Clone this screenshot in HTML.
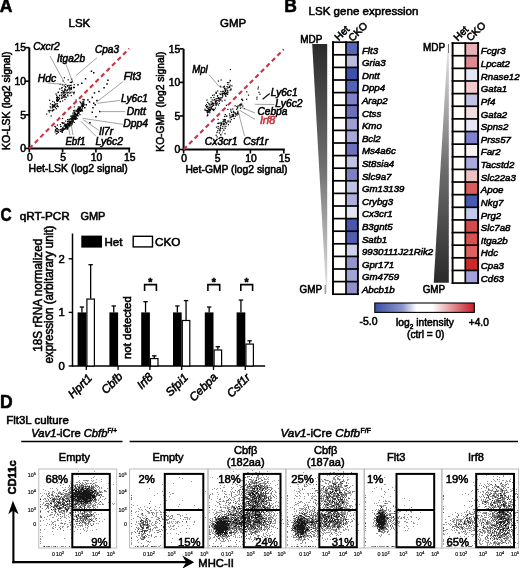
<!DOCTYPE html>
<html><head><meta charset="utf-8"><style>
html,body{margin:0;padding:0;background:#fff;}
svg{display:block;will-change:transform;filter:blur(0.3px);font-family:"Liberation Sans", sans-serif;}
text{stroke:#000;stroke-width:0.55px;}
.tk text{stroke-width:0.2px;}
</style></head><body>
<svg width="520" height="568" viewBox="0 0 520 568">
<defs><filter id="fb" x="-5%" y="-5%" width="110%" height="110%"><feGaussianBlur stdDeviation="0.35"/></filter></defs>
<rect width="520" height="568" fill="#fff"/>
<text x="-0.20" y="12.40" font-size="17.5" font-weight="bold">A</text>
<text x="284.30" y="12.40" font-size="17.5" font-weight="bold">B</text>
<text transform="translate(0.6,220.8) scale(0.88,1)" font-size="17.5" font-weight="bold">C</text>
<text x="0.00" y="407.80" font-size="17.5" font-weight="bold">D</text>
<g fill="#000">
<rect x="56.2" y="99.5" width="1.2" height="1.2"/>
<rect x="69.8" y="84.9" width="1.2" height="1.2"/>
<rect x="49.9" y="103.2" width="1.2" height="1.2"/>
<rect x="51.5" y="110.2" width="1.2" height="1.2"/>
<rect x="64.9" y="94.0" width="1.2" height="1.2"/>
<rect x="55.6" y="103.3" width="1.2" height="1.2"/>
<rect x="52.7" y="105.2" width="1.2" height="1.2"/>
<rect x="66.8" y="85.1" width="1.2" height="1.2"/>
<rect x="68.6" y="85.6" width="1.2" height="1.2"/>
<rect x="54.8" y="106.9" width="1.2" height="1.2"/>
<rect x="68.3" y="84.8" width="1.2" height="1.2"/>
<rect x="56.9" y="100.0" width="1.2" height="1.2"/>
<rect x="57.5" y="106.0" width="1.2" height="1.2"/>
<rect x="61.6" y="87.0" width="1.2" height="1.2"/>
<rect x="59.6" y="101.1" width="1.2" height="1.2"/>
<rect x="57.5" y="99.2" width="1.2" height="1.2"/>
<rect x="63.4" y="92.0" width="1.2" height="1.2"/>
<rect x="56.7" y="99.6" width="1.2" height="1.2"/>
<rect x="68.7" y="92.5" width="1.2" height="1.2"/>
<rect x="67.6" y="79.2" width="1.2" height="1.2"/>
<rect x="63.6" y="94.6" width="1.2" height="1.2"/>
<rect x="69.7" y="81.8" width="1.2" height="1.2"/>
<rect x="64.3" y="98.9" width="1.2" height="1.2"/>
<rect x="49.2" y="109.8" width="1.2" height="1.2"/>
<rect x="70.8" y="81.9" width="1.2" height="1.2"/>
<rect x="62.7" y="90.8" width="1.2" height="1.2"/>
<rect x="51.7" y="104.0" width="1.2" height="1.2"/>
<rect x="56.8" y="103.2" width="1.2" height="1.2"/>
<rect x="56.9" y="97.6" width="1.2" height="1.2"/>
<rect x="62.4" y="92.2" width="1.2" height="1.2"/>
<rect x="55.4" y="93.3" width="1.2" height="1.2"/>
<rect x="69.2" y="90.3" width="1.2" height="1.2"/>
<rect x="60.8" y="92.1" width="1.2" height="1.2"/>
<rect x="59.1" y="94.7" width="1.2" height="1.2"/>
<rect x="73.6" y="84.1" width="1.2" height="1.2"/>
<rect x="61.4" y="89.8" width="1.2" height="1.2"/>
<rect x="56.2" y="100.0" width="1.2" height="1.2"/>
<rect x="67.0" y="94.5" width="1.2" height="1.2"/>
<rect x="62.0" y="100.4" width="1.2" height="1.2"/>
<rect x="71.5" y="81.1" width="1.2" height="1.2"/>
<rect x="64.8" y="86.0" width="1.2" height="1.2"/>
<rect x="71.1" y="78.6" width="1.2" height="1.2"/>
<rect x="56.6" y="96.2" width="1.2" height="1.2"/>
<rect x="63.0" y="95.2" width="1.2" height="1.2"/>
<rect x="73.1" y="92.1" width="1.2" height="1.2"/>
<rect x="57.0" y="97.1" width="1.2" height="1.2"/>
<rect x="57.6" y="91.9" width="1.2" height="1.2"/>
<rect x="67.2" y="88.9" width="1.2" height="1.2"/>
<rect x="66.2" y="90.4" width="1.2" height="1.2"/>
<rect x="64.6" y="92.2" width="1.2" height="1.2"/>
<rect x="70.6" y="84.7" width="1.2" height="1.2"/>
<rect x="59.1" y="88.3" width="1.2" height="1.2"/>
<rect x="53.0" y="109.3" width="1.2" height="1.2"/>
<rect x="56.6" y="97.6" width="1.2" height="1.2"/>
<rect x="60.9" y="95.1" width="1.2" height="1.2"/>
<rect x="64.2" y="90.2" width="1.2" height="1.2"/>
<rect x="73.0" y="87.1" width="1.2" height="1.2"/>
<rect x="50.2" y="107.3" width="1.2" height="1.2"/>
<rect x="61.0" y="87.5" width="1.2" height="1.2"/>
<rect x="47.8" y="110.2" width="1.2" height="1.2"/>
<rect x="71.4" y="91.5" width="1.2" height="1.2"/>
<rect x="63.8" y="95.3" width="1.2" height="1.2"/>
<rect x="63.2" y="96.8" width="1.2" height="1.2"/>
<rect x="73.8" y="86.9" width="1.2" height="1.2"/>
<rect x="71.0" y="87.1" width="1.2" height="1.2"/>
<rect x="54.2" y="104.8" width="1.2" height="1.2"/>
<rect x="70.4" y="88.7" width="1.2" height="1.2"/>
<rect x="51.9" y="110.2" width="1.2" height="1.2"/>
<rect x="61.8" y="84.2" width="1.2" height="1.2"/>
<rect x="65.2" y="86.9" width="1.2" height="1.2"/>
<rect x="64.0" y="88.5" width="1.2" height="1.2"/>
<rect x="56.0" y="96.9" width="1.2" height="1.2"/>
<rect x="73.7" y="91.5" width="1.2" height="1.2"/>
<rect x="52.0" y="107.3" width="1.2" height="1.2"/>
<rect x="61.3" y="97.3" width="1.2" height="1.2"/>
<rect x="63.6" y="85.3" width="1.2" height="1.2"/>
<rect x="57.7" y="100.1" width="1.2" height="1.2"/>
<rect x="56.6" y="105.6" width="1.2" height="1.2"/>
<rect x="53.2" y="109.2" width="1.2" height="1.2"/>
<rect x="59.5" y="83.7" width="1.2" height="1.2"/>
<rect x="63.3" y="93.1" width="1.2" height="1.2"/>
<rect x="58.3" y="96.9" width="1.2" height="1.2"/>
<rect x="49.4" y="110.0" width="1.2" height="1.2"/>
<rect x="56.4" y="98.8" width="1.2" height="1.2"/>
<rect x="49.0" y="99.7" width="1.2" height="1.2"/>
<rect x="64.5" y="96.7" width="1.2" height="1.2"/>
<rect x="64.5" y="88.8" width="1.2" height="1.2"/>
<rect x="62.6" y="91.5" width="1.2" height="1.2"/>
<rect x="63.6" y="94.7" width="1.2" height="1.2"/>
<rect x="56.6" y="100.9" width="1.2" height="1.2"/>
<rect x="54.9" y="103.4" width="1.2" height="1.2"/>
<rect x="48.8" y="111.4" width="1.2" height="1.2"/>
<rect x="66.8" y="85.6" width="1.2" height="1.2"/>
<rect x="62.8" y="95.0" width="1.2" height="1.2"/>
<rect x="70.6" y="88.6" width="1.2" height="1.2"/>
<rect x="62.5" y="80.4" width="1.2" height="1.2"/>
<rect x="66.5" y="92.3" width="1.2" height="1.2"/>
<rect x="67.6" y="91.8" width="1.2" height="1.2"/>
<rect x="70.7" y="95.0" width="1.2" height="1.2"/>
<rect x="71.8" y="80.6" width="1.2" height="1.2"/>
<rect x="68.5" y="87.2" width="1.2" height="1.2"/>
<rect x="59.0" y="97.9" width="1.2" height="1.2"/>
<rect x="57.3" y="97.1" width="1.2" height="1.2"/>
<rect x="49.6" y="106.2" width="1.2" height="1.2"/>
<rect x="66.5" y="92.4" width="1.2" height="1.2"/>
<rect x="61.8" y="96.5" width="1.2" height="1.2"/>
<rect x="52.6" y="104.6" width="1.2" height="1.2"/>
<rect x="55.7" y="108.1" width="1.2" height="1.2"/>
<rect x="64.5" y="95.6" width="1.2" height="1.2"/>
<rect x="51.9" y="109.6" width="1.2" height="1.2"/>
<rect x="51.7" y="106.1" width="1.2" height="1.2"/>
<rect x="52.2" y="106.2" width="1.2" height="1.2"/>
<rect x="53.6" y="105.3" width="1.2" height="1.2"/>
<rect x="52.3" y="104.6" width="1.2" height="1.2"/>
<rect x="46.1" y="113.5" width="1.2" height="1.2"/>
<rect x="70.6" y="86.8" width="1.2" height="1.2"/>
<rect x="70.0" y="92.3" width="1.2" height="1.2"/>
<rect x="63.8" y="77.2" width="1.2" height="1.2"/>
<rect x="73.3" y="93.1" width="1.2" height="1.2"/>
<rect x="58.9" y="95.2" width="1.2" height="1.2"/>
<rect x="52.1" y="100.9" width="1.2" height="1.2"/>
<rect x="66.6" y="89.7" width="1.2" height="1.2"/>
<rect x="65.6" y="96.6" width="1.2" height="1.2"/>
<rect x="53.9" y="106.1" width="1.2" height="1.2"/>
<rect x="59.8" y="100.8" width="1.2" height="1.2"/>
<rect x="65.1" y="89.5" width="1.2" height="1.2"/>
<rect x="54.1" y="105.6" width="1.2" height="1.2"/>
<rect x="52.3" y="105.9" width="1.2" height="1.2"/>
<rect x="57.7" y="99.6" width="1.2" height="1.2"/>
<rect x="50.6" y="115.3" width="1.2" height="1.2"/>
<rect x="63.9" y="90.3" width="1.2" height="1.2"/>
<rect x="56.0" y="94.6" width="1.2" height="1.2"/>
<rect x="67.4" y="95.3" width="1.2" height="1.2"/>
<rect x="52.9" y="106.0" width="1.2" height="1.2"/>
<rect x="70.8" y="88.3" width="1.2" height="1.2"/>
<rect x="54.1" y="103.7" width="1.2" height="1.2"/>
<rect x="56.3" y="105.5" width="1.2" height="1.2"/>
<rect x="53.8" y="101.7" width="1.2" height="1.2"/>
<rect x="73.1" y="86.7" width="1.2" height="1.2"/>
<rect x="68.6" y="88.4" width="1.2" height="1.2"/>
<rect x="57.7" y="91.6" width="1.2" height="1.2"/>
<rect x="63.7" y="91.7" width="1.2" height="1.2"/>
<rect x="68.5" y="87.0" width="1.2" height="1.2"/>
<rect x="69.6" y="87.8" width="1.2" height="1.2"/>
<rect x="65.1" y="83.8" width="1.2" height="1.2"/>
<rect x="68.5" y="88.4" width="1.2" height="1.2"/>
<rect x="58.3" y="98.8" width="1.2" height="1.2"/>
<rect x="57.0" y="105.3" width="1.2" height="1.2"/>
<rect x="61.4" y="93.6" width="1.2" height="1.2"/>
<rect x="61.1" y="97.9" width="1.2" height="1.2"/>
<rect x="69.5" y="124.2" width="1.2" height="1.2"/>
<rect x="78.7" y="108.6" width="1.2" height="1.2"/>
<rect x="72.2" y="120.9" width="1.2" height="1.2"/>
<rect x="56.8" y="128.0" width="1.2" height="1.2"/>
<rect x="62.3" y="127.3" width="1.2" height="1.2"/>
<rect x="81.8" y="110.2" width="1.2" height="1.2"/>
<rect x="75.4" y="117.0" width="1.2" height="1.2"/>
<rect x="68.8" y="124.0" width="1.2" height="1.2"/>
<rect x="59.8" y="124.0" width="1.2" height="1.2"/>
<rect x="73.2" y="114.6" width="1.2" height="1.2"/>
<rect x="67.2" y="121.1" width="1.2" height="1.2"/>
<rect x="64.9" y="124.4" width="1.2" height="1.2"/>
<rect x="67.9" y="124.5" width="1.2" height="1.2"/>
<rect x="65.1" y="120.5" width="1.2" height="1.2"/>
<rect x="57.5" y="131.6" width="1.2" height="1.2"/>
<rect x="80.1" y="110.6" width="1.2" height="1.2"/>
<rect x="67.7" y="123.2" width="1.2" height="1.2"/>
<rect x="72.7" y="116.8" width="1.2" height="1.2"/>
<rect x="60.1" y="126.0" width="1.2" height="1.2"/>
<rect x="73.4" y="116.5" width="1.2" height="1.2"/>
<rect x="60.1" y="129.1" width="1.2" height="1.2"/>
<rect x="76.8" y="113.0" width="1.2" height="1.2"/>
<rect x="73.8" y="112.1" width="1.2" height="1.2"/>
<rect x="66.5" y="126.0" width="1.2" height="1.2"/>
<rect x="71.4" y="119.8" width="1.2" height="1.2"/>
<rect x="67.9" y="123.9" width="1.2" height="1.2"/>
<rect x="74.2" y="115.2" width="1.2" height="1.2"/>
<rect x="70.6" y="124.7" width="1.2" height="1.2"/>
<rect x="78.8" y="108.5" width="1.2" height="1.2"/>
<rect x="67.0" y="127.4" width="1.2" height="1.2"/>
<rect x="80.2" y="107.4" width="1.2" height="1.2"/>
<rect x="64.3" y="128.0" width="1.2" height="1.2"/>
<rect x="60.6" y="128.7" width="1.2" height="1.2"/>
<rect x="66.9" y="122.8" width="1.2" height="1.2"/>
<rect x="65.4" y="127.3" width="1.2" height="1.2"/>
<rect x="64.6" y="125.1" width="1.2" height="1.2"/>
<rect x="72.8" y="120.3" width="1.2" height="1.2"/>
<rect x="73.5" y="116.0" width="1.2" height="1.2"/>
<rect x="68.9" y="121.0" width="1.2" height="1.2"/>
<rect x="77.5" y="115.4" width="1.2" height="1.2"/>
<rect x="70.5" y="118.5" width="1.2" height="1.2"/>
<rect x="66.3" y="124.0" width="1.2" height="1.2"/>
<rect x="82.4" y="102.6" width="1.2" height="1.2"/>
<rect x="80.9" y="109.7" width="1.2" height="1.2"/>
<rect x="69.3" y="120.4" width="1.2" height="1.2"/>
<rect x="72.2" y="119.2" width="1.2" height="1.2"/>
<rect x="68.6" y="122.6" width="1.2" height="1.2"/>
<rect x="68.7" y="121.6" width="1.2" height="1.2"/>
<rect x="83.6" y="103.6" width="1.2" height="1.2"/>
<rect x="80.6" y="105.7" width="1.2" height="1.2"/>
<rect x="55.7" y="133.3" width="1.2" height="1.2"/>
<rect x="82.4" y="98.8" width="1.2" height="1.2"/>
<rect x="71.2" y="124.2" width="1.2" height="1.2"/>
<rect x="68.6" y="124.0" width="1.2" height="1.2"/>
<rect x="71.0" y="122.7" width="1.2" height="1.2"/>
<rect x="65.4" y="126.3" width="1.2" height="1.2"/>
<rect x="73.7" y="111.5" width="1.2" height="1.2"/>
<rect x="65.3" y="124.9" width="1.2" height="1.2"/>
<rect x="68.4" y="122.5" width="1.2" height="1.2"/>
<rect x="80.1" y="110.4" width="1.2" height="1.2"/>
<rect x="73.0" y="116.1" width="1.2" height="1.2"/>
<rect x="68.0" y="126.5" width="1.2" height="1.2"/>
<rect x="82.4" y="100.9" width="1.2" height="1.2"/>
<rect x="73.7" y="117.2" width="1.2" height="1.2"/>
<rect x="74.7" y="117.7" width="1.2" height="1.2"/>
<rect x="83.4" y="104.5" width="1.2" height="1.2"/>
<rect x="82.8" y="102.8" width="1.2" height="1.2"/>
<rect x="57.5" y="129.0" width="1.2" height="1.2"/>
<rect x="82.5" y="104.4" width="1.2" height="1.2"/>
<rect x="58.4" y="129.3" width="1.2" height="1.2"/>
<rect x="66.1" y="126.7" width="1.2" height="1.2"/>
<rect x="69.5" y="124.0" width="1.2" height="1.2"/>
<rect x="56.8" y="124.5" width="1.2" height="1.2"/>
<rect x="80.1" y="102.0" width="1.2" height="1.2"/>
<rect x="66.3" y="125.8" width="1.2" height="1.2"/>
<rect x="64.2" y="124.3" width="1.2" height="1.2"/>
<rect x="55.1" y="129.5" width="1.2" height="1.2"/>
<rect x="82.6" y="102.3" width="1.2" height="1.2"/>
<rect x="62.3" y="129.7" width="1.2" height="1.2"/>
<rect x="76.5" y="110.7" width="1.2" height="1.2"/>
<rect x="73.1" y="118.4" width="1.2" height="1.2"/>
<rect x="73.4" y="116.1" width="1.2" height="1.2"/>
<rect x="59.8" y="130.8" width="1.2" height="1.2"/>
<rect x="76.4" y="113.7" width="1.2" height="1.2"/>
<rect x="81.3" y="105.1" width="1.2" height="1.2"/>
<rect x="61.5" y="122.0" width="1.2" height="1.2"/>
<rect x="62.9" y="128.3" width="1.2" height="1.2"/>
<rect x="79.7" y="110.6" width="1.2" height="1.2"/>
<rect x="73.6" y="121.8" width="1.2" height="1.2"/>
<rect x="67.9" y="126.1" width="1.2" height="1.2"/>
<rect x="67.4" y="125.9" width="1.2" height="1.2"/>
<rect x="82.0" y="105.8" width="1.2" height="1.2"/>
<rect x="63.4" y="125.5" width="1.2" height="1.2"/>
<rect x="67.0" y="127.8" width="1.2" height="1.2"/>
<rect x="74.9" y="114.0" width="1.2" height="1.2"/>
<rect x="74.1" y="116.7" width="1.2" height="1.2"/>
<rect x="68.1" y="120.7" width="1.2" height="1.2"/>
<rect x="70.4" y="118.5" width="1.2" height="1.2"/>
<rect x="79.4" y="107.0" width="1.2" height="1.2"/>
<rect x="82.6" y="104.9" width="1.2" height="1.2"/>
<rect x="81.6" y="103.9" width="1.2" height="1.2"/>
<rect x="57.8" y="131.7" width="1.2" height="1.2"/>
<rect x="77.7" y="111.4" width="1.2" height="1.2"/>
<rect x="81.9" y="107.2" width="1.2" height="1.2"/>
<rect x="77.8" y="106.3" width="1.2" height="1.2"/>
<rect x="75.6" y="115.0" width="1.2" height="1.2"/>
<rect x="55.0" y="126.5" width="1.2" height="1.2"/>
<rect x="63.9" y="124.5" width="1.2" height="1.2"/>
<rect x="70.5" y="120.6" width="1.2" height="1.2"/>
<rect x="74.1" y="117.8" width="1.2" height="1.2"/>
<rect x="55.8" y="127.9" width="1.2" height="1.2"/>
<rect x="62.2" y="129.8" width="1.2" height="1.2"/>
<rect x="67.1" y="121.1" width="1.2" height="1.2"/>
<rect x="65.4" y="123.4" width="1.2" height="1.2"/>
<rect x="75.6" y="117.2" width="1.2" height="1.2"/>
<rect x="73.2" y="116.0" width="1.2" height="1.2"/>
<rect x="73.2" y="110.1" width="1.2" height="1.2"/>
<rect x="73.6" y="113.6" width="1.2" height="1.2"/>
<rect x="69.4" y="125.4" width="1.2" height="1.2"/>
<rect x="67.5" y="125.6" width="1.2" height="1.2"/>
<rect x="77.8" y="109.9" width="1.2" height="1.2"/>
<rect x="79.4" y="109.9" width="1.2" height="1.2"/>
<rect x="78.9" y="107.9" width="1.2" height="1.2"/>
<rect x="68.6" y="124.6" width="1.2" height="1.2"/>
<rect x="77.1" y="112.4" width="1.2" height="1.2"/>
<rect x="74.9" y="113.2" width="1.2" height="1.2"/>
<rect x="72.0" y="115.6" width="1.2" height="1.2"/>
<rect x="72.7" y="116.2" width="1.2" height="1.2"/>
<rect x="71.4" y="120.8" width="1.2" height="1.2"/>
<rect x="77.6" y="107.8" width="1.2" height="1.2"/>
<rect x="68.8" y="118.6" width="1.2" height="1.2"/>
<rect x="54.4" y="125.8" width="1.2" height="1.2"/>
<rect x="64.8" y="127.6" width="1.2" height="1.2"/>
<rect x="75.2" y="115.8" width="1.2" height="1.2"/>
<rect x="61.6" y="131.2" width="1.2" height="1.2"/>
<rect x="65.4" y="126.8" width="1.2" height="1.2"/>
<rect x="78.8" y="108.8" width="1.2" height="1.2"/>
<rect x="63.8" y="113.5" width="1.2" height="1.2"/>
<rect x="66.8" y="126.5" width="1.2" height="1.2"/>
<rect x="74.4" y="113.8" width="1.2" height="1.2"/>
<rect x="73.8" y="115.0" width="1.2" height="1.2"/>
<rect x="78.4" y="109.4" width="1.2" height="1.2"/>
<rect x="81.8" y="108.3" width="1.2" height="1.2"/>
<rect x="62.0" y="117.9" width="1.2" height="1.2"/>
<rect x="74.1" y="112.2" width="1.2" height="1.2"/>
<rect x="79.0" y="109.1" width="1.2" height="1.2"/>
<rect x="65.6" y="128.3" width="1.2" height="1.2"/>
<rect x="72.6" y="116.8" width="1.2" height="1.2"/>
<rect x="67.7" y="124.1" width="1.2" height="1.2"/>
<rect x="71.0" y="115.5" width="1.2" height="1.2"/>
<rect x="74.0" y="112.1" width="1.2" height="1.2"/>
<rect x="69.9" y="121.8" width="1.2" height="1.2"/>
<rect x="67.7" y="124.1" width="1.2" height="1.2"/>
<rect x="69.5" y="121.9" width="1.2" height="1.2"/>
<rect x="73.9" y="114.8" width="1.2" height="1.2"/>
<rect x="71.4" y="118.8" width="1.2" height="1.2"/>
<rect x="80.6" y="103.2" width="1.2" height="1.2"/>
<rect x="56.5" y="130.8" width="1.2" height="1.2"/>
<rect x="71.3" y="118.7" width="1.2" height="1.2"/>
<rect x="76.1" y="110.2" width="1.2" height="1.2"/>
<rect x="65.9" y="124.3" width="1.2" height="1.2"/>
<rect x="68.0" y="124.7" width="1.2" height="1.2"/>
<rect x="77.2" y="114.7" width="1.2" height="1.2"/>
<rect x="72.2" y="117.7" width="1.2" height="1.2"/>
<rect x="77.7" y="107.9" width="1.2" height="1.2"/>
<rect x="72.4" y="117.3" width="1.2" height="1.2"/>
<rect x="64.5" y="124.5" width="1.2" height="1.2"/>
<rect x="72.4" y="120.5" width="1.2" height="1.2"/>
<rect x="56.6" y="127.8" width="1.2" height="1.2"/>
<rect x="61.9" y="131.5" width="1.2" height="1.2"/>
<rect x="83.2" y="101.3" width="1.2" height="1.2"/>
<rect x="62.8" y="122.6" width="1.2" height="1.2"/>
<rect x="61.1" y="131.2" width="1.2" height="1.2"/>
<rect x="74.5" y="118.7" width="1.2" height="1.2"/>
<rect x="79.1" y="106.4" width="1.2" height="1.2"/>
<rect x="69.4" y="123.4" width="1.2" height="1.2"/>
<rect x="62.4" y="127.3" width="1.2" height="1.2"/>
<rect x="73.6" y="112.3" width="1.2" height="1.2"/>
<rect x="66.8" y="128.5" width="1.2" height="1.2"/>
<rect x="75.0" y="113.8" width="1.2" height="1.2"/>
<rect x="65.0" y="125.5" width="1.2" height="1.2"/>
<rect x="81.6" y="105.0" width="1.2" height="1.2"/>
<rect x="79.9" y="107.1" width="1.2" height="1.2"/>
<rect x="78.1" y="112.7" width="1.2" height="1.2"/>
<rect x="69.8" y="123.0" width="1.2" height="1.2"/>
<rect x="79.5" y="106.9" width="1.2" height="1.2"/>
<rect x="81.9" y="104.1" width="1.2" height="1.2"/>
<rect x="68.6" y="125.1" width="1.2" height="1.2"/>
<rect x="67.0" y="119.1" width="1.2" height="1.2"/>
<rect x="75.7" y="118.4" width="1.2" height="1.2"/>
<rect x="75.7" y="114.1" width="1.2" height="1.2"/>
<rect x="83.4" y="99.3" width="1.2" height="1.2"/>
<rect x="79.9" y="110.7" width="1.2" height="1.2"/>
<rect x="61.2" y="129.6" width="1.2" height="1.2"/>
<rect x="65.5" y="125.8" width="1.2" height="1.2"/>
<rect x="67.4" y="124.5" width="1.2" height="1.2"/>
<rect x="78.2" y="107.8" width="1.2" height="1.2"/>
<rect x="75.4" y="115.5" width="1.2" height="1.2"/>
<rect x="63.3" y="128.7" width="1.2" height="1.2"/>
<rect x="77.2" y="110.8" width="1.2" height="1.2"/>
<rect x="67.9" y="124.9" width="1.2" height="1.2"/>
<rect x="70.4" y="121.1" width="1.2" height="1.2"/>
<rect x="74.7" y="118.9" width="1.2" height="1.2"/>
<rect x="81.7" y="102.6" width="1.2" height="1.2"/>
<rect x="63.7" y="122.5" width="1.2" height="1.2"/>
<rect x="77.9" y="112.3" width="1.2" height="1.2"/>
<rect x="60.3" y="125.8" width="1.2" height="1.2"/>
<rect x="71.9" y="118.0" width="1.2" height="1.2"/>
<rect x="67.5" y="126.5" width="1.2" height="1.2"/>
<rect x="81.5" y="110.1" width="1.2" height="1.2"/>
<rect x="80.5" y="108.8" width="1.2" height="1.2"/>
<rect x="68.1" y="126.0" width="1.2" height="1.2"/>
<rect x="70.2" y="122.3" width="1.2" height="1.2"/>
<rect x="62.2" y="122.7" width="1.2" height="1.2"/>
<rect x="68.0" y="124.2" width="1.2" height="1.2"/>
<rect x="78.8" y="111.4" width="1.2" height="1.2"/>
<rect x="67.1" y="125.7" width="1.2" height="1.2"/>
<rect x="66.6" y="125.4" width="1.2" height="1.2"/>
<rect x="55.2" y="129.0" width="1.2" height="1.2"/>
<rect x="66.5" y="124.0" width="1.2" height="1.2"/>
<rect x="70.2" y="118.1" width="1.2" height="1.2"/>
<rect x="77.9" y="110.3" width="1.2" height="1.2"/>
<rect x="61.5" y="129.0" width="1.2" height="1.2"/>
<rect x="73.3" y="110.2" width="1.2" height="1.2"/>
<rect x="76.7" y="115.0" width="1.2" height="1.2"/>
<rect x="74.8" y="116.1" width="1.2" height="1.2"/>
<rect x="61.8" y="122.1" width="1.2" height="1.2"/>
<rect x="79.4" y="101.1" width="1.2" height="1.2"/>
<rect x="70.1" y="115.6" width="1.2" height="1.2"/>
<rect x="72.5" y="118.5" width="1.2" height="1.2"/>
<rect x="66.7" y="123.7" width="1.2" height="1.2"/>
<rect x="70.6" y="121.4" width="1.2" height="1.2"/>
<rect x="64.1" y="128.6" width="1.2" height="1.2"/>
<rect x="66.4" y="126.3" width="1.2" height="1.2"/>
<rect x="73.7" y="106.3" width="1.2" height="1.2"/>
<rect x="56.4" y="132.9" width="1.2" height="1.2"/>
<rect x="62.5" y="129.5" width="1.2" height="1.2"/>
<rect x="74.0" y="115.9" width="1.2" height="1.2"/>
<rect x="69.6" y="123.0" width="1.2" height="1.2"/>
<rect x="54.6" y="131.3" width="1.2" height="1.2"/>
<rect x="70.9" y="116.6" width="1.2" height="1.2"/>
<rect x="76.8" y="108.8" width="1.2" height="1.2"/>
<rect x="77.2" y="111.3" width="1.2" height="1.2"/>
<rect x="72.3" y="112.6" width="1.2" height="1.2"/>
<rect x="71.5" y="117.9" width="1.2" height="1.2"/>
<rect x="72.2" y="114.6" width="1.2" height="1.2"/>
<rect x="79.4" y="114.0" width="1.2" height="1.2"/>
<rect x="75.4" y="111.0" width="1.2" height="1.2"/>
<rect x="68.3" y="119.2" width="1.2" height="1.2"/>
<rect x="76.7" y="109.7" width="1.2" height="1.2"/>
<rect x="79.7" y="108.5" width="1.2" height="1.2"/>
<rect x="65.8" y="126.0" width="1.2" height="1.2"/>
<rect x="74.2" y="117.8" width="1.2" height="1.2"/>
<rect x="74.5" y="109.7" width="1.2" height="1.2"/>
<rect x="80.8" y="109.2" width="1.2" height="1.2"/>
<rect x="54.8" y="129.6" width="1.2" height="1.2"/>
<rect x="76.6" y="118.0" width="1.2" height="1.2"/>
<rect x="78.1" y="109.9" width="1.2" height="1.2"/>
<rect x="78.1" y="112.9" width="1.2" height="1.2"/>
<rect x="57.1" y="130.6" width="1.2" height="1.2"/>
<rect x="71.3" y="123.4" width="1.2" height="1.2"/>
<rect x="75.5" y="99.5" width="1.2" height="1.2"/>
<rect x="60.1" y="129.1" width="1.2" height="1.2"/>
<rect x="76.9" y="114.3" width="1.2" height="1.2"/>
<rect x="71.4" y="122.7" width="1.2" height="1.2"/>
<rect x="79.2" y="108.6" width="1.2" height="1.2"/>
<rect x="78.9" y="109.8" width="1.2" height="1.2"/>
<rect x="83.5" y="99.2" width="1.2" height="1.2"/>
<rect x="75.6" y="113.9" width="1.2" height="1.2"/>
<rect x="61.8" y="128.0" width="1.2" height="1.2"/>
<rect x="74.0" y="118.3" width="1.2" height="1.2"/>
<rect x="55.9" y="130.6" width="1.2" height="1.2"/>
<rect x="78.3" y="109.4" width="1.2" height="1.2"/>
<rect x="66.8" y="126.6" width="1.2" height="1.2"/>
<rect x="64.6" y="126.1" width="1.2" height="1.2"/>
<rect x="66.3" y="124.3" width="1.2" height="1.2"/>
<rect x="72.8" y="117.8" width="1.2" height="1.2"/>
<rect x="68.8" y="124.5" width="1.2" height="1.2"/>
<rect x="72.0" y="121.6" width="1.2" height="1.2"/>
<rect x="83.0" y="103.1" width="1.2" height="1.2"/>
<rect x="90.7" y="70.5" width="1.5" height="1.5"/>
<rect x="93.0" y="72.0" width="1.5" height="1.5"/>
<rect x="84.8" y="78.0" width="1.5" height="1.5"/>
<rect x="81.0" y="82.5" width="1.5" height="1.5"/>
<rect x="77.2" y="84.0" width="1.5" height="1.5"/>
<rect x="107.2" y="79.5" width="1.5" height="1.5"/>
<rect x="106.3" y="83.2" width="1.5" height="1.5"/>
<rect x="103.3" y="87.0" width="1.5" height="1.5"/>
<rect x="98.2" y="90.7" width="1.5" height="1.5"/>
<rect x="93.7" y="92.2" width="1.5" height="1.5"/>
<rect x="91.5" y="96.7" width="1.5" height="1.5"/>
<rect x="93.0" y="102.5" width="1.5" height="1.5"/>
<rect x="94.5" y="104.0" width="1.5" height="1.5"/>
<rect x="92.2" y="107.0" width="1.5" height="1.5"/>
<rect x="91.5" y="111.5" width="1.5" height="1.5"/>
<rect x="99.0" y="110.8" width="1.5" height="1.5"/>
<rect x="95.2" y="116.0" width="1.5" height="1.5"/>
<rect x="89.2" y="122.0" width="1.5" height="1.5"/>
<rect x="85.5" y="104.0" width="1.5" height="1.5"/>
<rect x="84.0" y="107.0" width="1.5" height="1.5"/>
<rect x="82.5" y="105.5" width="1.5" height="1.5"/>
<rect x="87.2" y="99.2" width="1.5" height="1.5"/>
<rect x="88.8" y="101.2" width="1.5" height="1.5"/>
<rect x="96.2" y="99.8" width="1.5" height="1.5"/>
<rect x="228.9" y="86.4" width="1.2" height="1.2"/>
<rect x="206.3" y="107.0" width="1.2" height="1.2"/>
<rect x="229.8" y="68.9" width="1.2" height="1.2"/>
<rect x="229.2" y="86.1" width="1.2" height="1.2"/>
<rect x="204.4" y="108.6" width="1.2" height="1.2"/>
<rect x="218.9" y="97.7" width="1.2" height="1.2"/>
<rect x="217.6" y="97.8" width="1.2" height="1.2"/>
<rect x="208.9" y="110.5" width="1.2" height="1.2"/>
<rect x="215.7" y="103.3" width="1.2" height="1.2"/>
<rect x="219.5" y="85.7" width="1.2" height="1.2"/>
<rect x="226.5" y="86.0" width="1.2" height="1.2"/>
<rect x="209.8" y="107.3" width="1.2" height="1.2"/>
<rect x="223.9" y="85.6" width="1.2" height="1.2"/>
<rect x="205.9" y="106.0" width="1.2" height="1.2"/>
<rect x="229.5" y="84.5" width="1.2" height="1.2"/>
<rect x="213.1" y="104.8" width="1.2" height="1.2"/>
<rect x="225.3" y="95.8" width="1.2" height="1.2"/>
<rect x="217.8" y="97.4" width="1.2" height="1.2"/>
<rect x="229.7" y="79.8" width="1.2" height="1.2"/>
<rect x="206.6" y="115.2" width="1.2" height="1.2"/>
<rect x="209.8" y="109.0" width="1.2" height="1.2"/>
<rect x="205.9" y="103.9" width="1.2" height="1.2"/>
<rect x="211.9" y="105.7" width="1.2" height="1.2"/>
<rect x="223.9" y="93.3" width="1.2" height="1.2"/>
<rect x="212.5" y="104.4" width="1.2" height="1.2"/>
<rect x="205.6" y="109.8" width="1.2" height="1.2"/>
<rect x="224.8" y="90.6" width="1.2" height="1.2"/>
<rect x="214.9" y="101.7" width="1.2" height="1.2"/>
<rect x="210.4" y="101.1" width="1.2" height="1.2"/>
<rect x="220.0" y="93.9" width="1.2" height="1.2"/>
<rect x="222.3" y="90.9" width="1.2" height="1.2"/>
<rect x="209.4" y="104.7" width="1.2" height="1.2"/>
<rect x="209.1" y="103.5" width="1.2" height="1.2"/>
<rect x="230.3" y="89.2" width="1.2" height="1.2"/>
<rect x="219.2" y="99.4" width="1.2" height="1.2"/>
<rect x="212.1" y="94.7" width="1.2" height="1.2"/>
<rect x="210.6" y="108.2" width="1.2" height="1.2"/>
<rect x="214.8" y="107.5" width="1.2" height="1.2"/>
<rect x="217.6" y="97.5" width="1.2" height="1.2"/>
<rect x="226.3" y="91.8" width="1.2" height="1.2"/>
<rect x="215.5" y="103.2" width="1.2" height="1.2"/>
<rect x="215.3" y="99.6" width="1.2" height="1.2"/>
<rect x="211.6" y="103.0" width="1.2" height="1.2"/>
<rect x="224.9" y="90.0" width="1.2" height="1.2"/>
<rect x="221.6" y="97.1" width="1.2" height="1.2"/>
<rect x="215.7" y="98.1" width="1.2" height="1.2"/>
<rect x="227.3" y="87.2" width="1.2" height="1.2"/>
<rect x="213.3" y="96.9" width="1.2" height="1.2"/>
<rect x="220.6" y="79.4" width="1.2" height="1.2"/>
<rect x="215.5" y="104.9" width="1.2" height="1.2"/>
<rect x="209.5" y="109.8" width="1.2" height="1.2"/>
<rect x="217.1" y="90.4" width="1.2" height="1.2"/>
<rect x="206.8" y="111.3" width="1.2" height="1.2"/>
<rect x="210.6" y="103.8" width="1.2" height="1.2"/>
<rect x="225.2" y="93.3" width="1.2" height="1.2"/>
<rect x="217.8" y="104.4" width="1.2" height="1.2"/>
<rect x="220.2" y="98.2" width="1.2" height="1.2"/>
<rect x="225.7" y="92.9" width="1.2" height="1.2"/>
<rect x="211.2" y="108.2" width="1.2" height="1.2"/>
<rect x="226.9" y="82.0" width="1.2" height="1.2"/>
<rect x="210.4" y="97.1" width="1.2" height="1.2"/>
<rect x="218.1" y="97.2" width="1.2" height="1.2"/>
<rect x="208.3" y="108.7" width="1.2" height="1.2"/>
<rect x="208.7" y="107.2" width="1.2" height="1.2"/>
<rect x="212.7" y="102.7" width="1.2" height="1.2"/>
<rect x="205.1" y="105.2" width="1.2" height="1.2"/>
<rect x="222.2" y="95.3" width="1.2" height="1.2"/>
<rect x="209.2" y="112.1" width="1.2" height="1.2"/>
<rect x="219.3" y="99.0" width="1.2" height="1.2"/>
<rect x="214.1" y="98.9" width="1.2" height="1.2"/>
<rect x="221.8" y="92.6" width="1.2" height="1.2"/>
<rect x="220.2" y="86.3" width="1.2" height="1.2"/>
<rect x="219.3" y="93.2" width="1.2" height="1.2"/>
<rect x="228.3" y="82.0" width="1.2" height="1.2"/>
<rect x="216.3" y="100.0" width="1.2" height="1.2"/>
<rect x="224.3" y="99.6" width="1.2" height="1.2"/>
<rect x="204.5" y="109.8" width="1.2" height="1.2"/>
<rect x="212.5" y="103.1" width="1.2" height="1.2"/>
<rect x="215.1" y="103.4" width="1.2" height="1.2"/>
<rect x="227.1" y="90.3" width="1.2" height="1.2"/>
<rect x="217.8" y="80.5" width="1.2" height="1.2"/>
<rect x="226.3" y="88.3" width="1.2" height="1.2"/>
<rect x="216.5" y="102.2" width="1.2" height="1.2"/>
<rect x="212.5" y="104.6" width="1.2" height="1.2"/>
<rect x="222.8" y="93.1" width="1.2" height="1.2"/>
<rect x="215.9" y="92.4" width="1.2" height="1.2"/>
<rect x="229.6" y="80.4" width="1.2" height="1.2"/>
<rect x="221.8" y="93.6" width="1.2" height="1.2"/>
<rect x="208.3" y="109.8" width="1.2" height="1.2"/>
<rect x="217.0" y="95.5" width="1.2" height="1.2"/>
<rect x="223.5" y="86.4" width="1.2" height="1.2"/>
<rect x="216.9" y="95.1" width="1.2" height="1.2"/>
<rect x="206.3" y="105.8" width="1.2" height="1.2"/>
<rect x="220.3" y="91.0" width="1.2" height="1.2"/>
<rect x="221.9" y="95.3" width="1.2" height="1.2"/>
<rect x="224.2" y="93.3" width="1.2" height="1.2"/>
<rect x="220.4" y="96.9" width="1.2" height="1.2"/>
<rect x="210.5" y="106.0" width="1.2" height="1.2"/>
<rect x="227.3" y="91.9" width="1.2" height="1.2"/>
<rect x="208.5" y="106.6" width="1.2" height="1.2"/>
<rect x="215.5" y="91.6" width="1.2" height="1.2"/>
<rect x="227.1" y="93.5" width="1.2" height="1.2"/>
<rect x="215.4" y="92.7" width="1.2" height="1.2"/>
<rect x="228.9" y="86.9" width="1.2" height="1.2"/>
<rect x="225.2" y="93.2" width="1.2" height="1.2"/>
<rect x="207.0" y="113.6" width="1.2" height="1.2"/>
<rect x="223.9" y="92.0" width="1.2" height="1.2"/>
<rect x="206.7" y="112.0" width="1.2" height="1.2"/>
<rect x="211.6" y="99.3" width="1.2" height="1.2"/>
<rect x="231.3" y="85.2" width="1.2" height="1.2"/>
<rect x="221.5" y="100.4" width="1.2" height="1.2"/>
<rect x="214.8" y="101.3" width="1.2" height="1.2"/>
<rect x="220.2" y="99.3" width="1.2" height="1.2"/>
<rect x="207.1" y="101.8" width="1.2" height="1.2"/>
<rect x="229.5" y="89.6" width="1.2" height="1.2"/>
<rect x="224.2" y="88.4" width="1.2" height="1.2"/>
<rect x="218.7" y="102.8" width="1.2" height="1.2"/>
<rect x="213.7" y="94.4" width="1.2" height="1.2"/>
<rect x="207.1" y="111.6" width="1.2" height="1.2"/>
<rect x="224.9" y="94.7" width="1.2" height="1.2"/>
<rect x="216.4" y="103.3" width="1.2" height="1.2"/>
<rect x="206.0" y="110.3" width="1.2" height="1.2"/>
<rect x="217.7" y="98.3" width="1.2" height="1.2"/>
<rect x="224.8" y="91.0" width="1.2" height="1.2"/>
<rect x="222.7" y="86.5" width="1.2" height="1.2"/>
<rect x="207.7" y="111.1" width="1.2" height="1.2"/>
<rect x="224.9" y="89.6" width="1.2" height="1.2"/>
<rect x="222.5" y="90.7" width="1.2" height="1.2"/>
<rect x="217.5" y="99.9" width="1.2" height="1.2"/>
<rect x="227.3" y="83.9" width="1.2" height="1.2"/>
<rect x="215.5" y="100.7" width="1.2" height="1.2"/>
<rect x="209.6" y="109.1" width="1.2" height="1.2"/>
<rect x="224.3" y="87.7" width="1.2" height="1.2"/>
<rect x="207.2" y="114.8" width="1.2" height="1.2"/>
<rect x="207.0" y="110.0" width="1.2" height="1.2"/>
<rect x="207.8" y="108.5" width="1.2" height="1.2"/>
<rect x="230.4" y="88.3" width="1.2" height="1.2"/>
<rect x="213.4" y="103.0" width="1.2" height="1.2"/>
<rect x="211.0" y="104.0" width="1.2" height="1.2"/>
<rect x="221.5" y="93.6" width="1.2" height="1.2"/>
<rect x="212.8" y="108.6" width="1.2" height="1.2"/>
<rect x="211.7" y="102.8" width="1.2" height="1.2"/>
<rect x="225.3" y="89.3" width="1.2" height="1.2"/>
<rect x="207.3" y="108.0" width="1.2" height="1.2"/>
<rect x="209.2" y="110.5" width="1.2" height="1.2"/>
<rect x="228.4" y="86.6" width="1.2" height="1.2"/>
<rect x="207.1" y="105.8" width="1.2" height="1.2"/>
<rect x="210.9" y="107.1" width="1.2" height="1.2"/>
<rect x="206.3" y="99.4" width="1.2" height="1.2"/>
<rect x="212.8" y="109.9" width="1.2" height="1.2"/>
<rect x="226.9" y="90.3" width="1.2" height="1.2"/>
<rect x="211.9" y="108.9" width="1.2" height="1.2"/>
<rect x="211.6" y="101.7" width="1.2" height="1.2"/>
<rect x="218.6" y="100.8" width="1.2" height="1.2"/>
<rect x="224.8" y="90.2" width="1.2" height="1.2"/>
<rect x="226.8" y="93.8" width="1.2" height="1.2"/>
<rect x="222.6" y="92.6" width="1.2" height="1.2"/>
<rect x="213.9" y="109.1" width="1.2" height="1.2"/>
<rect x="223.9" y="87.9" width="1.2" height="1.2"/>
<rect x="207.7" y="111.6" width="1.2" height="1.2"/>
<rect x="209.2" y="109.1" width="1.2" height="1.2"/>
<rect x="213.4" y="99.6" width="1.2" height="1.2"/>
<rect x="208.0" y="103.2" width="1.2" height="1.2"/>
<rect x="224.8" y="92.9" width="1.2" height="1.2"/>
<rect x="215.1" y="101.1" width="1.2" height="1.2"/>
<rect x="240.3" y="103.4" width="1.2" height="1.2"/>
<rect x="236.3" y="106.0" width="1.2" height="1.2"/>
<rect x="224.2" y="119.0" width="1.2" height="1.2"/>
<rect x="236.9" y="111.3" width="1.2" height="1.2"/>
<rect x="229.7" y="121.5" width="1.2" height="1.2"/>
<rect x="217.3" y="122.8" width="1.2" height="1.2"/>
<rect x="222.3" y="125.8" width="1.2" height="1.2"/>
<rect x="222.3" y="121.2" width="1.2" height="1.2"/>
<rect x="221.6" y="127.8" width="1.2" height="1.2"/>
<rect x="224.9" y="120.4" width="1.2" height="1.2"/>
<rect x="231.6" y="113.9" width="1.2" height="1.2"/>
<rect x="222.7" y="123.3" width="1.2" height="1.2"/>
<rect x="237.1" y="112.8" width="1.2" height="1.2"/>
<rect x="241.2" y="103.5" width="1.2" height="1.2"/>
<rect x="232.0" y="115.4" width="1.2" height="1.2"/>
<rect x="234.9" y="112.7" width="1.2" height="1.2"/>
<rect x="233.2" y="112.2" width="1.2" height="1.2"/>
<rect x="217.5" y="127.9" width="1.2" height="1.2"/>
<rect x="236.9" y="107.5" width="1.2" height="1.2"/>
<rect x="232.9" y="114.0" width="1.2" height="1.2"/>
<rect x="220.0" y="134.2" width="1.2" height="1.2"/>
<rect x="224.4" y="133.1" width="1.2" height="1.2"/>
<rect x="223.4" y="120.9" width="1.2" height="1.2"/>
<rect x="238.9" y="104.3" width="1.2" height="1.2"/>
<rect x="223.3" y="129.7" width="1.2" height="1.2"/>
<rect x="227.5" y="121.1" width="1.2" height="1.2"/>
<rect x="217.6" y="126.0" width="1.2" height="1.2"/>
<rect x="238.0" y="113.5" width="1.2" height="1.2"/>
<rect x="222.6" y="119.1" width="1.2" height="1.2"/>
<rect x="218.4" y="122.5" width="1.2" height="1.2"/>
<rect x="234.5" y="105.2" width="1.2" height="1.2"/>
<rect x="237.2" y="106.6" width="1.2" height="1.2"/>
<rect x="223.4" y="121.1" width="1.2" height="1.2"/>
<rect x="223.4" y="120.0" width="1.2" height="1.2"/>
<rect x="231.8" y="115.5" width="1.2" height="1.2"/>
<rect x="240.2" y="104.0" width="1.2" height="1.2"/>
<rect x="234.6" y="115.7" width="1.2" height="1.2"/>
<rect x="223.7" y="123.5" width="1.2" height="1.2"/>
<rect x="215.6" y="134.7" width="1.2" height="1.2"/>
<rect x="220.6" y="124.3" width="1.2" height="1.2"/>
<rect x="230.2" y="108.7" width="1.2" height="1.2"/>
<rect x="225.8" y="104.7" width="1.2" height="1.2"/>
<rect x="236.5" y="114.4" width="1.2" height="1.2"/>
<rect x="241.4" y="98.6" width="1.2" height="1.2"/>
<rect x="218.8" y="132.3" width="1.2" height="1.2"/>
<rect x="223.3" y="122.8" width="1.2" height="1.2"/>
<rect x="230.5" y="115.7" width="1.2" height="1.2"/>
<rect x="219.8" y="126.7" width="1.2" height="1.2"/>
<rect x="224.6" y="127.7" width="1.2" height="1.2"/>
<rect x="217.6" y="122.9" width="1.2" height="1.2"/>
<rect x="232.9" y="110.7" width="1.2" height="1.2"/>
<rect x="223.3" y="123.9" width="1.2" height="1.2"/>
<rect x="229.2" y="115.1" width="1.2" height="1.2"/>
<rect x="228.9" y="113.3" width="1.2" height="1.2"/>
<rect x="230.4" y="116.8" width="1.2" height="1.2"/>
<rect x="219.7" y="130.2" width="1.2" height="1.2"/>
<rect x="242.0" y="99.8" width="1.2" height="1.2"/>
<rect x="230.7" y="118.9" width="1.2" height="1.2"/>
<rect x="221.1" y="123.0" width="1.2" height="1.2"/>
<rect x="219.9" y="128.1" width="1.2" height="1.2"/>
<rect x="236.1" y="113.3" width="1.2" height="1.2"/>
<rect x="224.7" y="119.0" width="1.2" height="1.2"/>
<rect x="226.1" y="122.4" width="1.2" height="1.2"/>
<rect x="222.8" y="123.9" width="1.2" height="1.2"/>
<rect x="231.0" y="111.8" width="1.2" height="1.2"/>
<rect x="219.6" y="122.5" width="1.2" height="1.2"/>
<rect x="232.7" y="115.3" width="1.2" height="1.2"/>
<rect x="242.2" y="105.4" width="1.2" height="1.2"/>
<rect x="219.2" y="128.6" width="1.2" height="1.2"/>
<rect x="232.2" y="108.4" width="1.2" height="1.2"/>
<rect x="229.3" y="117.3" width="1.2" height="1.2"/>
<rect x="240.8" y="104.3" width="1.2" height="1.2"/>
<rect x="225.3" y="125.8" width="1.2" height="1.2"/>
<rect x="218.7" y="129.6" width="1.2" height="1.2"/>
<rect x="217.0" y="130.3" width="1.2" height="1.2"/>
<rect x="225.1" y="121.8" width="1.2" height="1.2"/>
<rect x="229.6" y="120.6" width="1.2" height="1.2"/>
<rect x="227.4" y="120.2" width="1.2" height="1.2"/>
<rect x="235.2" y="114.2" width="1.2" height="1.2"/>
<rect x="215.9" y="126.5" width="1.2" height="1.2"/>
<rect x="237.5" y="111.5" width="1.2" height="1.2"/>
<rect x="227.8" y="124.1" width="1.2" height="1.2"/>
<rect x="220.6" y="123.7" width="1.2" height="1.2"/>
<rect x="234.6" y="112.4" width="1.2" height="1.2"/>
<rect x="224.1" y="118.9" width="1.2" height="1.2"/>
<rect x="227.2" y="108.8" width="1.2" height="1.2"/>
<rect x="237.5" y="105.2" width="1.2" height="1.2"/>
<rect x="226.3" y="115.5" width="1.2" height="1.2"/>
<rect x="216.5" y="136.3" width="1.2" height="1.2"/>
<rect x="239.6" y="105.0" width="1.2" height="1.2"/>
<rect x="236.0" y="108.7" width="1.2" height="1.2"/>
<rect x="233.4" y="111.6" width="1.2" height="1.2"/>
<rect x="224.6" y="114.0" width="1.2" height="1.2"/>
<rect x="230.3" y="110.4" width="1.2" height="1.2"/>
<rect x="237.2" y="112.6" width="1.2" height="1.2"/>
<rect x="232.3" y="116.0" width="1.2" height="1.2"/>
<rect x="220.1" y="125.1" width="1.2" height="1.2"/>
<rect x="220.5" y="121.9" width="1.2" height="1.2"/>
<rect x="224.0" y="115.9" width="1.2" height="1.2"/>
<rect x="232.9" y="114.6" width="1.2" height="1.2"/>
<rect x="225.7" y="115.6" width="1.2" height="1.2"/>
<rect x="225.7" y="123.2" width="1.2" height="1.2"/>
<rect x="216.4" y="132.0" width="1.2" height="1.2"/>
<rect x="217.5" y="118.7" width="1.2" height="1.2"/>
<rect x="233.6" y="117.9" width="1.2" height="1.2"/>
<rect x="246.0" y="98.7" width="1.2" height="1.2"/>
<rect x="239.9" y="107.6" width="1.2" height="1.2"/>
<rect x="257.8" y="86.5" width="1.2" height="1.2"/>
<rect x="256.3" y="98.5" width="1.2" height="1.2"/>
<rect x="243.8" y="108.0" width="1.2" height="1.2"/>
<rect x="256.4" y="96.7" width="1.2" height="1.2"/>
<rect x="258.4" y="91.7" width="1.2" height="1.2"/>
<rect x="257.4" y="88.3" width="1.2" height="1.2"/>
<rect x="246.2" y="91.3" width="1.2" height="1.2"/>
<rect x="247.9" y="94.5" width="1.2" height="1.2"/>
<rect x="241.1" y="98.9" width="1.2" height="1.2"/>
<rect x="259.4" y="93.6" width="1.2" height="1.2"/>
</g>
<line x1="29.30" y1="47.60" x2="29.30" y2="149.40" stroke="#000" stroke-width="2"/>
<line x1="28.30" y1="148.40" x2="130.20" y2="148.40" stroke="#000" stroke-width="2"/>
<line x1="25.30" y1="148.40" x2="29.30" y2="148.40" stroke="#000" stroke-width="1.6"/>
<text x="25.90" y="152.10" font-size="10.3" text-anchor="end">0</text>
<line x1="29.30" y1="148.40" x2="29.30" y2="152.40" stroke="#000" stroke-width="1.6"/>
<text x="29.90" y="160.80" font-size="10.3" text-anchor="middle">0</text>
<line x1="25.30" y1="114.80" x2="29.30" y2="114.80" stroke="#000" stroke-width="1.6"/>
<text x="25.90" y="118.50" font-size="10.3" text-anchor="end">5</text>
<line x1="62.60" y1="148.40" x2="62.60" y2="152.40" stroke="#000" stroke-width="1.6"/>
<text x="63.20" y="160.80" font-size="10.3" text-anchor="middle">5</text>
<line x1="25.30" y1="81.20" x2="29.30" y2="81.20" stroke="#000" stroke-width="1.6"/>
<text x="25.90" y="84.90" font-size="10.3" text-anchor="end">10</text>
<line x1="95.90" y1="148.40" x2="95.90" y2="152.40" stroke="#000" stroke-width="1.6"/>
<text x="96.50" y="160.80" font-size="10.3" text-anchor="middle">10</text>
<line x1="25.30" y1="47.60" x2="29.30" y2="47.60" stroke="#000" stroke-width="1.6"/>
<text x="25.90" y="51.30" font-size="10.3" text-anchor="end">15</text>
<line x1="129.20" y1="148.40" x2="129.20" y2="152.40" stroke="#000" stroke-width="1.6"/>
<text x="129.80" y="160.80" font-size="10.3" text-anchor="middle">15</text>
<line x1="29.30" y1="148.40" x2="129.20" y2="48.50" stroke="#cc3347" stroke-width="2.1" stroke-dasharray="4.6 3.2"/>
<text x="68.50" y="26.60" font-size="11.5">LSK</text>
<text x="28.60" y="172.30" font-size="10.5" textLength="99.20" lengthAdjust="spacingAndGlyphs">Het-LSK (log2 signal)</text>
<text transform="translate(10.30,100.75) rotate(-90)" font-size="10.5" text-anchor="middle" textLength="98.30" lengthAdjust="spacingAndGlyphs">KO-LSK (log2 signal)</text>
<line x1="183.60" y1="48.85" x2="183.60" y2="150.50" stroke="#000" stroke-width="2"/>
<line x1="182.60" y1="149.50" x2="284.80" y2="149.50" stroke="#000" stroke-width="2"/>
<line x1="179.60" y1="149.50" x2="183.60" y2="149.50" stroke="#000" stroke-width="1.6"/>
<text x="180.20" y="153.20" font-size="10.3" text-anchor="end">0</text>
<line x1="183.60" y1="149.50" x2="183.60" y2="153.50" stroke="#000" stroke-width="1.6"/>
<text x="184.20" y="161.90" font-size="10.3" text-anchor="middle">0</text>
<line x1="179.60" y1="115.95" x2="183.60" y2="115.95" stroke="#000" stroke-width="1.6"/>
<text x="180.20" y="119.65" font-size="10.3" text-anchor="end">5</text>
<line x1="217.00" y1="149.50" x2="217.00" y2="153.50" stroke="#000" stroke-width="1.6"/>
<text x="217.60" y="161.90" font-size="10.3" text-anchor="middle">5</text>
<line x1="179.60" y1="82.40" x2="183.60" y2="82.40" stroke="#000" stroke-width="1.6"/>
<text x="180.20" y="86.10" font-size="10.3" text-anchor="end">10</text>
<line x1="250.40" y1="149.50" x2="250.40" y2="153.50" stroke="#000" stroke-width="1.6"/>
<text x="251.00" y="161.90" font-size="10.3" text-anchor="middle">10</text>
<line x1="179.60" y1="48.85" x2="183.60" y2="48.85" stroke="#000" stroke-width="1.6"/>
<text x="180.20" y="52.55" font-size="10.3" text-anchor="end">15</text>
<line x1="283.80" y1="149.50" x2="283.80" y2="153.50" stroke="#000" stroke-width="1.6"/>
<text x="284.40" y="161.90" font-size="10.3" text-anchor="middle">15</text>
<line x1="183.60" y1="149.50" x2="283.80" y2="49.30" stroke="#cc3347" stroke-width="2.1" stroke-dasharray="4.6 3.2"/>
<text x="220.00" y="26.60" font-size="11.5">GMP</text>
<text x="185.40" y="173.40" font-size="10.5" textLength="102.00" lengthAdjust="spacingAndGlyphs">Het-GMP (log2 signal)</text>
<text transform="translate(164.30,101.65) rotate(-90)" font-size="10.5" text-anchor="middle" textLength="100.10" lengthAdjust="spacingAndGlyphs">KO-GMP (log2 signal)</text>
<text x="33.20" y="50.00" font-size="10" font-style="italic" textLength="26.50" lengthAdjust="spacingAndGlyphs">Cxcr2</text>
<text x="57.00" y="62.00" font-size="10" font-style="italic" textLength="28.00" lengthAdjust="spacingAndGlyphs">Itga2b</text>
<text x="37.70" y="81.60" font-size="10" font-style="italic" textLength="18.50" lengthAdjust="spacingAndGlyphs">Hdc</text>
<text x="95.00" y="52.60" font-size="10" font-style="italic" textLength="24.00" lengthAdjust="spacingAndGlyphs">Cpa3</text>
<text x="123.70" y="80.30" font-size="10" font-style="italic" textLength="17.40" lengthAdjust="spacingAndGlyphs">Flt3</text>
<text x="121.10" y="102.40" font-size="10" font-style="italic" textLength="26.80" lengthAdjust="spacingAndGlyphs">Ly6c1</text>
<text x="126.80" y="114.80" font-size="10" font-style="italic" textLength="19.00" lengthAdjust="spacingAndGlyphs">Dntt</text>
<text x="123.20" y="127.00" font-size="10" font-style="italic" textLength="24.70" lengthAdjust="spacingAndGlyphs">Dpp4</text>
<text x="99.00" y="134.50" font-size="10" font-style="italic" textLength="14.00" lengthAdjust="spacingAndGlyphs">Il7r</text>
<text x="65.40" y="145.00" font-size="10" font-style="italic" textLength="20.00" lengthAdjust="spacingAndGlyphs">Ebf1</text>
<text x="95.40" y="145.00" font-size="10" font-style="italic" textLength="27.60" lengthAdjust="spacingAndGlyphs">Ly6c2</text>
<text x="192.30" y="72.80" font-size="10" font-style="italic" textLength="15.40" lengthAdjust="spacingAndGlyphs">Mpl</text>
<text x="270.70" y="95.80" font-size="10" font-style="italic" textLength="26.90" lengthAdjust="spacingAndGlyphs">Ly6c1</text>
<text x="275.30" y="107.00" font-size="10" font-style="italic" textLength="27.30" lengthAdjust="spacingAndGlyphs">Ly6c2</text>
<text x="257.50" y="115.40" font-size="10" font-style="italic" textLength="29.90" lengthAdjust="spacingAndGlyphs">Cebpa</text>
<text x="204.80" y="145.00" font-size="10" font-style="italic" textLength="32.70" lengthAdjust="spacingAndGlyphs">Cx3cr1</text>
<text x="243.30" y="145.00" font-size="10" font-style="italic" textLength="25.00" lengthAdjust="spacingAndGlyphs">Csf1r</text>
<text x="259.90" y="124.10" font-size="10" font-style="italic" fill="#c4323a" textLength="15.40" lengthAdjust="spacingAndGlyphs" style="stroke:#c4323a">Irf8</text>
<line x1="50.00" y1="56.00" x2="64.60" y2="83.00" stroke="#7a7a7a" stroke-width="0.7"/>
<line x1="66.20" y1="64.60" x2="73.00" y2="83.00" stroke="#7a7a7a" stroke-width="0.7"/>
<line x1="47.70" y1="83.00" x2="66.20" y2="84.60" stroke="#7a7a7a" stroke-width="0.7"/>
<line x1="97.00" y1="57.70" x2="76.20" y2="75.40" stroke="#7a7a7a" stroke-width="0.7"/>
<line x1="122.80" y1="81.70" x2="95.90" y2="102.60" stroke="#7a7a7a" stroke-width="0.7"/>
<line x1="119.80" y1="100.40" x2="97.40" y2="103.30" stroke="#7a7a7a" stroke-width="0.7"/>
<line x1="125.10" y1="111.60" x2="100.40" y2="111.60" stroke="#7a7a7a" stroke-width="0.7"/>
<line x1="122.80" y1="124.30" x2="82.50" y2="118.30" stroke="#7a7a7a" stroke-width="0.7"/>
<line x1="98.90" y1="130.30" x2="83.20" y2="119.80" stroke="#7a7a7a" stroke-width="0.7"/>
<line x1="95.90" y1="136.20" x2="81.00" y2="121.30" stroke="#7a7a7a" stroke-width="0.7"/>
<line x1="70.00" y1="135.00" x2="68.00" y2="125.50" stroke="#7a7a7a" stroke-width="0.7"/>
<line x1="73.00" y1="135.00" x2="71.00" y2="123.50" stroke="#7a7a7a" stroke-width="0.7"/>
<line x1="208.80" y1="74.50" x2="218.70" y2="86.00" stroke="#7a7a7a" stroke-width="0.7"/>
<line x1="254.80" y1="104.30" x2="274.30" y2="104.50" stroke="#7a7a7a" stroke-width="0.7"/>
<line x1="255.00" y1="113.00" x2="238.80" y2="106.20" stroke="#7a7a7a" stroke-width="0.7"/>
<line x1="255.00" y1="119.40" x2="239.40" y2="110.20" stroke="#7a7a7a" stroke-width="0.7"/>
<line x1="221.00" y1="136.20" x2="225.60" y2="123.50" stroke="#7a7a7a" stroke-width="0.7"/>
<line x1="244.60" y1="136.20" x2="237.70" y2="109.60" stroke="#7a7a7a" stroke-width="0.7"/>
<line x1="262.60" y1="99.20" x2="269.80" y2="93.40" stroke="#111" stroke-width="1.3"/>
<text x="308.50" y="14.80" font-size="11.5" textLength="110.00" lengthAdjust="spacingAndGlyphs">LSK gene expression</text>
<rect x="333.00" y="42.20" width="13.00" height="12.60" fill="#fffefb"/>
<rect x="346.00" y="42.20" width="11.90" height="12.60" fill="#5a66b8"/>
<rect x="333.00" y="54.80" width="13.00" height="12.60" fill="#fffefb"/>
<rect x="346.00" y="54.80" width="11.90" height="12.60" fill="#bcbcde"/>
<rect x="333.00" y="67.40" width="13.00" height="12.60" fill="#fffefb"/>
<rect x="346.00" y="67.40" width="11.90" height="12.60" fill="#3f52aa"/>
<rect x="333.00" y="80.00" width="13.00" height="12.60" fill="#fffefb"/>
<rect x="346.00" y="80.00" width="11.90" height="12.60" fill="#5462b4"/>
<rect x="333.00" y="92.60" width="13.00" height="12.60" fill="#fffefb"/>
<rect x="346.00" y="92.60" width="11.90" height="12.60" fill="#8080c8"/>
<rect x="333.00" y="105.20" width="13.00" height="12.60" fill="#fffefb"/>
<rect x="346.00" y="105.20" width="11.90" height="12.60" fill="#6a70bc"/>
<rect x="333.00" y="117.80" width="13.00" height="12.60" fill="#fffefb"/>
<rect x="346.00" y="117.80" width="11.90" height="12.60" fill="#9e9ed4"/>
<rect x="333.00" y="130.40" width="13.00" height="12.60" fill="#fffefb"/>
<rect x="346.00" y="130.40" width="11.90" height="12.60" fill="#a8a8d8"/>
<rect x="333.00" y="143.00" width="13.00" height="12.60" fill="#fffefb"/>
<rect x="346.00" y="143.00" width="11.90" height="12.60" fill="#6e70bc"/>
<rect x="333.00" y="155.60" width="13.00" height="12.60" fill="#fffefb"/>
<rect x="346.00" y="155.60" width="11.90" height="12.60" fill="#c2c2e2"/>
<rect x="333.00" y="168.20" width="13.00" height="12.60" fill="#fffefb"/>
<rect x="346.00" y="168.20" width="11.90" height="12.60" fill="#7c80c4"/>
<rect x="333.00" y="180.80" width="13.00" height="12.60" fill="#fffefb"/>
<rect x="346.00" y="180.80" width="11.90" height="12.60" fill="#c0c0e2"/>
<rect x="333.00" y="193.40" width="13.00" height="12.60" fill="#fffefb"/>
<rect x="346.00" y="193.40" width="11.90" height="12.60" fill="#aeaedb"/>
<rect x="333.00" y="206.00" width="13.00" height="12.60" fill="#fffefb"/>
<rect x="346.00" y="206.00" width="11.90" height="12.60" fill="#e2e2f1"/>
<rect x="333.00" y="218.60" width="13.00" height="12.60" fill="#fffefb"/>
<rect x="346.00" y="218.60" width="11.90" height="12.60" fill="#4a56ac"/>
<rect x="333.00" y="231.20" width="13.00" height="12.60" fill="#fffefb"/>
<rect x="346.00" y="231.20" width="11.90" height="12.60" fill="#525cb0"/>
<rect x="333.00" y="243.80" width="13.00" height="12.60" fill="#fffefb"/>
<rect x="346.00" y="243.80" width="11.90" height="12.60" fill="#cecee8"/>
<rect x="333.00" y="256.40" width="13.00" height="12.60" fill="#fffefb"/>
<rect x="346.00" y="256.40" width="11.90" height="12.60" fill="#9494cc"/>
<rect x="333.00" y="269.00" width="13.00" height="12.60" fill="#fffefb"/>
<rect x="346.00" y="269.00" width="11.90" height="12.60" fill="#a4a4d4"/>
<rect x="333.00" y="281.60" width="13.00" height="12.60" fill="#fffefb"/>
<rect x="346.00" y="281.60" width="11.90" height="12.60" fill="#9090cc"/>
<line x1="332.00" y1="42.20" x2="358.90" y2="42.20" stroke="#000" stroke-width="1.7"/>
<line x1="332.00" y1="54.80" x2="358.90" y2="54.80" stroke="#000" stroke-width="1.7"/>
<line x1="332.00" y1="67.40" x2="358.90" y2="67.40" stroke="#000" stroke-width="1.7"/>
<line x1="332.00" y1="80.00" x2="358.90" y2="80.00" stroke="#000" stroke-width="1.7"/>
<line x1="332.00" y1="92.60" x2="358.90" y2="92.60" stroke="#000" stroke-width="1.7"/>
<line x1="332.00" y1="105.20" x2="358.90" y2="105.20" stroke="#000" stroke-width="1.7"/>
<line x1="332.00" y1="117.80" x2="358.90" y2="117.80" stroke="#000" stroke-width="1.7"/>
<line x1="332.00" y1="130.40" x2="358.90" y2="130.40" stroke="#000" stroke-width="1.7"/>
<line x1="332.00" y1="143.00" x2="358.90" y2="143.00" stroke="#000" stroke-width="1.7"/>
<line x1="332.00" y1="155.60" x2="358.90" y2="155.60" stroke="#000" stroke-width="1.7"/>
<line x1="332.00" y1="168.20" x2="358.90" y2="168.20" stroke="#000" stroke-width="1.7"/>
<line x1="332.00" y1="180.80" x2="358.90" y2="180.80" stroke="#000" stroke-width="1.7"/>
<line x1="332.00" y1="193.40" x2="358.90" y2="193.40" stroke="#000" stroke-width="1.7"/>
<line x1="332.00" y1="206.00" x2="358.90" y2="206.00" stroke="#000" stroke-width="1.7"/>
<line x1="332.00" y1="218.60" x2="358.90" y2="218.60" stroke="#000" stroke-width="1.7"/>
<line x1="332.00" y1="231.20" x2="358.90" y2="231.20" stroke="#000" stroke-width="1.7"/>
<line x1="332.00" y1="243.80" x2="358.90" y2="243.80" stroke="#000" stroke-width="1.7"/>
<line x1="332.00" y1="256.40" x2="358.90" y2="256.40" stroke="#000" stroke-width="1.7"/>
<line x1="332.00" y1="269.00" x2="358.90" y2="269.00" stroke="#000" stroke-width="1.7"/>
<line x1="332.00" y1="281.60" x2="358.90" y2="281.60" stroke="#000" stroke-width="1.7"/>
<line x1="332.00" y1="294.20" x2="358.90" y2="294.20" stroke="#000" stroke-width="1.7"/>
<line x1="333.00" y1="41.35" x2="333.00" y2="295.05" stroke="#000" stroke-width="1.9"/>
<line x1="346.00" y1="41.35" x2="346.00" y2="295.05" stroke="#000" stroke-width="1.7"/>
<line x1="357.90" y1="41.35" x2="357.90" y2="295.05" stroke="#000" stroke-width="1.9"/>
<text x="361.90" y="53.50" font-size="9.7" font-style="italic">Flt3</text>
<text x="361.90" y="66.10" font-size="9.7" font-style="italic">Gria3</text>
<text x="361.90" y="78.70" font-size="9.7" font-style="italic">Dntt</text>
<text x="361.90" y="91.30" font-size="9.7" font-style="italic">Dpp4</text>
<text x="361.90" y="103.90" font-size="9.7" font-style="italic">Arap2</text>
<text x="361.90" y="116.50" font-size="9.7" font-style="italic">Ctss</text>
<text x="361.90" y="129.10" font-size="9.7" font-style="italic">Kmo</text>
<text x="361.90" y="141.70" font-size="9.7" font-style="italic">Bcl2</text>
<text x="361.90" y="154.30" font-size="9.7" font-style="italic">Ms4a6c</text>
<text x="361.90" y="166.90" font-size="9.7" font-style="italic">St8sia4</text>
<text x="361.90" y="179.50" font-size="9.7" font-style="italic">Slc9a7</text>
<text x="361.90" y="192.10" font-size="9.7" font-style="italic">Gm13139</text>
<text x="361.90" y="204.70" font-size="9.7" font-style="italic">Crybg3</text>
<text x="361.90" y="217.30" font-size="9.7" font-style="italic">Cx3cr1</text>
<text x="361.90" y="229.90" font-size="9.7" font-style="italic">B3gnt5</text>
<text x="361.90" y="242.50" font-size="9.7" font-style="italic">Satb1</text>
<text x="361.90" y="255.10" font-size="9.7" font-style="italic">9930111J21Rik2</text>
<text x="361.90" y="267.70" font-size="9.7" font-style="italic">Gpr171</text>
<text x="361.90" y="280.30" font-size="9.7" font-style="italic">Gm4759</text>
<text x="361.90" y="292.90" font-size="9.7" font-style="italic">Abcb1b</text>
<rect x="452.60" y="43.10" width="12.70" height="12.63" fill="#fffefb"/>
<rect x="465.30" y="43.10" width="12.80" height="12.63" fill="#e8b0b8"/>
<rect x="452.60" y="55.73" width="12.70" height="12.63" fill="#fffefb"/>
<rect x="465.30" y="55.73" width="12.80" height="12.63" fill="#de8a90"/>
<rect x="452.60" y="68.36" width="12.70" height="12.63" fill="#fffefb"/>
<rect x="465.30" y="68.36" width="12.80" height="12.63" fill="#e4e6f3"/>
<rect x="452.60" y="80.99" width="12.70" height="12.63" fill="#fffefb"/>
<rect x="465.30" y="80.99" width="12.80" height="12.63" fill="#f2cace"/>
<rect x="452.60" y="93.62" width="12.70" height="12.63" fill="#fffefb"/>
<rect x="465.30" y="93.62" width="12.80" height="12.63" fill="#c2c2e4"/>
<rect x="452.60" y="106.25" width="12.70" height="12.63" fill="#fffefb"/>
<rect x="465.30" y="106.25" width="12.80" height="12.63" fill="#f2dcdc"/>
<rect x="452.60" y="118.88" width="12.70" height="12.63" fill="#fffefb"/>
<rect x="465.30" y="118.88" width="12.80" height="12.63" fill="#e6e6f4"/>
<rect x="452.60" y="131.51" width="12.70" height="12.63" fill="#fffefb"/>
<rect x="465.30" y="131.51" width="12.80" height="12.63" fill="#8282cc"/>
<rect x="452.60" y="144.14" width="12.70" height="12.63" fill="#fffefb"/>
<rect x="465.30" y="144.14" width="12.80" height="12.63" fill="#faf2f2"/>
<rect x="452.60" y="156.77" width="12.70" height="12.63" fill="#fffefb"/>
<rect x="465.30" y="156.77" width="12.80" height="12.63" fill="#aaaadc"/>
<rect x="452.60" y="169.40" width="12.70" height="12.63" fill="#fffefb"/>
<rect x="465.30" y="169.40" width="12.80" height="12.63" fill="#eec2c2"/>
<rect x="452.60" y="182.03" width="12.70" height="12.63" fill="#fffefb"/>
<rect x="465.30" y="182.03" width="12.80" height="12.63" fill="#da5c5c"/>
<rect x="452.60" y="194.66" width="12.70" height="12.63" fill="#fffefb"/>
<rect x="465.30" y="194.66" width="12.80" height="12.63" fill="#4a5ab0"/>
<rect x="452.60" y="207.29" width="12.70" height="12.63" fill="#fffefb"/>
<rect x="465.30" y="207.29" width="12.80" height="12.63" fill="#c2caec"/>
<rect x="452.60" y="219.92" width="12.70" height="12.63" fill="#fffefb"/>
<rect x="465.30" y="219.92" width="12.80" height="12.63" fill="#d44a4a"/>
<rect x="452.60" y="232.55" width="12.70" height="12.63" fill="#fffefb"/>
<rect x="465.30" y="232.55" width="12.80" height="12.63" fill="#d85252"/>
<rect x="452.60" y="245.18" width="12.70" height="12.63" fill="#fffefb"/>
<rect x="465.30" y="245.18" width="12.80" height="12.63" fill="#dc6262"/>
<rect x="452.60" y="257.81" width="12.70" height="12.63" fill="#fffefb"/>
<rect x="465.30" y="257.81" width="12.80" height="12.63" fill="#cc2a2a"/>
<rect x="452.60" y="270.44" width="12.70" height="12.63" fill="#fffefb"/>
<rect x="465.30" y="270.44" width="12.80" height="12.63" fill="#a2a2d8"/>
<line x1="451.60" y1="43.10" x2="479.10" y2="43.10" stroke="#000" stroke-width="1.7"/>
<line x1="451.60" y1="55.73" x2="479.10" y2="55.73" stroke="#000" stroke-width="1.7"/>
<line x1="451.60" y1="68.36" x2="479.10" y2="68.36" stroke="#000" stroke-width="1.7"/>
<line x1="451.60" y1="80.99" x2="479.10" y2="80.99" stroke="#000" stroke-width="1.7"/>
<line x1="451.60" y1="93.62" x2="479.10" y2="93.62" stroke="#000" stroke-width="1.7"/>
<line x1="451.60" y1="106.25" x2="479.10" y2="106.25" stroke="#000" stroke-width="1.7"/>
<line x1="451.60" y1="118.88" x2="479.10" y2="118.88" stroke="#000" stroke-width="1.7"/>
<line x1="451.60" y1="131.51" x2="479.10" y2="131.51" stroke="#000" stroke-width="1.7"/>
<line x1="451.60" y1="144.14" x2="479.10" y2="144.14" stroke="#000" stroke-width="1.7"/>
<line x1="451.60" y1="156.77" x2="479.10" y2="156.77" stroke="#000" stroke-width="1.7"/>
<line x1="451.60" y1="169.40" x2="479.10" y2="169.40" stroke="#000" stroke-width="1.7"/>
<line x1="451.60" y1="182.03" x2="479.10" y2="182.03" stroke="#000" stroke-width="1.7"/>
<line x1="451.60" y1="194.66" x2="479.10" y2="194.66" stroke="#000" stroke-width="1.7"/>
<line x1="451.60" y1="207.29" x2="479.10" y2="207.29" stroke="#000" stroke-width="1.7"/>
<line x1="451.60" y1="219.92" x2="479.10" y2="219.92" stroke="#000" stroke-width="1.7"/>
<line x1="451.60" y1="232.55" x2="479.10" y2="232.55" stroke="#000" stroke-width="1.7"/>
<line x1="451.60" y1="245.18" x2="479.10" y2="245.18" stroke="#000" stroke-width="1.7"/>
<line x1="451.60" y1="257.81" x2="479.10" y2="257.81" stroke="#000" stroke-width="1.7"/>
<line x1="451.60" y1="270.44" x2="479.10" y2="270.44" stroke="#000" stroke-width="1.7"/>
<line x1="451.60" y1="283.07" x2="479.10" y2="283.07" stroke="#000" stroke-width="1.7"/>
<line x1="452.60" y1="42.25" x2="452.60" y2="283.92" stroke="#000" stroke-width="1.9"/>
<line x1="465.30" y1="42.25" x2="465.30" y2="283.92" stroke="#000" stroke-width="1.7"/>
<line x1="478.10" y1="42.25" x2="478.10" y2="283.92" stroke="#000" stroke-width="1.9"/>
<text x="480.80" y="54.40" font-size="9.7" font-style="italic">Fcgr3</text>
<text x="480.80" y="67.03" font-size="9.7" font-style="italic">Lpcat2</text>
<text x="480.80" y="79.66" font-size="9.7" font-style="italic">Rnase12</text>
<text x="480.80" y="92.29" font-size="9.7" font-style="italic">Gata1</text>
<text x="480.80" y="104.92" font-size="9.7" font-style="italic">Pf4</text>
<text x="480.80" y="117.55" font-size="9.7" font-style="italic">Gata2</text>
<text x="480.80" y="130.18" font-size="9.7" font-style="italic">Spns2</text>
<text x="480.80" y="142.81" font-size="9.7" font-style="italic">Prss57</text>
<text x="480.80" y="155.44" font-size="9.7" font-style="italic">Far2</text>
<text x="480.80" y="168.07" font-size="9.7" font-style="italic">Tacstd2</text>
<text x="480.80" y="180.70" font-size="9.7" font-style="italic">Slc22a3</text>
<text x="480.80" y="193.33" font-size="9.7" font-style="italic">Apoe</text>
<text x="480.80" y="205.96" font-size="9.7" font-style="italic">Nkg7</text>
<text x="480.80" y="218.59" font-size="9.7" font-style="italic">Prg2</text>
<text x="480.80" y="231.22" font-size="9.7" font-style="italic">Slc7a8</text>
<text x="480.80" y="243.85" font-size="9.7" font-style="italic">Itga2b</text>
<text x="480.80" y="256.48" font-size="9.7" font-style="italic">Hdc</text>
<text x="480.80" y="269.11" font-size="9.7" font-style="italic">Cpa3</text>
<text x="480.80" y="281.74" font-size="9.7" font-style="italic">Cd63</text>
<defs><linearGradient id="gw1" x1="0" y1="0" x2="0" y2="1"><stop offset="0" stop-color="#2a2a2a"/><stop offset="0.5" stop-color="#707070"/><stop offset="1" stop-color="#e8e8e8"/></linearGradient><linearGradient id="gw2" x1="0" y1="0" x2="0" y2="1"><stop offset="0" stop-color="#e8e8e8"/><stop offset="0.5" stop-color="#707070"/><stop offset="1" stop-color="#2a2a2a"/></linearGradient><linearGradient id="cb" x1="0" y1="0" x2="1" y2="0"><stop offset="0" stop-color="#3a4ea6"/><stop offset="0.28" stop-color="#8e98cc"/><stop offset="0.42" stop-color="#ffffff"/><stop offset="0.58" stop-color="#ffffff"/><stop offset="0.75" stop-color="#e6a0a2"/><stop offset="1" stop-color="#c41c28"/></linearGradient></defs>
<polygon points="312.2,43.9 327.2,43.9 327.2,293.5 326.2,293.5" fill="url(#gw1)"/>
<polygon points="447.8,44.6 448.8,44.6 448.8,282.7 433.7,282.7" fill="url(#gw2)"/>
<text x="300.20" y="42.60" font-size="10" textLength="22.10" lengthAdjust="spacingAndGlyphs">MDP</text>
<text x="299.50" y="293.30" font-size="10" textLength="22.50" lengthAdjust="spacingAndGlyphs">GMP</text>
<text x="423.00" y="51.40" font-size="10" textLength="22.20" lengthAdjust="spacingAndGlyphs">MDP</text>
<text x="422.70" y="292.50" font-size="10" textLength="22.50" lengthAdjust="spacingAndGlyphs">GMP</text>
<line x1="325.20" y1="285.00" x2="325.20" y2="294.00" stroke="#555" stroke-width="0.8"/>
<line x1="448.50" y1="44.00" x2="448.50" y2="53.00" stroke="#555" stroke-width="0.8"/>
<text transform="translate(338.7,41.3) rotate(-45)" font-size="10.3">Het</text>
<text transform="translate(352.5,42.0) rotate(-45)" font-size="10.3">CKO</text>
<text transform="translate(457.8,41.5) rotate(-45)" font-size="10.3">Het</text>
<text transform="translate(470.6,41.8) rotate(-45)" font-size="10.3">CKO</text>
<rect x="374.8" y="303" width="99.5" height="9.4" fill="url(#cb)" stroke="#000" stroke-width="1.1"/>
<text x="359.50" y="325.20" font-size="10.3" textLength="18.00" lengthAdjust="spacingAndGlyphs">-5.0</text>
<text x="468.80" y="325.80" font-size="10.3" textLength="20.00" lengthAdjust="spacingAndGlyphs">+4.0</text>
<text x="396" y="326" font-size="10.3">log<tspan font-size="6.5" dy="2.5">2</tspan><tspan dy="-2.5"> intensity</tspan></text>
<text x="407.00" y="338.00" font-size="10.3" textLength="37.50" lengthAdjust="spacingAndGlyphs">(ctrl = 0)</text>
<text x="19.80" y="219.60" font-size="10.8" textLength="50.00" lengthAdjust="spacingAndGlyphs">qRT-PCR</text>
<text x="80.40" y="219.60" font-size="10.8" textLength="25.00" lengthAdjust="spacingAndGlyphs">GMP</text>
<line x1="72.50" y1="233.50" x2="72.50" y2="366.70" stroke="#000" stroke-width="1.5"/>
<line x1="71.80" y1="366.00" x2="265.20" y2="366.00" stroke="#000" stroke-width="1.5"/>
<line x1="68.70" y1="366.00" x2="72.50" y2="366.00" stroke="#000" stroke-width="1.4"/>
<text x="64.80" y="370.00" font-size="11.3" text-anchor="end">0</text>
<line x1="68.70" y1="312.40" x2="72.50" y2="312.40" stroke="#000" stroke-width="1.4"/>
<text x="64.80" y="316.40" font-size="11.3" text-anchor="end">1</text>
<line x1="68.70" y1="258.80" x2="72.50" y2="258.80" stroke="#000" stroke-width="1.4"/>
<text x="64.80" y="262.80" font-size="11.3" text-anchor="end">2</text>
<text transform="translate(42.4,295.3) rotate(-90)" font-size="12.2" text-anchor="middle" textLength="113" lengthAdjust="spacingAndGlyphs">18S rRNA normalized</text>
<text transform="translate(52.9,294.6) rotate(-90)" font-size="12.0" text-anchor="middle" textLength="138" lengthAdjust="spacingAndGlyphs">expression (arbitarary unit)</text>
<rect x="81.30" y="235.60" width="20.70" height="12.00" fill="#000"/>
<text x="104.50" y="246.40" font-size="11" textLength="18.00" lengthAdjust="spacingAndGlyphs">Het</text>
<rect x="133.20" y="236.30" width="19.30" height="10.60" fill="#fff" stroke="#000" stroke-width="1.4"/>
<text x="155.00" y="246.40" font-size="11" textLength="25.50" lengthAdjust="spacingAndGlyphs">CKO</text>
<line x1="81.95" y1="307.04" x2="81.95" y2="312.40" stroke="#000" stroke-width="1.3"/>
<line x1="79.75" y1="307.04" x2="84.15" y2="307.04" stroke="#000" stroke-width="1.3"/>
<rect x="77.60" y="312.40" width="8.70" height="53.60" fill="#000"/>
<line x1="90.65" y1="264.70" x2="90.65" y2="298.46" stroke="#000" stroke-width="1.3"/>
<line x1="88.45" y1="264.70" x2="92.85" y2="264.70" stroke="#000" stroke-width="1.3"/>
<rect x="86.90" y="299.06" width="7.50" height="66.94" fill="#fff" stroke="#000" stroke-width="1.2"/>
<line x1="86.30" y1="366.00" x2="86.30" y2="370.00" stroke="#000" stroke-width="1.3"/>
<text transform="translate(92.90,378.80) rotate(-45)" font-size="11.6" font-style="italic" text-anchor="end">Hprt1</text>
<line x1="113.75" y1="305.97" x2="113.75" y2="312.40" stroke="#000" stroke-width="1.3"/>
<line x1="111.55" y1="305.97" x2="115.95" y2="305.97" stroke="#000" stroke-width="1.3"/>
<rect x="109.40" y="312.40" width="8.70" height="53.60" fill="#000"/>
<line x1="118.10" y1="366.00" x2="118.10" y2="370.00" stroke="#000" stroke-width="1.3"/>
<text transform="translate(123.40,377.30) rotate(-45)" font-size="11.6" font-style="italic" text-anchor="end">Cbfb</text>
<line x1="145.55" y1="301.68" x2="145.55" y2="312.40" stroke="#000" stroke-width="1.3"/>
<line x1="143.35" y1="301.68" x2="147.75" y2="301.68" stroke="#000" stroke-width="1.3"/>
<rect x="141.20" y="312.40" width="8.70" height="53.60" fill="#000"/>
<line x1="154.25" y1="355.82" x2="154.25" y2="357.96" stroke="#000" stroke-width="1.3"/>
<line x1="152.05" y1="355.82" x2="156.45" y2="355.82" stroke="#000" stroke-width="1.3"/>
<rect x="150.50" y="358.56" width="7.50" height="7.44" fill="#fff" stroke="#000" stroke-width="1.2"/>
<line x1="149.90" y1="366.00" x2="149.90" y2="370.00" stroke="#000" stroke-width="1.3"/>
<text transform="translate(153.50,377.80) rotate(-45)" font-size="11.6" font-style="italic" text-anchor="end">Irf8</text>
<line x1="177.35" y1="305.97" x2="177.35" y2="312.40" stroke="#000" stroke-width="1.3"/>
<line x1="175.15" y1="305.97" x2="179.55" y2="305.97" stroke="#000" stroke-width="1.3"/>
<rect x="173.00" y="312.40" width="8.70" height="53.60" fill="#000"/>
<line x1="186.05" y1="300.61" x2="186.05" y2="319.90" stroke="#000" stroke-width="1.3"/>
<line x1="183.85" y1="300.61" x2="188.25" y2="300.61" stroke="#000" stroke-width="1.3"/>
<rect x="182.30" y="320.50" width="7.50" height="45.50" fill="#fff" stroke="#000" stroke-width="1.2"/>
<line x1="181.70" y1="366.00" x2="181.70" y2="370.00" stroke="#000" stroke-width="1.3"/>
<text transform="translate(188.90,378.30) rotate(-45)" font-size="11.6" font-style="italic" text-anchor="end">Sfpi1</text>
<line x1="209.15" y1="307.04" x2="209.15" y2="312.40" stroke="#000" stroke-width="1.3"/>
<line x1="206.95" y1="307.04" x2="211.35" y2="307.04" stroke="#000" stroke-width="1.3"/>
<rect x="204.80" y="312.40" width="8.70" height="53.60" fill="#000"/>
<line x1="217.85" y1="346.70" x2="217.85" y2="349.38" stroke="#000" stroke-width="1.3"/>
<line x1="215.65" y1="346.70" x2="220.05" y2="346.70" stroke="#000" stroke-width="1.3"/>
<rect x="214.10" y="349.98" width="7.50" height="16.02" fill="#fff" stroke="#000" stroke-width="1.2"/>
<line x1="213.50" y1="366.00" x2="213.50" y2="370.00" stroke="#000" stroke-width="1.3"/>
<text transform="translate(218.10,377.80) rotate(-45)" font-size="11.6" font-style="italic" text-anchor="end">Cebpa</text>
<line x1="240.95" y1="300.07" x2="240.95" y2="312.40" stroke="#000" stroke-width="1.3"/>
<line x1="238.75" y1="300.07" x2="243.15" y2="300.07" stroke="#000" stroke-width="1.3"/>
<rect x="236.60" y="312.40" width="8.70" height="53.60" fill="#000"/>
<line x1="249.65" y1="340.81" x2="249.65" y2="343.49" stroke="#000" stroke-width="1.3"/>
<line x1="247.45" y1="340.81" x2="251.85" y2="340.81" stroke="#000" stroke-width="1.3"/>
<rect x="245.90" y="344.09" width="7.50" height="21.91" fill="#fff" stroke="#000" stroke-width="1.2"/>
<line x1="245.30" y1="366.00" x2="245.30" y2="370.00" stroke="#000" stroke-width="1.3"/>
<text transform="translate(251.10,378.30) rotate(-45)" font-size="11.6" font-style="italic" text-anchor="end">Csf1r</text>
<text transform="translate(130.6,327.6) rotate(-90)" font-size="10.5" text-anchor="middle" textLength="62.8" lengthAdjust="spacingAndGlyphs">not detected</text>
<path d="M144.6,291.0 V284.6 H156.4 V291.0" fill="none" stroke="#000" stroke-width="1.6"/>
<text x="150.40" y="285.60" font-size="10.5" text-anchor="middle" font-weight="bold">*</text>
<path d="M207.9,291.0 V284.6 H219.7 V291.0" fill="none" stroke="#000" stroke-width="1.6"/>
<text x="213.70" y="285.60" font-size="10.5" text-anchor="middle" font-weight="bold">*</text>
<path d="M240.8,291.0 V284.6 H252.6 V291.0" fill="none" stroke="#000" stroke-width="1.6"/>
<text x="246.60" y="285.60" font-size="10.5" text-anchor="middle" font-weight="bold">*</text>
<text x="6.25" y="423.70" font-size="11" textLength="62.50" lengthAdjust="spacingAndGlyphs">Flt3L culture</text>
<text x="31.3" y="437.4" font-size="11.2"><tspan font-style="italic">Vav1</tspan>-iCre <tspan font-style="italic">Cbfb</tspan><tspan font-size="6.5" dy="-4.2">F/+</tspan></text>
<text x="280.4" y="437.3" font-size="11.7"><tspan font-style="italic">Vav1</tspan>-iCre <tspan font-style="italic">Cbfb</tspan><tspan font-size="7" dy="-4.4" dx="0.6">F/F</tspan></text>
<line x1="21.20" y1="441.50" x2="122.50" y2="441.50" stroke="#000" stroke-width="1.6"/>
<line x1="129.60" y1="441.50" x2="518.00" y2="441.50" stroke="#000" stroke-width="1.6"/>
<g filter="url(#fb)">
<path fill="#949494" d="M80 486h1v1h-1zM83 480h1v1h-1zM85 485h1v1h-1zM82 500h1v1h-1zM93 508h1v1h-1zM88 505h1v1h-1zM73 489h1v1h-1zM98 503h1v1h-1zM78 481h1v1h-1zM82 484h1v1h-1zM69 495h1v1h-1zM98 500h1v1h-1zM96 499h1v1h-1zM89 505h1v1h-1zM86 487h1v1h-1zM84 480h1v1h-1zM78 503h1v1h-1zM96 500h1v1h-1zM80 500h1v1h-1zM95 495h1v1h-1zM91 480h1v1h-1zM70 481h1v1h-1zM77 504h1v1h-1zM96 492h1v1h-1zM90 491h1v1h-1zM75 508h1v1h-1zM70 487h1v1h-1zM94 503h1v1h-1zM72 491h1v1h-1zM80 487h1v1h-1zM109 493h1v1h-1zM102 492h1v1h-1zM92 484h1v1h-1zM79 485h1v1h-1zM64 507h1v1h-1zM82 486h1v1h-1zM96 485h1v1h-1zM78 486h1v1h-1zM88 502h1v1h-1zM67 493h1v1h-1zM87 481h1v1h-1zM94 501h1v1h-1zM99 498h1v1h-1zM93 480h1v1h-1zM95 504h1v1h-1zM82 491h1v1h-1zM70 488h1v1h-1zM73 506h1v1h-1zM86 484h1v1h-1zM92 489h1v1h-1zM93 504h1v1h-1zM74 495h1v1h-1zM80 488h1v1h-1zM88 483h1v1h-1zM71 493h1v1h-1zM71 491h1v1h-1zM96 486h1v1h-1zM94 498h1v1h-1zM91 503h1v1h-1zM77 488h1v1h-1zM95 482h1v1h-1zM76 497h1v1h-1zM69 491h1v1h-1zM71 483h1v1h-1zM101 492h1v1h-1zM81 508h1v1h-1zM84 484h1v1h-1zM98 494h1v1h-1zM83 506h1v1h-1zM74 508h1v1h-1zM101 487h1v1h-1zM99 504h1v1h-1zM69 499h1v1h-1zM64 493h1v1h-1zM87 483h1v1h-1zM97 495h1v1h-1zM85 507h1v1h-1zM82 482h1v1h-1zM71 488h1v1h-1zM76 484h1v1h-1zM84 486h1v1h-1zM91 478h1v1h-1zM87 480h1v1h-1zM73 503h1v1h-1zM83 509h1v1h-1zM69 497h1v1h-1zM99 494h1v1h-1zM95 502h1v1h-1zM101 491h1v1h-1zM93 513h1v1h-1zM72 489h1v1h-1zM68 489h1v1h-1zM69 490h1v1h-1zM89 485h1v1h-1zM94 500h1v1h-1zM84 503h1v1h-1zM70 499h1v1h-1zM65 487h1v1h-1zM81 509h1v1h-1zM99 488h1v1h-1zM61 482h1v1h-1zM71 501h1v1h-1zM93 485h1v1h-1zM64 489h1v1h-1zM75 509h1v1h-1zM69 486h1v1h-1zM80 485h1v1h-1zM96 479h1v1h-1zM72 484h1v1h-1zM92 500h1v1h-1zM84 489h1v1h-1zM88 503h1v1h-1zM90 488h1v1h-1zM62 487h1v1h-1zM90 487h1v1h-1zM70 495h1v1h-1zM83 483h1v1h-1zM70 483h1v1h-1zM97 487h1v1h-1zM96 496h1v1h-1zM68 493h1v1h-1zM98 489h1v1h-1zM96 490h1v1h-1zM89 502h1v1h-1zM82 506h1v1h-1zM70 489h1v1h-1zM82 483h1v1h-1zM76 502h1v1h-1zM94 489h1v1h-1zM72 493h1v1h-1zM95 486h1v1h-1zM96 493h1v1h-1zM62 493h1v1h-1zM77 482h1v1h-1zM88 480h1v1h-1zM85 489h1v1h-1zM93 506h1v1h-1zM87 505h1v1h-1zM71 484h1v1h-1zM85 480h1v1h-1zM102 496h1v1h-1zM71 503h1v1h-1zM94 492h1v1h-1zM74 485h1v1h-1zM91 499h1v1h-1zM71 492h1v1h-1zM95 488h1v1h-1zM79 502h1v1h-1zM79 489h1v1h-1zM75 506h1v1h-1zM103 496h1v1h-1zM73 487h1v1h-1zM74 488h1v1h-1zM79 480h1v1h-1zM72 492h1v1h-1zM87 485h1v1h-1zM72 490h1v1h-1zM98 492h1v1h-1zM82 502h1v1h-1zM92 498h1v1h-1zM77 485h1v1h-1zM105 490h1v1h-1zM76 498h1v1h-1zM69 488h1v1h-1zM92 486h1v1h-1zM97 485h1v1h-1zM98 499h1v1h-1zM88 504h1v1h-1zM66 508h1v1h-1zM56 516h1v1h-1zM60 494h1v1h-1zM54 514h1v1h-1zM57 494h1v1h-1zM67 511h1v1h-1zM57 490h1v1h-1zM51 514h1v1h-1zM43 489h1v1h-1zM61 493h1v1h-1zM45 499h1v1h-1zM64 513h1v1h-1zM66 505h1v1h-1zM67 490h1v1h-1zM60 493h1v1h-1zM52 491h1v1h-1zM51 504h1v1h-1zM62 500h1v1h-1zM69 508h1v1h-1zM52 501h1v1h-1zM50 515h1v1h-1zM67 497h1v1h-1zM59 492h1v1h-1zM58 492h1v1h-1zM57 507h1v1h-1zM42 504h1v1h-1zM50 507h1v1h-1zM69 496h1v1h-1zM52 492h1v1h-1zM49 493h1v1h-1zM54 509h1v1h-1zM62 502h1v1h-1zM60 499h1v1h-1zM70 505h1v1h-1zM45 498h1v1h-1zM72 508h1v1h-1zM71 486h1v1h-1zM74 501h1v1h-1zM63 496h1v1h-1zM48 505h1v1h-1zM71 489h1v1h-1zM63 497h1v1h-1zM41 496h1v1h-1zM66 518h1v1h-1zM54 497h1v1h-1zM52 500h1v1h-1zM67 494h1v1h-1zM54 515h1v1h-1zM54 492h1v1h-1zM57 495h1v1h-1zM68 496h1v1h-1zM72 495h1v1h-1zM73 508h1v1h-1zM42 508h1v1h-1zM55 495h1v1h-1zM58 505h1v1h-1zM49 510h1v1h-1zM47 498h1v1h-1zM61 502h1v1h-1zM52 488h1v1h-1zM62 497h1v1h-1zM54 510h1v1h-1zM43 502h1v1h-1zM52 493h1v1h-1zM57 498h1v1h-1zM59 501h1v1h-1zM56 512h1v1h-1zM48 507h1v1h-1zM56 493h1v1h-1zM43 499h1v1h-1zM57 513h1v1h-1zM64 514h1v1h-1zM59 491h1v1h-1zM61 499h1v1h-1zM44 493h1v1h-1zM42 495h1v1h-1zM56 509h1v1h-1zM51 512h1v1h-1zM53 491h1v1h-1zM66 515h1v1h-1zM54 511h1v1h-1zM52 522h1v1h-1zM66 512h1v1h-1zM58 511h1v1h-1zM74 503h1v1h-1zM67 507h1v1h-1zM56 497h1v1h-1zM48 491h1v1h-1zM56 500h1v1h-1zM57 489h1v1h-1zM63 501h1v1h-1zM62 512h1v1h-1zM64 515h1v1h-1zM45 501h1v1h-1zM44 498h1v1h-1zM63 494h1v1h-1zM55 510h1v1h-1zM53 496h1v1h-1zM69 498h1v1h-1zM54 502h1v1h-1zM56 498h1v1h-1zM60 501h1v1h-1zM62 507h1v1h-1zM64 504h1v1h-1zM48 500h1v1h-1zM56 504h1v1h-1zM61 497h1v1h-1zM67 508h1v1h-1zM68 492h1v1h-1zM44 517h1v1h-1zM53 495h1v1h-1zM62 494h1v1h-1zM58 514h1v1h-1zM52 510h1v1h-1zM65 496h1v1h-1zM51 497h1v1h-1zM51 502h1v1h-1zM52 514h1v1h-1zM66 497h1v1h-1zM66 499h1v1h-1zM49 504h1v1h-1zM51 500h1v1h-1zM58 497h1v1h-1zM54 504h1v1h-1zM56 488h1v1h-1zM57 496h1v1h-1zM58 495h1v1h-1zM53 502h1v1h-1zM59 505h1v1h-1zM53 500h1v1h-1zM73 515h1v1h-1zM52 497h1v1h-1zM47 495h1v1h-1zM54 508h1v1h-1zM55 496h1v1h-1zM61 504h1v1h-1zM48 506h1v1h-1zM68 495h1v1h-1zM51 495h1v1h-1zM45 490h1v1h-1zM71 509h1v1h-1zM74 505h1v1h-1zM40 504h1v1h-1zM44 505h1v1h-1zM69 512h1v1h-1zM67 496h1v1h-1zM53 506h1v1h-1zM72 501h1v1h-1zM72 510h1v1h-1zM47 496h1v1h-1zM43 503h1v1h-1zM65 489h1v1h-1zM60 512h1v1h-1zM50 500h1v1h-1zM55 512h1v1h-1zM46 500h1v1h-1zM55 513h1v1h-1zM70 510h1v1h-1zM51 501h1v1h-1zM53 517h1v1h-1zM67 499h1v1h-1zM62 513h1v1h-1zM78 508h1v1h-1zM61 511h1v1h-1zM50 488h1v1h-1zM52 512h1v1h-1zM67 505h1v1h-1zM48 494h1v1h-1zM59 493h1v1h-1zM76 508h1v1h-1zM58 506h1v1h-1zM56 499h1v1h-1zM65 494h1v1h-1zM60 509h1v1h-1zM64 490h1v1h-1zM47 501h1v1h-1zM79 517h1v1h-1zM85 514h1v1h-1zM95 519h1v1h-1zM77 520h1v1h-1zM90 524h1v1h-1zM75 515h1v1h-1zM93 523h1v1h-1zM84 515h1v1h-1zM77 529h1v1h-1zM89 507h1v1h-1zM85 524h1v1h-1zM76 524h1v1h-1zM96 523h1v1h-1zM87 523h1v1h-1zM69 513h1v1h-1zM82 518h1v1h-1zM92 510h1v1h-1zM80 520h1v1h-1zM95 518h1v1h-1zM80 510h1v1h-1zM81 510h1v1h-1zM99 521h1v1h-1zM78 525h1v1h-1zM95 508h1v1h-1zM99 518h1v1h-1zM75 514h1v1h-1zM84 530h1v1h-1zM82 512h1v1h-1zM89 511h1v1h-1zM89 520h1v1h-1zM88 519h1v1h-1zM82 525h1v1h-1zM101 513h1v1h-1zM86 515h1v1h-1zM79 510h1v1h-1zM81 517h1v1h-1zM78 527h1v1h-1zM90 516h1v1h-1zM87 509h1v1h-1zM85 510h1v1h-1zM78 521h1v1h-1zM88 511h1v1h-1zM88 526h1v1h-1zM98 514h1v1h-1zM77 523h1v1h-1zM85 525h1v1h-1zM72 517h1v1h-1zM86 523h1v1h-1zM87 530h1v1h-1zM93 516h1v1h-1zM80 517h1v1h-1zM89 514h1v1h-1zM81 521h1v1h-1zM79 525h1v1h-1zM80 529h1v1h-1zM84 519h1v1h-1zM87 527h1v1h-1zM96 520h1v1h-1zM94 512h1v1h-1zM82 524h1v1h-1zM88 517h1v1h-1zM84 514h1v1h-1zM69 522h1v1h-1zM85 527h1v1h-1zM96 514h1v1h-1zM88 521h1v1h-1zM90 514h1v1h-1zM91 519h1v1h-1zM83 529h1v1h-1zM85 518h1v1h-1zM74 531h1v1h-1zM81 523h1v1h-1zM70 515h1v1h-1zM82 519h1v1h-1zM92 514h1v1h-1zM93 514h1v1h-1zM74 524h1v1h-1zM82 505h1v1h-1zM91 516h1v1h-1zM87 520h1v1h-1zM73 526h1v1h-1zM89 508h1v1h-1zM82 517h1v1h-1zM88 515h1v1h-1zM94 507h1v1h-1zM94 515h1v1h-1zM94 516h1v1h-1zM94 517h1v1h-1zM89 522h1v1h-1zM90 505h1v1h-1zM86 531h1v1h-1zM86 521h1v1h-1zM96 529h1v1h-1zM77 511h1v1h-1zM82 515h1v1h-1zM89 519h1v1h-1zM86 508h1v1h-1zM86 511h1v1h-1zM87 528h1v1h-1zM80 526h1v1h-1zM88 520h1v1h-1zM92 525h1v1h-1zM77 515h1v1h-1zM93 510h1v1h-1zM87 506h1v1h-1zM88 524h1v1h-1zM81 516h1v1h-1zM75 520h1v1h-1zM92 515h1v1h-1zM79 518h1v1h-1zM74 516h1v1h-1zM91 518h1v1h-1zM86 524h1v1h-1zM92 530h1v1h-1zM83 521h1v1h-1zM75 527h1v1h-1zM92 520h1v1h-1zM89 518h1v1h-1zM91 512h1v1h-1zM90 512h1v1h-1zM84 523h1v1h-1zM79 520h1v1h-1zM85 511h1v1h-1zM82 526h1v1h-1zM82 520h1v1h-1zM90 523h1v1h-1zM94 521h1v1h-1zM83 522h1v1h-1zM82 521h1v1h-1zM90 504h1v1h-1zM87 507h1v1h-1zM83 518h1v1h-1zM80 512h1v1h-1zM104 519h1v1h-1zM92 519h1v1h-1zM78 511h1v1h-1zM80 533h1v1h-1zM86 512h1v1h-1zM93 518h1v1h-1zM94 510h1v1h-1zM81 525h1v1h-1zM78 518h1v1h-1zM102 521h1v1h-1zM83 511h1v1h-1zM79 516h1v1h-1zM81 514h1v1h-1zM87 511h1v1h-1zM98 523h1v1h-1zM80 525h1v1h-1zM83 528h1v1h-1zM80 513h1v1h-1zM85 512h1v1h-1zM87 519h1v1h-1zM84 521h1v1h-1zM49 515h1v1h-1zM59 527h1v1h-1zM49 519h1v1h-1zM47 516h1v1h-1zM68 506h1v1h-1zM55 521h1v1h-1zM72 519h1v1h-1zM70 525h1v1h-1zM77 508h1v1h-1zM51 524h1v1h-1zM64 538h1v1h-1zM71 537h1v1h-1zM57 529h1v1h-1zM58 504h1v1h-1zM53 522h1v1h-1zM70 529h1v1h-1zM52 531h1v1h-1zM64 517h1v1h-1zM75 516h1v1h-1zM60 529h1v1h-1zM64 512h1v1h-1zM42 536h1v1h-1zM57 520h1v1h-1zM50 514h1v1h-1zM47 523h1v1h-1zM63 526h1v1h-1zM52 523h1v1h-1zM75 526h1v1h-1zM62 526h1v1h-1zM45 505h1v1h-1zM72 522h1v1h-1zM52 506h1v1h-1zM48 512h1v1h-1zM61 512h1v1h-1zM43 520h1v1h-1zM60 511h1v1h-1zM46 525h1v1h-1zM55 527h1v1h-1zM64 524h1v1h-1zM46 494h1v1h-1zM65 493h1v1h-1zM45 509h1v1h-1zM70 524h1v1h-1zM62 527h1v1h-1zM69 520h1v1h-1zM78 507h1v1h-1zM41 516h1v1h-1zM58 518h1v1h-1zM46 501h1v1h-1zM60 523h1v1h-1zM52 527h1v1h-1zM53 528h1v1h-1zM40 515h1v1h-1zM52 517h1v1h-1zM51 521h1v1h-1zM58 520h1v1h-1zM79 507h1v1h-1zM71 521h1v1h-1zM77 525h1v1h-1zM44 529h1v1h-1zM72 526h1v1h-1zM53 524h1v1h-1zM54 521h1v1h-1zM63 530h1v1h-1zM55 524h1v1h-1zM52 498h1v1h-1zM93 505h1v1h-1zM64 523h1v1h-1zM61 522h1v1h-1zM65 521h1v1h-1zM61 523h1v1h-1zM58 515h1v1h-1zM69 517h1v1h-1zM67 527h1v1h-1zM58 525h1v1h-1zM76 510h1v1h-1zM59 511h1v1h-1zM64 508h1v1h-1zM68 526h1v1h-1zM61 517h1v1h-1zM65 523h1v1h-1zM49 492h1v1h-1zM46 519h1v1h-1zM68 497h1v1h-1zM79 513h1v1h-1zM67 524h1v1h-1zM53 534h1v1h-1zM68 514h1v1h-1zM61 520h1v1h-1zM72 534h1v1h-1zM63 513h1v1h-1zM57 519h1v1h-1zM68 516h1v1h-1zM70 508h1v1h-1zM67 526h1v1h-1zM89 515h1v1h-1zM53 526h1v1h-1zM71 538h1v1h-1zM62 508h1v1h-1zM60 526h1v1h-1zM52 528h1v1h-1zM49 524h1v1h-1zM48 504h1v1h-1zM46 493h1v1h-1zM94 483h1v1h-1zM83 505h1v1h-1zM86 519h1v1h-1zM63 484h1v1h-1zM101 481h1v1h-1zM63 492h1v1h-1zM66 495h1v1h-1zM55 498h1v1h-1zM108 502h1v1h-1zM114 503h1v1h-1zM89 506h1v1h-1zM105 491h1v1h-1zM92 481h1v1h-1zM89 509h1v1h-1zM47 511h1v1h-1zM75 511h1v1h-1zM58 482h1v1h-1zM73 509h1v1h-1zM101 479h1v1h-1zM102 503h1v1h-1zM65 491h1v1h-1zM106 491h1v1h-1zM57 483h1v1h-1zM69 493h1v1h-1zM81 484h1v1h-1zM113 484h1v1h-1zM95 484h1v1h-1zM95 512h1v1h-1zM78 471h1v1h-1zM79 503h1v1h-1zM78 476h1v1h-1zM112 503h1v1h-1zM97 504h1v1h-1zM100 491h1v1h-1zM100 496h1v1h-1zM108 483h1v1h-1zM85 484h1v1h-1zM93 477h1v1h-1zM75 489h1v1h-1zM73 518h1v1h-1zM73 512h1v1h-1zM68 500h1v1h-1zM96 482h1v1h-1zM69 489h1v1h-1zM99 502h1v1h-1zM88 509h1v1h-1zM104 499h1v1h-1zM86 504h1v1h-1zM96 489h1v1h-1zM94 471h1v1h-1zM99 490h1v1h-1zM77 514h1v1h-1zM61 483h1v1h-1zM94 476h1v1h-1zM99 492h1v1h-1zM68 503h1v1h-1zM91 483h1v1h-1zM72 503h1v1h-1zM75 521h1v1h-1zM70 522h1v1h-1zM80 505h1v1h-1zM73 485h1v1h-1zM64 516h1v1h-1zM68 501h1v1h-1zM78 512h1v1h-1zM93 507h1v1h-1zM75 484h1v1h-1zM92 502h1v1h-1zM100 504h1v1h-1zM94 505h1v1h-1zM109 496h1v1h-1zM113 504h1v1h-1zM97 507h1v1h-1zM97 506h1v1h-1zM61 480h1v1h-1zM76 507h1v1h-1zM102 499h1v1h-1zM107 488h1v1h-1zM101 502h1v1h-1zM92 505h1v1h-1zM101 488h1v1h-1zM65 517h1v1h-1zM81 513h1v1h-1zM69 507h1v1h-1zM91 504h1v1h-1zM99 509h1v1h-1zM66 494h1v1h-1zM60 485h1v1h-1zM99 487h1v1h-1zM104 491h1v1h-1zM88 507h1v1h-1zM72 498h1v1h-1zM76 482h1v1h-1zM105 498h1v1h-1zM68 487h1v1h-1zM74 507h1v1h-1zM40 493h1v1h-1zM103 504h1v1h-1zM40 501h1v1h-1zM40 541h1v1h-1zM40 507h1v1h-1zM40 520h1v1h-1zM40 498h1v1h-1zM40 521h1v1h-1zM40 517h1v1h-1zM40 525h1v1h-1zM40 510h1v1h-1zM40 512h1v1h-1zM40 543h1v1h-1zM40 539h1v1h-1zM40 532h1v1h-1zM40 538h1v1h-1zM40 529h1v1h-1zM40 530h1v1h-1zM40 536h1v1h-1zM53 546h1v1h-1zM46 546h1v1h-1zM47 546h1v1h-1zM43 546h1v1h-1zM51 546h1v1h-1zM61 546h1v1h-1zM65 546h1v1h-1zM57 546h1v1h-1zM63 546h1v1h-1zM54 546h1v1h-1zM62 546h1v1h-1z"/>
<path fill="#626262" d="M88 506h1v1h-1zM73 493h1v1h-1zM86 488h1v1h-1zM82 485h1v1h-1zM84 488h1v1h-1zM93 488h1v1h-1zM74 497h1v1h-1zM88 499h1v1h-1zM89 499h1v1h-1zM72 494h1v1h-1zM72 500h1v1h-1zM98 486h1v1h-1zM95 485h1v1h-1zM92 494h1v1h-1zM93 486h1v1h-1zM73 501h1v1h-1zM101 495h1v1h-1zM81 487h1v1h-1zM86 483h1v1h-1zM78 505h1v1h-1zM83 504h1v1h-1zM78 502h1v1h-1zM88 486h1v1h-1zM84 501h1v1h-1zM73 502h1v1h-1zM90 489h1v1h-1zM88 487h1v1h-1zM98 495h1v1h-1zM86 486h1v1h-1zM92 488h1v1h-1zM76 489h1v1h-1zM71 485h1v1h-1zM104 490h1v1h-1zM64 497h1v1h-1zM83 502h1v1h-1zM91 496h1v1h-1zM66 496h1v1h-1zM96 502h1v1h-1zM68 507h1v1h-1zM90 511h1v1h-1zM80 503h1v1h-1zM83 488h1v1h-1zM94 487h1v1h-1zM85 482h1v1h-1zM96 491h1v1h-1zM93 487h1v1h-1zM100 492h1v1h-1zM75 502h1v1h-1zM69 502h1v1h-1zM78 488h1v1h-1zM75 488h1v1h-1zM92 506h1v1h-1zM89 488h1v1h-1zM78 495h1v1h-1zM74 486h1v1h-1zM91 487h1v1h-1zM91 489h1v1h-1zM72 505h1v1h-1zM95 500h1v1h-1zM69 492h1v1h-1zM85 504h1v1h-1zM100 497h1v1h-1zM95 501h1v1h-1zM90 501h1v1h-1zM81 486h1v1h-1zM94 494h1v1h-1zM92 487h1v1h-1zM67 495h1v1h-1zM98 493h1v1h-1zM82 490h1v1h-1zM79 482h1v1h-1zM71 490h1v1h-1zM70 492h1v1h-1zM79 484h1v1h-1zM70 491h1v1h-1zM92 490h1v1h-1zM75 485h1v1h-1zM88 489h1v1h-1zM84 505h1v1h-1zM102 504h1v1h-1zM85 487h1v1h-1zM84 504h1v1h-1zM95 497h1v1h-1zM91 491h1v1h-1zM75 501h1v1h-1zM82 508h1v1h-1zM101 494h1v1h-1zM76 501h1v1h-1zM82 503h1v1h-1zM93 489h1v1h-1zM73 504h1v1h-1zM77 486h1v1h-1zM77 499h1v1h-1zM100 494h1v1h-1zM82 504h1v1h-1zM75 498h1v1h-1zM79 486h1v1h-1zM74 506h1v1h-1zM93 501h1v1h-1zM72 488h1v1h-1zM81 499h1v1h-1zM95 493h1v1h-1zM65 498h1v1h-1zM71 500h1v1h-1zM76 487h1v1h-1zM66 493h1v1h-1zM75 507h1v1h-1zM81 507h1v1h-1zM87 486h1v1h-1zM74 490h1v1h-1zM93 500h1v1h-1zM69 494h1v1h-1zM97 494h1v1h-1zM65 495h1v1h-1zM91 485h1v1h-1zM61 496h1v1h-1zM79 490h1v1h-1zM99 491h1v1h-1zM95 492h1v1h-1zM80 483h1v1h-1zM93 483h1v1h-1zM81 504h1v1h-1zM75 503h1v1h-1zM91 501h1v1h-1zM89 503h1v1h-1zM96 495h1v1h-1zM86 480h1v1h-1zM83 485h1v1h-1zM77 484h1v1h-1zM81 505h1v1h-1zM90 483h1v1h-1zM69 485h1v1h-1zM95 505h1v1h-1zM74 499h1v1h-1zM91 497h1v1h-1zM68 509h1v1h-1zM63 503h1v1h-1zM70 496h1v1h-1zM63 502h1v1h-1zM57 501h1v1h-1zM55 499h1v1h-1zM66 502h1v1h-1zM48 493h1v1h-1zM57 506h1v1h-1zM47 506h1v1h-1zM60 504h1v1h-1zM54 503h1v1h-1zM58 501h1v1h-1zM64 499h1v1h-1zM49 501h1v1h-1zM61 508h1v1h-1zM69 506h1v1h-1zM48 496h1v1h-1zM46 503h1v1h-1zM71 505h1v1h-1zM61 507h1v1h-1zM72 514h1v1h-1zM55 506h1v1h-1zM57 504h1v1h-1zM63 511h1v1h-1zM60 502h1v1h-1zM70 501h1v1h-1zM71 511h1v1h-1zM56 507h1v1h-1zM52 495h1v1h-1zM66 506h1v1h-1zM46 505h1v1h-1zM48 511h1v1h-1zM48 503h1v1h-1zM65 500h1v1h-1zM72 511h1v1h-1zM63 505h1v1h-1zM50 505h1v1h-1zM71 498h1v1h-1zM62 506h1v1h-1zM66 491h1v1h-1zM67 500h1v1h-1zM64 500h1v1h-1zM59 503h1v1h-1zM58 493h1v1h-1zM55 504h1v1h-1zM51 494h1v1h-1zM58 499h1v1h-1zM54 498h1v1h-1zM79 508h1v1h-1zM59 496h1v1h-1zM74 510h1v1h-1zM40 506h1v1h-1zM60 492h1v1h-1zM49 497h1v1h-1zM64 510h1v1h-1zM63 507h1v1h-1zM70 503h1v1h-1zM60 498h1v1h-1zM61 510h1v1h-1zM56 501h1v1h-1zM54 506h1v1h-1zM57 499h1v1h-1zM60 497h1v1h-1zM53 498h1v1h-1zM64 495h1v1h-1zM68 498h1v1h-1zM47 505h1v1h-1zM68 494h1v1h-1zM58 509h1v1h-1zM56 505h1v1h-1zM65 504h1v1h-1zM54 499h1v1h-1zM66 511h1v1h-1zM48 499h1v1h-1zM59 506h1v1h-1zM65 501h1v1h-1zM59 499h1v1h-1zM75 512h1v1h-1zM54 501h1v1h-1zM57 508h1v1h-1zM66 504h1v1h-1zM62 510h1v1h-1zM59 512h1v1h-1zM55 508h1v1h-1zM68 504h1v1h-1zM76 504h1v1h-1zM61 505h1v1h-1zM47 503h1v1h-1zM47 507h1v1h-1zM69 503h1v1h-1zM60 505h1v1h-1zM64 496h1v1h-1zM50 502h1v1h-1zM54 507h1v1h-1zM75 505h1v1h-1zM67 506h1v1h-1zM58 510h1v1h-1zM55 502h1v1h-1zM52 494h1v1h-1zM63 498h1v1h-1zM48 508h1v1h-1zM60 516h1v1h-1zM53 509h1v1h-1zM63 510h1v1h-1zM64 511h1v1h-1zM69 505h1v1h-1zM69 504h1v1h-1zM76 519h1v1h-1zM90 513h1v1h-1zM87 514h1v1h-1zM90 521h1v1h-1zM91 511h1v1h-1zM76 517h1v1h-1zM80 522h1v1h-1zM87 513h1v1h-1zM90 515h1v1h-1zM88 523h1v1h-1zM96 518h1v1h-1zM88 514h1v1h-1zM79 521h1v1h-1zM85 515h1v1h-1zM87 515h1v1h-1zM73 519h1v1h-1zM76 515h1v1h-1zM76 521h1v1h-1zM83 519h1v1h-1zM81 518h1v1h-1zM87 518h1v1h-1zM85 522h1v1h-1zM84 513h1v1h-1zM77 521h1v1h-1zM77 518h1v1h-1zM82 514h1v1h-1zM85 523h1v1h-1zM93 524h1v1h-1zM84 518h1v1h-1zM83 513h1v1h-1zM84 522h1v1h-1zM78 516h1v1h-1zM91 515h1v1h-1zM85 517h1v1h-1zM81 520h1v1h-1zM80 519h1v1h-1zM89 521h1v1h-1zM77 517h1v1h-1zM88 522h1v1h-1zM86 516h1v1h-1zM82 509h1v1h-1zM89 512h1v1h-1zM84 516h1v1h-1zM87 525h1v1h-1zM76 523h1v1h-1zM90 507h1v1h-1zM74 519h1v1h-1zM79 506h1v1h-1zM85 519h1v1h-1zM85 516h1v1h-1zM62 523h1v1h-1zM41 517h1v1h-1zM60 528h1v1h-1zM57 514h1v1h-1zM60 518h1v1h-1zM45 504h1v1h-1zM66 510h1v1h-1zM55 525h1v1h-1zM46 508h1v1h-1zM62 516h1v1h-1zM59 509h1v1h-1zM40 516h1v1h-1zM68 499h1v1h-1zM94 491h1v1h-1zM90 503h1v1h-1zM78 504h1v1h-1zM48 546h1v1h-1zM49 546h1v1h-1z"/>
<path fill="#383838" d="M92 493h1v1h-1zM83 487h1v1h-1zM80 502h1v1h-1zM75 500h1v1h-1zM79 488h1v1h-1zM88 500h1v1h-1zM71 496h1v1h-1zM83 500h1v1h-1zM86 502h1v1h-1zM80 492h1v1h-1zM78 487h1v1h-1zM81 488h1v1h-1zM84 508h1v1h-1zM90 502h1v1h-1zM73 500h1v1h-1zM89 487h1v1h-1zM93 494h1v1h-1zM80 490h1v1h-1zM70 493h1v1h-1zM89 492h1v1h-1zM86 509h1v1h-1zM86 503h1v1h-1zM77 489h1v1h-1zM95 496h1v1h-1zM67 498h1v1h-1zM73 494h1v1h-1zM79 500h1v1h-1zM85 497h1v1h-1zM72 499h1v1h-1zM75 492h1v1h-1zM83 486h1v1h-1zM78 501h1v1h-1zM97 493h1v1h-1zM95 491h1v1h-1zM85 503h1v1h-1zM95 498h1v1h-1zM89 489h1v1h-1zM81 490h1v1h-1zM75 486h1v1h-1zM72 497h1v1h-1zM73 497h1v1h-1zM91 493h1v1h-1zM87 490h1v1h-1zM88 510h1v1h-1zM95 499h1v1h-1zM91 488h1v1h-1zM76 506h1v1h-1zM91 486h1v1h-1zM87 500h1v1h-1zM93 492h1v1h-1zM81 502h1v1h-1zM89 490h1v1h-1zM97 492h1v1h-1zM66 498h1v1h-1zM76 488h1v1h-1zM77 492h1v1h-1zM81 485h1v1h-1zM100 501h1v1h-1zM87 503h1v1h-1zM81 495h1v1h-1zM81 492h1v1h-1zM80 506h1v1h-1zM71 499h1v1h-1zM79 504h1v1h-1zM74 492h1v1h-1zM76 494h1v1h-1zM77 503h1v1h-1zM71 497h1v1h-1zM79 498h1v1h-1zM79 494h1v1h-1zM74 500h1v1h-1zM74 504h1v1h-1zM76 493h1v1h-1zM75 487h1v1h-1zM80 489h1v1h-1zM83 490h1v1h-1zM93 498h1v1h-1zM73 505h1v1h-1zM72 507h1v1h-1zM85 505h1v1h-1zM77 502h1v1h-1zM71 487h1v1h-1zM59 507h1v1h-1zM56 496h1v1h-1zM64 503h1v1h-1zM53 507h1v1h-1zM59 498h1v1h-1zM55 509h1v1h-1zM80 511h1v1h-1zM56 503h1v1h-1zM70 506h1v1h-1zM64 502h1v1h-1zM65 509h1v1h-1zM60 507h1v1h-1zM70 512h1v1h-1zM60 503h1v1h-1zM57 502h1v1h-1zM62 501h1v1h-1zM72 509h1v1h-1zM50 503h1v1h-1zM52 499h1v1h-1zM67 503h1v1h-1zM61 494h1v1h-1zM62 499h1v1h-1zM67 504h1v1h-1zM60 508h1v1h-1zM84 512h1v1h-1zM65 508h1v1h-1zM62 503h1v1h-1zM63 490h1v1h-1zM68 508h1v1h-1zM62 498h1v1h-1zM71 514h1v1h-1zM70 513h1v1h-1zM60 514h1v1h-1zM49 495h1v1h-1zM51 506h1v1h-1zM54 505h1v1h-1zM67 509h1v1h-1zM55 505h1v1h-1zM63 500h1v1h-1zM84 506h1v1h-1zM85 520h1v1h-1zM84 517h1v1h-1zM80 516h1v1h-1zM77 519h1v1h-1zM86 514h1v1h-1zM82 522h1v1h-1zM80 518h1v1h-1zM89 516h1v1h-1zM78 514h1v1h-1zM83 515h1v1h-1zM83 520h1v1h-1zM91 525h1v1h-1zM84 510h1v1h-1zM84 511h1v1h-1zM82 513h1v1h-1zM91 520h1v1h-1zM82 516h1v1h-1zM83 516h1v1h-1zM93 521h1v1h-1zM86 518h1v1h-1zM84 507h1v1h-1zM80 507h1v1h-1zM72 513h1v1h-1zM71 506h1v1h-1zM64 505h1v1h-1zM40 511h1v1h-1zM69 546h1v1h-1zM55 546h1v1h-1z"/>
<path fill="#151515" d="M84 500h1v1h-1zM93 497h1v1h-1zM81 491h1v1h-1zM80 494h1v1h-1zM87 498h1v1h-1zM83 492h1v1h-1zM89 500h1v1h-1zM71 495h1v1h-1zM94 490h1v1h-1zM88 488h1v1h-1zM81 493h1v1h-1zM87 496h1v1h-1zM89 501h1v1h-1zM82 494h1v1h-1zM82 488h1v1h-1zM77 496h1v1h-1zM86 493h1v1h-1zM79 487h1v1h-1zM70 497h1v1h-1zM78 496h1v1h-1zM73 498h1v1h-1zM90 493h1v1h-1zM82 492h1v1h-1zM78 494h1v1h-1zM89 493h1v1h-1zM91 494h1v1h-1zM86 501h1v1h-1zM91 490h1v1h-1zM75 494h1v1h-1zM78 491h1v1h-1zM89 494h1v1h-1zM90 496h1v1h-1zM88 493h1v1h-1zM86 489h1v1h-1zM82 497h1v1h-1zM80 498h1v1h-1zM83 491h1v1h-1zM86 497h1v1h-1zM77 501h1v1h-1zM88 495h1v1h-1zM87 501h1v1h-1zM91 498h1v1h-1zM88 494h1v1h-1zM92 492h1v1h-1zM96 494h1v1h-1zM87 497h1v1h-1zM83 489h1v1h-1zM76 491h1v1h-1zM92 496h1v1h-1zM75 497h1v1h-1zM87 495h1v1h-1zM81 494h1v1h-1zM74 498h1v1h-1zM85 501h1v1h-1zM94 496h1v1h-1zM79 495h1v1h-1zM86 499h1v1h-1zM83 493h1v1h-1zM82 495h1v1h-1zM78 500h1v1h-1zM86 495h1v1h-1zM86 500h1v1h-1zM83 494h1v1h-1zM75 493h1v1h-1zM82 501h1v1h-1zM87 494h1v1h-1zM80 501h1v1h-1zM93 491h1v1h-1zM79 492h1v1h-1zM88 498h1v1h-1zM85 496h1v1h-1zM91 500h1v1h-1zM88 492h1v1h-1zM89 497h1v1h-1zM83 495h1v1h-1zM79 499h1v1h-1zM76 490h1v1h-1zM80 497h1v1h-1zM81 500h1v1h-1zM83 499h1v1h-1zM85 492h1v1h-1zM88 497h1v1h-1zM79 497h1v1h-1zM85 499h1v1h-1zM85 493h1v1h-1zM78 493h1v1h-1zM84 496h1v1h-1zM80 495h1v1h-1zM86 496h1v1h-1zM82 496h1v1h-1zM80 499h1v1h-1zM86 491h1v1h-1zM74 496h1v1h-1zM90 500h1v1h-1zM86 494h1v1h-1zM79 496h1v1h-1zM84 495h1v1h-1zM84 492h1v1h-1zM87 493h1v1h-1zM73 499h1v1h-1zM90 495h1v1h-1zM85 498h1v1h-1zM85 488h1v1h-1zM89 495h1v1h-1zM76 495h1v1h-1zM90 497h1v1h-1zM80 496h1v1h-1zM85 491h1v1h-1zM79 491h1v1h-1zM73 492h1v1h-1zM77 500h1v1h-1zM83 503h1v1h-1zM82 489h1v1h-1zM85 495h1v1h-1zM88 490h1v1h-1zM73 496h1v1h-1zM82 493h1v1h-1zM81 497h1v1h-1zM90 492h1v1h-1zM81 496h1v1h-1zM88 496h1v1h-1zM88 501h1v1h-1zM81 489h1v1h-1zM89 496h1v1h-1zM79 493h1v1h-1zM75 495h1v1h-1zM80 493h1v1h-1zM85 490h1v1h-1zM84 491h1v1h-1zM87 492h1v1h-1zM86 490h1v1h-1zM82 499h1v1h-1zM85 494h1v1h-1zM82 498h1v1h-1zM75 496h1v1h-1zM85 502h1v1h-1zM78 497h1v1h-1zM83 496h1v1h-1zM84 498h1v1h-1zM92 497h1v1h-1zM93 495h1v1h-1zM84 494h1v1h-1zM83 498h1v1h-1zM89 498h1v1h-1zM83 497h1v1h-1zM84 497h1v1h-1zM75 490h1v1h-1zM78 492h1v1h-1zM90 494h1v1h-1zM92 491h1v1h-1zM84 490h1v1h-1zM73 490h1v1h-1zM74 489h1v1h-1zM87 502h1v1h-1zM78 490h1v1h-1zM81 498h1v1h-1zM85 500h1v1h-1zM76 496h1v1h-1zM84 493h1v1h-1zM66 501h1v1h-1zM90 490h1v1h-1zM79 501h1v1h-1zM78 489h1v1h-1zM91 492h1v1h-1zM75 491h1v1h-1zM92 495h1v1h-1zM78 499h1v1h-1zM85 486h1v1h-1zM83 501h1v1h-1zM77 494h1v1h-1zM81 501h1v1h-1zM87 489h1v1h-1zM77 495h1v1h-1zM77 491h1v1h-1zM76 503h1v1h-1zM93 496h1v1h-1zM88 491h1v1h-1zM94 497h1v1h-1zM90 499h1v1h-1zM72 502h1v1h-1zM65 507h1v1h-1zM86 498h1v1h-1zM84 499h1v1h-1zM74 494h1v1h-1zM82 487h1v1h-1zM94 495h1v1h-1zM76 492h1v1h-1zM92 499h1v1h-1zM74 493h1v1h-1zM99 495h1v1h-1zM89 491h1v1h-1zM84 502h1v1h-1zM77 498h1v1h-1zM75 499h1v1h-1zM76 499h1v1h-1zM94 493h1v1h-1zM78 498h1v1h-1zM95 490h1v1h-1zM86 492h1v1h-1zM77 493h1v1h-1zM87 499h1v1h-1zM91 495h1v1h-1zM94 499h1v1h-1zM90 498h1v1h-1zM87 491h1v1h-1zM69 500h1v1h-1zM89 486h1v1h-1zM87 488h1v1h-1zM73 507h1v1h-1zM81 503h1v1h-1zM77 497h1v1h-1zM80 491h1v1h-1zM71 504h1v1h-1zM76 500h1v1h-1zM75 504h1v1h-1zM73 495h1v1h-1zM69 501h1v1h-1zM66 509h1v1h-1zM59 502h1v1h-1zM58 496h1v1h-1zM53 499h1v1h-1zM58 508h1v1h-1zM53 501h1v1h-1zM67 510h1v1h-1zM51 503h1v1h-1zM62 504h1v1h-1zM56 506h1v1h-1zM55 511h1v1h-1zM51 509h1v1h-1zM40 499h1v1h-1zM67 501h1v1h-1zM58 502h1v1h-1zM63 499h1v1h-1zM59 500h1v1h-1zM58 503h1v1h-1zM57 505h1v1h-1zM50 498h1v1h-1zM65 505h1v1h-1zM63 504h1v1h-1zM59 508h1v1h-1zM63 506h1v1h-1zM54 500h1v1h-1zM76 516h1v1h-1zM79 523h1v1h-1zM87 516h1v1h-1zM90 519h1v1h-1zM88 516h1v1h-1zM86 517h1v1h-1zM91 514h1v1h-1zM78 515h1v1h-1zM44 546h1v1h-1z"/>
</g>
<rect x="38.8" y="469.0" width="77.9" height="79.0" fill="none" stroke="#b4b4b4" stroke-width="0.9"/>
<rect x="72.3" y="473.9" width="37.5" height="73.3" fill="none" stroke="#000" stroke-width="2"/>
<line x1="72.30" y1="510.00" x2="109.80" y2="510.00" stroke="#000" stroke-width="2"/>
<text x="45.40" y="483.00" font-size="11.3">68%</text>
<text x="107.60" y="545.60" font-size="11.3" text-anchor="end">9%</text>
<text x="74.45" y="460.50" font-size="11" text-anchor="middle">Empty</text>
<g class="tk" font-size="5.3" fill="#222"><text x="52.1" y="556.4">0</text><text x="56.1" y="556.4">10<tspan dy="-2.2" font-size="3.8">2</tspan></text><text x="75.1" y="556.4">10<tspan dy="-2.2" font-size="3.8">3</tspan></text><text x="92.1" y="556.4">10<tspan dy="-2.2" font-size="3.8">4</tspan></text><text x="106.8" y="556.4">10<tspan dy="-2.2" font-size="3.8">5</tspan></text></g>
<g class="tk" font-size="5.3" fill="#222"><text x="27.8" y="477">10<tspan dy="-2.2" font-size="3.8">5</tspan></text><text x="27.8" y="494">10<tspan dy="-2.2" font-size="3.8">4</tspan></text><text x="27.8" y="512">10<tspan dy="-2.2" font-size="3.8">3</tspan></text><text x="33.3" y="526">0</text></g>
<g filter="url(#fb)">
<path fill="#949494" d="M150 541h1v1h-1zM140 537h1v1h-1zM141 534h1v1h-1zM149 532h1v1h-1zM145 537h1v1h-1zM140 518h1v1h-1zM145 525h1v1h-1zM143 534h1v1h-1zM148 529h1v1h-1zM147 528h1v1h-1zM147 520h1v1h-1zM149 531h1v1h-1zM150 521h1v1h-1zM142 524h1v1h-1zM151 517h1v1h-1zM141 523h1v1h-1zM142 515h1v1h-1zM138 535h1v1h-1zM141 514h1v1h-1zM149 513h1v1h-1zM141 533h1v1h-1zM139 535h1v1h-1zM141 513h1v1h-1zM139 532h1v1h-1zM148 535h1v1h-1zM149 529h1v1h-1zM145 515h1v1h-1zM136 536h1v1h-1zM142 525h1v1h-1zM143 520h1v1h-1zM139 524h1v1h-1zM148 528h1v1h-1zM149 542h1v1h-1zM142 538h1v1h-1zM142 514h1v1h-1zM143 538h1v1h-1zM141 538h1v1h-1zM149 526h1v1h-1zM138 539h1v1h-1zM150 528h1v1h-1zM137 530h1v1h-1zM151 534h1v1h-1zM140 520h1v1h-1zM144 518h1v1h-1zM150 531h1v1h-1zM135 529h1v1h-1zM144 506h1v1h-1zM134 531h1v1h-1zM137 528h1v1h-1zM141 525h1v1h-1zM146 524h1v1h-1zM142 546h1v1h-1zM142 517h1v1h-1zM146 540h1v1h-1zM136 521h1v1h-1zM145 517h1v1h-1zM138 514h1v1h-1zM137 537h1v1h-1zM143 518h1v1h-1zM135 524h1v1h-1zM145 520h1v1h-1zM140 523h1v1h-1zM142 532h1v1h-1zM142 537h1v1h-1zM136 522h1v1h-1zM138 516h1v1h-1zM138 511h1v1h-1zM143 536h1v1h-1zM144 533h1v1h-1zM141 521h1v1h-1zM140 531h1v1h-1zM138 528h1v1h-1zM144 521h1v1h-1zM140 529h1v1h-1zM145 509h1v1h-1zM139 528h1v1h-1zM138 542h1v1h-1zM139 523h1v1h-1zM140 538h1v1h-1zM149 523h1v1h-1zM141 543h1v1h-1zM150 530h1v1h-1zM139 517h1v1h-1zM147 541h1v1h-1zM144 525h1v1h-1zM146 510h1v1h-1zM150 520h1v1h-1zM148 544h1v1h-1zM141 535h1v1h-1zM141 536h1v1h-1zM148 537h1v1h-1zM145 531h1v1h-1zM142 510h1v1h-1zM142 535h1v1h-1zM147 545h1v1h-1zM137 540h1v1h-1zM138 521h1v1h-1zM145 523h1v1h-1zM155 525h1v1h-1zM148 524h1v1h-1zM157 512h1v1h-1zM170 526h1v1h-1zM153 525h1v1h-1zM165 530h1v1h-1zM155 536h1v1h-1zM156 521h1v1h-1zM138 527h1v1h-1zM171 528h1v1h-1zM180 532h1v1h-1zM154 532h1v1h-1zM133 505h1v1h-1zM147 526h1v1h-1zM140 507h1v1h-1zM135 512h1v1h-1zM154 513h1v1h-1zM152 525h1v1h-1zM167 523h1v1h-1zM156 510h1v1h-1zM142 536h1v1h-1zM152 512h1v1h-1zM146 516h1v1h-1zM151 523h1v1h-1zM149 512h1v1h-1zM158 518h1v1h-1zM160 521h1v1h-1zM156 536h1v1h-1zM171 542h1v1h-1zM154 527h1v1h-1zM159 507h1v1h-1zM162 518h1v1h-1zM156 519h1v1h-1zM155 506h1v1h-1zM172 526h1v1h-1zM152 513h1v1h-1zM161 529h1v1h-1zM150 510h1v1h-1zM141 509h1v1h-1zM132 532h1v1h-1zM161 512h1v1h-1zM159 523h1v1h-1zM153 528h1v1h-1zM157 519h1v1h-1zM157 522h1v1h-1zM156 523h1v1h-1zM160 531h1v1h-1zM164 540h1v1h-1zM149 535h1v1h-1zM164 526h1v1h-1zM150 501h1v1h-1zM138 508h1v1h-1zM155 522h1v1h-1zM133 518h1v1h-1zM155 528h1v1h-1zM154 524h1v1h-1zM158 532h1v1h-1zM155 516h1v1h-1zM153 512h1v1h-1zM150 507h1v1h-1zM171 522h1v1h-1zM156 514h1v1h-1zM136 511h1v1h-1zM160 545h1v1h-1zM139 509h1v1h-1zM168 523h1v1h-1zM154 509h1v1h-1zM148 513h1v1h-1zM149 525h1v1h-1zM167 519h1v1h-1zM156 515h1v1h-1zM161 517h1v1h-1zM157 517h1v1h-1zM161 514h1v1h-1zM156 530h1v1h-1zM138 523h1v1h-1zM160 536h1v1h-1zM160 511h1v1h-1zM141 529h1v1h-1zM157 527h1v1h-1zM171 515h1v1h-1zM156 512h1v1h-1zM169 521h1v1h-1zM164 517h1v1h-1zM148 511h1v1h-1zM148 512h1v1h-1zM167 520h1v1h-1zM167 533h1v1h-1zM143 515h1v1h-1zM156 516h1v1h-1zM168 526h1v1h-1zM158 517h1v1h-1zM160 514h1v1h-1zM151 536h1v1h-1zM159 529h1v1h-1zM163 512h1v1h-1zM152 530h1v1h-1zM173 521h1v1h-1zM151 510h1v1h-1zM145 519h1v1h-1zM167 516h1v1h-1zM154 537h1v1h-1zM149 520h1v1h-1zM140 517h1v1h-1zM147 507h1v1h-1zM157 530h1v1h-1zM159 531h1v1h-1zM155 510h1v1h-1zM169 523h1v1h-1zM159 510h1v1h-1zM137 525h1v1h-1zM156 513h1v1h-1zM148 525h1v1h-1zM156 526h1v1h-1zM162 519h1v1h-1zM175 521h1v1h-1zM170 525h1v1h-1zM151 524h1v1h-1zM158 519h1v1h-1zM170 529h1v1h-1zM148 519h1v1h-1zM161 534h1v1h-1zM152 517h1v1h-1zM155 527h1v1h-1zM155 523h1v1h-1zM152 522h1v1h-1zM152 529h1v1h-1zM138 533h1v1h-1zM177 514h1v1h-1zM187 518h1v1h-1zM173 525h1v1h-1zM175 523h1v1h-1zM194 522h1v1h-1zM164 519h1v1h-1zM150 526h1v1h-1zM186 528h1v1h-1zM190 517h1v1h-1zM189 518h1v1h-1zM186 514h1v1h-1zM187 519h1v1h-1zM169 518h1v1h-1zM186 532h1v1h-1zM166 529h1v1h-1zM160 512h1v1h-1zM174 525h1v1h-1zM163 519h1v1h-1zM165 510h1v1h-1zM169 522h1v1h-1zM172 516h1v1h-1zM177 522h1v1h-1zM165 524h1v1h-1zM170 516h1v1h-1zM174 529h1v1h-1zM177 521h1v1h-1zM180 516h1v1h-1zM183 510h1v1h-1zM178 534h1v1h-1zM180 515h1v1h-1zM176 522h1v1h-1zM178 526h1v1h-1zM166 512h1v1h-1zM178 506h1v1h-1zM169 511h1v1h-1zM189 519h1v1h-1zM170 533h1v1h-1zM187 517h1v1h-1zM193 524h1v1h-1zM178 514h1v1h-1zM172 538h1v1h-1zM180 518h1v1h-1zM172 523h1v1h-1zM186 517h1v1h-1zM156 527h1v1h-1zM185 519h1v1h-1zM168 515h1v1h-1zM185 517h1v1h-1zM194 521h1v1h-1zM171 521h1v1h-1zM153 515h1v1h-1zM205 517h1v1h-1zM176 533h1v1h-1zM174 519h1v1h-1zM176 528h1v1h-1zM172 517h1v1h-1zM179 522h1v1h-1zM168 516h1v1h-1zM198 508h1v1h-1zM169 517h1v1h-1zM182 525h1v1h-1zM189 528h1v1h-1zM173 526h1v1h-1zM184 517h1v1h-1zM170 518h1v1h-1zM165 513h1v1h-1zM187 525h1v1h-1zM186 522h1v1h-1zM166 520h1v1h-1zM177 523h1v1h-1zM183 519h1v1h-1zM155 521h1v1h-1zM182 515h1v1h-1zM172 515h1v1h-1zM160 504h1v1h-1zM178 521h1v1h-1zM179 514h1v1h-1zM173 529h1v1h-1zM169 527h1v1h-1zM162 530h1v1h-1zM173 519h1v1h-1zM164 516h1v1h-1zM173 483h1v1h-1zM182 478h1v1h-1zM191 481h1v1h-1zM154 495h1v1h-1zM166 500h1v1h-1zM137 505h1v1h-1zM164 503h1v1h-1zM182 500h1v1h-1zM179 477h1v1h-1zM205 491h1v1h-1zM179 504h1v1h-1zM162 484h1v1h-1zM157 493h1v1h-1zM173 493h1v1h-1zM194 505h1v1h-1zM149 488h1v1h-1zM154 478h1v1h-1zM170 494h1v1h-1zM163 495h1v1h-1zM182 509h1v1h-1zM162 491h1v1h-1zM169 496h1v1h-1zM169 492h1v1h-1zM172 493h1v1h-1zM131 513h1v1h-1zM131 507h1v1h-1zM131 543h1v1h-1zM131 519h1v1h-1zM131 515h1v1h-1zM131 510h1v1h-1zM131 544h1v1h-1zM131 533h1v1h-1zM131 504h1v1h-1zM131 540h1v1h-1zM131 498h1v1h-1zM131 537h1v1h-1zM131 526h1v1h-1zM131 534h1v1h-1zM131 532h1v1h-1zM131 542h1v1h-1zM146 546h1v1h-1zM159 546h1v1h-1zM153 546h1v1h-1zM147 546h1v1h-1zM141 546h1v1h-1zM158 546h1v1h-1zM145 546h1v1h-1zM156 546h1v1h-1zM140 546h1v1h-1zM138 546h1v1h-1zM155 546h1v1h-1z"/>
<path fill="#626262" d="M147 521h1v1h-1zM139 531h1v1h-1zM148 541h1v1h-1zM146 520h1v1h-1zM146 528h1v1h-1zM142 534h1v1h-1zM143 545h1v1h-1zM141 539h1v1h-1zM151 512h1v1h-1zM146 531h1v1h-1zM141 526h1v1h-1zM148 526h1v1h-1zM146 525h1v1h-1zM141 519h1v1h-1zM143 537h1v1h-1zM143 523h1v1h-1zM142 529h1v1h-1zM148 527h1v1h-1zM142 539h1v1h-1zM147 518h1v1h-1zM147 522h1v1h-1zM145 535h1v1h-1zM145 524h1v1h-1zM150 529h1v1h-1zM141 522h1v1h-1zM146 536h1v1h-1zM137 516h1v1h-1zM140 526h1v1h-1zM136 527h1v1h-1zM143 526h1v1h-1zM145 533h1v1h-1zM142 522h1v1h-1zM142 523h1v1h-1zM137 531h1v1h-1zM143 530h1v1h-1zM143 539h1v1h-1zM147 534h1v1h-1zM146 522h1v1h-1zM146 530h1v1h-1zM140 524h1v1h-1zM143 521h1v1h-1zM144 538h1v1h-1zM135 532h1v1h-1zM143 527h1v1h-1zM149 521h1v1h-1zM145 522h1v1h-1zM143 533h1v1h-1zM144 530h1v1h-1zM142 530h1v1h-1zM143 525h1v1h-1zM168 519h1v1h-1zM158 530h1v1h-1zM161 516h1v1h-1zM149 508h1v1h-1zM159 518h1v1h-1zM157 532h1v1h-1zM167 522h1v1h-1zM131 511h1v1h-1zM166 515h1v1h-1zM151 535h1v1h-1zM161 525h1v1h-1zM163 527h1v1h-1zM146 519h1v1h-1zM163 526h1v1h-1zM131 523h1v1h-1zM149 503h1v1h-1zM152 514h1v1h-1zM147 511h1v1h-1zM147 523h1v1h-1zM166 519h1v1h-1zM171 518h1v1h-1zM182 521h1v1h-1zM186 521h1v1h-1zM131 497h1v1h-1zM131 495h1v1h-1zM131 499h1v1h-1zM131 538h1v1h-1zM135 546h1v1h-1zM152 546h1v1h-1zM143 546h1v1h-1zM154 546h1v1h-1z"/>
<path fill="#383838" d="M144 536h1v1h-1zM142 528h1v1h-1zM139 533h1v1h-1zM141 531h1v1h-1zM142 531h1v1h-1zM144 532h1v1h-1zM147 530h1v1h-1zM138 529h1v1h-1zM143 522h1v1h-1zM141 527h1v1h-1zM145 521h1v1h-1zM146 527h1v1h-1zM146 518h1v1h-1zM147 525h1v1h-1zM142 527h1v1h-1zM143 528h1v1h-1zM142 513h1v1h-1zM140 525h1v1h-1zM145 530h1v1h-1zM142 520h1v1h-1zM144 524h1v1h-1zM144 537h1v1h-1zM141 520h1v1h-1zM143 524h1v1h-1zM159 520h1v1h-1zM151 546h1v1h-1zM137 546h1v1h-1z"/>
<path fill="#151515" d="M140 521h1v1h-1zM147 524h1v1h-1zM144 531h1v1h-1zM147 527h1v1h-1z"/>
</g>
<rect x="129.6" y="469.0" width="78.4" height="79.0" fill="none" stroke="#b4b4b4" stroke-width="0.9"/>
<rect x="164.8" y="473.9" width="38.5" height="73.3" fill="none" stroke="#000" stroke-width="2"/>
<line x1="164.80" y1="510.00" x2="203.30" y2="510.00" stroke="#000" stroke-width="2"/>
<text x="138.50" y="483.00" font-size="11.3">2%</text>
<text x="200.60" y="545.60" font-size="11.3" text-anchor="end">15%</text>
<text x="168.00" y="460.50" font-size="11" text-anchor="middle">Empty</text>
<g class="tk" font-size="5.3" fill="#222"><text x="142.9" y="556.4">0</text><text x="146.9" y="556.4">10<tspan dy="-2.2" font-size="3.8">2</tspan></text><text x="167.6" y="556.4">10<tspan dy="-2.2" font-size="3.8">3</tspan></text><text x="184.6" y="556.4">10<tspan dy="-2.2" font-size="3.8">4</tspan></text><text x="200.3" y="556.4">10<tspan dy="-2.2" font-size="3.8">5</tspan></text></g>
<g class="tk" font-size="5.3" fill="#222"><text x="118.6" y="477">10<tspan dy="-2.2" font-size="3.8">5</tspan></text><text x="118.6" y="494">10<tspan dy="-2.2" font-size="3.8">4</tspan></text><text x="118.6" y="512">10<tspan dy="-2.2" font-size="3.8">3</tspan></text><text x="124.1" y="526">0</text></g>
<g filter="url(#fb)">
<path fill="#949494" d="M215 530h1v1h-1zM216 540h1v1h-1zM213 526h1v1h-1zM217 536h1v1h-1zM226 522h1v1h-1zM214 536h1v1h-1zM216 515h1v1h-1zM226 534h1v1h-1zM227 530h1v1h-1zM231 534h1v1h-1zM227 516h1v1h-1zM221 541h1v1h-1zM210 538h1v1h-1zM230 520h1v1h-1zM213 537h1v1h-1zM212 522h1v1h-1zM217 537h1v1h-1zM218 517h1v1h-1zM216 521h1v1h-1zM221 513h1v1h-1zM215 541h1v1h-1zM210 524h1v1h-1zM226 537h1v1h-1zM213 530h1v1h-1zM219 512h1v1h-1zM222 514h1v1h-1zM220 540h1v1h-1zM210 537h1v1h-1zM209 533h1v1h-1zM221 517h1v1h-1zM225 536h1v1h-1zM229 522h1v1h-1zM222 536h1v1h-1zM215 516h1v1h-1zM221 515h1v1h-1zM220 514h1v1h-1zM214 534h1v1h-1zM230 530h1v1h-1zM214 523h1v1h-1zM215 520h1v1h-1zM229 519h1v1h-1zM223 535h1v1h-1zM216 532h1v1h-1zM212 533h1v1h-1zM213 529h1v1h-1zM217 517h1v1h-1zM210 532h1v1h-1zM223 541h1v1h-1zM210 522h1v1h-1zM215 533h1v1h-1zM218 520h1v1h-1zM224 538h1v1h-1zM212 519h1v1h-1zM230 526h1v1h-1zM222 534h1v1h-1zM212 526h1v1h-1zM213 512h1v1h-1zM224 512h1v1h-1zM228 536h1v1h-1zM221 537h1v1h-1zM213 533h1v1h-1zM219 534h1v1h-1zM216 539h1v1h-1zM212 518h1v1h-1zM213 521h1v1h-1zM213 543h1v1h-1zM211 529h1v1h-1zM212 521h1v1h-1zM212 520h1v1h-1zM214 524h1v1h-1zM215 534h1v1h-1zM223 540h1v1h-1zM216 513h1v1h-1zM230 531h1v1h-1zM227 539h1v1h-1zM221 545h1v1h-1zM211 521h1v1h-1zM226 519h1v1h-1zM224 535h1v1h-1zM214 537h1v1h-1zM220 512h1v1h-1zM211 523h1v1h-1zM212 532h1v1h-1zM220 543h1v1h-1zM229 538h1v1h-1zM226 514h1v1h-1zM213 525h1v1h-1zM213 531h1v1h-1zM211 530h1v1h-1zM219 537h1v1h-1zM226 536h1v1h-1zM215 521h1v1h-1zM221 509h1v1h-1zM221 536h1v1h-1zM222 520h1v1h-1zM209 512h1v1h-1zM214 532h1v1h-1zM217 520h1v1h-1zM211 531h1v1h-1zM222 537h1v1h-1zM275 491h1v1h-1zM244 477h1v1h-1zM277 484h1v1h-1zM254 500h1v1h-1zM260 491h1v1h-1zM277 505h1v1h-1zM239 493h1v1h-1zM269 499h1v1h-1zM235 483h1v1h-1zM260 507h1v1h-1zM252 474h1v1h-1zM264 512h1v1h-1zM239 489h1v1h-1zM248 472h1v1h-1zM254 484h1v1h-1zM245 503h1v1h-1zM248 506h1v1h-1zM251 496h1v1h-1zM247 490h1v1h-1zM254 477h1v1h-1zM269 512h1v1h-1zM246 503h1v1h-1zM265 481h1v1h-1zM254 490h1v1h-1zM245 484h1v1h-1zM270 487h1v1h-1zM250 485h1v1h-1zM245 502h1v1h-1zM259 471h1v1h-1zM265 486h1v1h-1zM251 484h1v1h-1zM264 501h1v1h-1zM249 485h1v1h-1zM268 477h1v1h-1zM261 480h1v1h-1zM255 497h1v1h-1zM265 479h1v1h-1zM269 507h1v1h-1zM261 491h1v1h-1zM272 510h1v1h-1zM252 504h1v1h-1zM273 512h1v1h-1zM250 498h1v1h-1zM266 510h1v1h-1zM263 477h1v1h-1zM260 504h1v1h-1zM255 490h1v1h-1zM259 507h1v1h-1zM264 484h1v1h-1zM252 503h1v1h-1zM273 518h1v1h-1zM262 507h1v1h-1zM268 487h1v1h-1zM268 483h1v1h-1zM253 489h1v1h-1zM264 483h1v1h-1zM251 506h1v1h-1zM272 488h1v1h-1zM244 505h1v1h-1zM242 495h1v1h-1zM239 498h1v1h-1zM250 491h1v1h-1zM252 475h1v1h-1zM246 504h1v1h-1zM263 502h1v1h-1zM265 499h1v1h-1zM257 476h1v1h-1zM264 503h1v1h-1zM259 508h1v1h-1zM266 485h1v1h-1zM241 480h1v1h-1zM264 481h1v1h-1zM265 503h1v1h-1zM248 514h1v1h-1zM251 481h1v1h-1zM250 492h1v1h-1zM279 493h1v1h-1zM265 512h1v1h-1zM259 472h1v1h-1zM268 481h1v1h-1zM261 477h1v1h-1zM262 515h1v1h-1zM270 515h1v1h-1zM238 476h1v1h-1zM278 480h1v1h-1zM246 483h1v1h-1zM241 493h1v1h-1zM246 480h1v1h-1zM253 482h1v1h-1zM245 490h1v1h-1zM263 482h1v1h-1zM251 511h1v1h-1zM277 509h1v1h-1zM248 491h1v1h-1zM261 510h1v1h-1zM250 506h1v1h-1zM259 483h1v1h-1zM264 479h1v1h-1zM250 516h1v1h-1zM255 481h1v1h-1zM237 492h1v1h-1zM247 492h1v1h-1zM261 498h1v1h-1zM257 497h1v1h-1zM250 488h1v1h-1zM252 486h1v1h-1zM262 475h1v1h-1zM236 495h1v1h-1zM244 474h1v1h-1zM247 494h1v1h-1zM259 498h1v1h-1zM248 476h1v1h-1zM247 472h1v1h-1zM262 509h1v1h-1zM268 492h1v1h-1zM244 488h1v1h-1zM272 481h1v1h-1zM259 474h1v1h-1zM244 489h1v1h-1zM250 501h1v1h-1zM260 501h1v1h-1zM248 484h1v1h-1zM271 488h1v1h-1zM258 509h1v1h-1zM248 493h1v1h-1zM274 510h1v1h-1zM267 503h1v1h-1zM245 499h1v1h-1zM251 482h1v1h-1zM239 497h1v1h-1zM270 493h1v1h-1zM262 499h1v1h-1zM242 499h1v1h-1zM264 486h1v1h-1zM278 502h1v1h-1zM257 477h1v1h-1zM259 488h1v1h-1zM271 503h1v1h-1zM261 479h1v1h-1zM266 474h1v1h-1zM263 483h1v1h-1zM267 485h1v1h-1zM266 489h1v1h-1zM256 503h1v1h-1zM268 496h1v1h-1zM259 504h1v1h-1zM257 494h1v1h-1zM266 514h1v1h-1zM243 499h1v1h-1zM262 483h1v1h-1zM241 486h1v1h-1zM258 484h1v1h-1zM272 511h1v1h-1zM253 508h1v1h-1zM265 484h1v1h-1zM247 499h1v1h-1zM255 499h1v1h-1zM252 480h1v1h-1zM276 498h1v1h-1zM256 494h1v1h-1zM266 483h1v1h-1zM255 492h1v1h-1zM276 492h1v1h-1zM248 482h1v1h-1zM249 491h1v1h-1zM267 497h1v1h-1zM256 472h1v1h-1zM247 488h1v1h-1zM258 507h1v1h-1zM246 493h1v1h-1zM246 487h1v1h-1zM274 494h1v1h-1zM275 505h1v1h-1zM256 477h1v1h-1zM240 505h1v1h-1zM270 507h1v1h-1zM274 490h1v1h-1zM258 478h1v1h-1zM266 488h1v1h-1zM245 498h1v1h-1zM260 489h1v1h-1zM239 499h1v1h-1zM264 488h1v1h-1zM248 473h1v1h-1zM245 491h1v1h-1zM258 505h1v1h-1zM270 483h1v1h-1zM243 481h1v1h-1zM266 476h1v1h-1zM262 504h1v1h-1zM243 513h1v1h-1zM251 480h1v1h-1zM247 489h1v1h-1zM257 490h1v1h-1zM276 501h1v1h-1zM265 487h1v1h-1zM248 490h1v1h-1zM267 500h1v1h-1zM252 491h1v1h-1zM241 494h1v1h-1zM254 503h1v1h-1zM261 489h1v1h-1zM258 477h1v1h-1zM243 507h1v1h-1zM263 498h1v1h-1zM251 507h1v1h-1zM253 474h1v1h-1zM250 482h1v1h-1zM248 487h1v1h-1zM250 497h1v1h-1zM270 508h1v1h-1zM256 496h1v1h-1zM272 504h1v1h-1zM252 509h1v1h-1zM240 485h1v1h-1zM269 487h1v1h-1zM249 488h1v1h-1zM248 515h1v1h-1zM242 480h1v1h-1zM256 479h1v1h-1zM253 480h1v1h-1zM255 504h1v1h-1zM259 491h1v1h-1zM253 495h1v1h-1zM270 497h1v1h-1zM269 489h1v1h-1zM247 477h1v1h-1zM264 499h1v1h-1zM269 491h1v1h-1zM260 478h1v1h-1zM253 492h1v1h-1zM244 506h1v1h-1zM246 496h1v1h-1zM257 513h1v1h-1zM257 498h1v1h-1zM268 512h1v1h-1zM245 495h1v1h-1zM264 478h1v1h-1zM255 483h1v1h-1zM271 505h1v1h-1zM251 502h1v1h-1zM266 502h1v1h-1zM260 484h1v1h-1zM265 497h1v1h-1zM240 495h1v1h-1zM248 488h1v1h-1zM271 487h1v1h-1zM255 472h1v1h-1zM275 506h1v1h-1zM262 502h1v1h-1zM249 490h1v1h-1zM275 492h1v1h-1zM270 499h1v1h-1zM257 483h1v1h-1zM247 496h1v1h-1zM254 502h1v1h-1zM247 473h1v1h-1zM251 488h1v1h-1zM251 483h1v1h-1zM262 494h1v1h-1zM281 497h1v1h-1zM271 492h1v1h-1zM253 498h1v1h-1zM260 473h1v1h-1zM242 507h1v1h-1zM266 487h1v1h-1zM270 513h1v1h-1zM252 483h1v1h-1zM245 489h1v1h-1zM251 504h1v1h-1zM275 485h1v1h-1zM271 494h1v1h-1zM241 487h1v1h-1zM268 479h1v1h-1zM252 470h1v1h-1zM261 483h1v1h-1zM270 518h1v1h-1zM268 489h1v1h-1zM256 487h1v1h-1zM254 492h1v1h-1zM268 502h1v1h-1zM272 495h1v1h-1zM262 487h1v1h-1zM255 488h1v1h-1zM266 479h1v1h-1zM244 494h1v1h-1zM258 476h1v1h-1zM256 474h1v1h-1zM259 478h1v1h-1zM274 480h1v1h-1zM242 504h1v1h-1zM247 491h1v1h-1zM267 471h1v1h-1zM254 481h1v1h-1zM251 499h1v1h-1zM239 501h1v1h-1zM243 496h1v1h-1zM236 484h1v1h-1zM258 524h1v1h-1zM243 492h1v1h-1zM243 475h1v1h-1zM256 489h1v1h-1zM253 512h1v1h-1zM276 496h1v1h-1zM269 506h1v1h-1zM264 502h1v1h-1zM275 502h1v1h-1zM260 481h1v1h-1zM243 491h1v1h-1zM234 492h1v1h-1zM253 479h1v1h-1zM257 501h1v1h-1zM250 481h1v1h-1zM270 495h1v1h-1zM271 497h1v1h-1zM267 478h1v1h-1zM269 496h1v1h-1zM264 493h1v1h-1zM251 479h1v1h-1zM275 495h1v1h-1zM249 489h1v1h-1zM257 500h1v1h-1zM264 482h1v1h-1zM262 508h1v1h-1zM239 485h1v1h-1zM267 486h1v1h-1zM250 486h1v1h-1zM260 503h1v1h-1zM257 482h1v1h-1zM274 497h1v1h-1zM273 503h1v1h-1zM278 488h1v1h-1zM255 494h1v1h-1zM258 481h1v1h-1zM258 488h1v1h-1zM244 504h1v1h-1zM256 484h1v1h-1zM257 508h1v1h-1zM260 500h1v1h-1zM261 488h1v1h-1zM238 503h1v1h-1zM271 498h1v1h-1zM239 494h1v1h-1zM239 518h1v1h-1zM268 521h1v1h-1zM271 529h1v1h-1zM275 516h1v1h-1zM244 530h1v1h-1zM251 529h1v1h-1zM269 510h1v1h-1zM273 516h1v1h-1zM252 524h1v1h-1zM273 507h1v1h-1zM269 536h1v1h-1zM255 538h1v1h-1zM252 523h1v1h-1zM269 521h1v1h-1zM267 516h1v1h-1zM254 531h1v1h-1zM259 535h1v1h-1zM281 513h1v1h-1zM263 515h1v1h-1zM255 526h1v1h-1zM255 519h1v1h-1zM265 519h1v1h-1zM273 527h1v1h-1zM279 522h1v1h-1zM240 530h1v1h-1zM261 520h1v1h-1zM235 535h1v1h-1zM237 512h1v1h-1zM258 530h1v1h-1zM268 511h1v1h-1zM259 527h1v1h-1zM246 534h1v1h-1zM258 518h1v1h-1zM250 537h1v1h-1zM245 505h1v1h-1zM278 509h1v1h-1zM270 535h1v1h-1zM233 524h1v1h-1zM255 532h1v1h-1zM242 513h1v1h-1zM239 537h1v1h-1zM271 520h1v1h-1zM251 524h1v1h-1zM240 514h1v1h-1zM256 532h1v1h-1zM258 531h1v1h-1zM250 513h1v1h-1zM247 522h1v1h-1zM263 534h1v1h-1zM234 510h1v1h-1zM269 524h1v1h-1zM270 532h1v1h-1zM237 515h1v1h-1zM268 517h1v1h-1zM259 532h1v1h-1zM256 534h1v1h-1zM254 511h1v1h-1zM273 506h1v1h-1zM252 533h1v1h-1zM256 523h1v1h-1zM265 527h1v1h-1zM252 521h1v1h-1zM269 518h1v1h-1zM281 515h1v1h-1zM275 511h1v1h-1zM266 528h1v1h-1zM265 517h1v1h-1zM244 513h1v1h-1zM257 536h1v1h-1zM254 512h1v1h-1zM261 509h1v1h-1zM266 527h1v1h-1zM274 532h1v1h-1zM273 521h1v1h-1zM250 532h1v1h-1zM268 507h1v1h-1zM272 534h1v1h-1zM274 514h1v1h-1zM266 524h1v1h-1zM253 514h1v1h-1zM238 504h1v1h-1zM243 536h1v1h-1zM238 513h1v1h-1zM250 531h1v1h-1zM264 526h1v1h-1zM259 524h1v1h-1zM271 516h1v1h-1zM273 508h1v1h-1zM267 537h1v1h-1zM257 529h1v1h-1zM262 537h1v1h-1zM253 516h1v1h-1zM262 516h1v1h-1zM257 530h1v1h-1zM274 523h1v1h-1zM251 533h1v1h-1zM272 523h1v1h-1zM267 531h1v1h-1zM259 529h1v1h-1zM270 519h1v1h-1zM270 517h1v1h-1zM256 530h1v1h-1zM247 530h1v1h-1zM242 532h1v1h-1zM244 533h1v1h-1zM247 508h1v1h-1zM260 538h1v1h-1zM263 514h1v1h-1zM256 539h1v1h-1zM269 515h1v1h-1zM245 510h1v1h-1zM277 513h1v1h-1zM258 525h1v1h-1zM251 503h1v1h-1zM256 507h1v1h-1zM266 534h1v1h-1zM262 525h1v1h-1zM275 523h1v1h-1zM265 524h1v1h-1zM255 530h1v1h-1zM256 524h1v1h-1zM273 523h1v1h-1zM274 519h1v1h-1zM281 523h1v1h-1zM265 514h1v1h-1zM269 535h1v1h-1zM243 522h1v1h-1zM279 512h1v1h-1zM265 506h1v1h-1zM254 537h1v1h-1zM278 506h1v1h-1zM240 509h1v1h-1zM271 531h1v1h-1zM275 519h1v1h-1zM237 516h1v1h-1zM251 514h1v1h-1zM271 526h1v1h-1zM258 513h1v1h-1zM264 527h1v1h-1zM251 539h1v1h-1zM275 520h1v1h-1zM243 531h1v1h-1zM273 526h1v1h-1zM268 524h1v1h-1zM262 522h1v1h-1zM249 531h1v1h-1zM260 529h1v1h-1zM248 512h1v1h-1zM264 514h1v1h-1zM265 536h1v1h-1zM247 524h1v1h-1zM249 530h1v1h-1zM261 536h1v1h-1zM267 513h1v1h-1zM273 515h1v1h-1zM251 522h1v1h-1zM275 522h1v1h-1zM275 521h1v1h-1zM248 533h1v1h-1zM258 510h1v1h-1zM252 527h1v1h-1zM253 540h1v1h-1zM260 521h1v1h-1zM269 514h1v1h-1zM270 516h1v1h-1zM272 518h1v1h-1zM274 515h1v1h-1zM282 519h1v1h-1zM271 512h1v1h-1zM260 527h1v1h-1zM269 526h1v1h-1zM270 511h1v1h-1zM238 525h1v1h-1zM252 529h1v1h-1zM264 528h1v1h-1zM276 518h1v1h-1zM262 530h1v1h-1zM265 520h1v1h-1zM265 515h1v1h-1zM248 522h1v1h-1zM260 512h1v1h-1zM254 520h1v1h-1zM274 513h1v1h-1zM283 523h1v1h-1zM250 530h1v1h-1zM267 506h1v1h-1zM271 510h1v1h-1zM281 520h1v1h-1zM267 530h1v1h-1zM263 535h1v1h-1zM271 517h1v1h-1zM262 521h1v1h-1zM266 508h1v1h-1zM269 520h1v1h-1zM254 518h1v1h-1zM248 538h1v1h-1zM249 539h1v1h-1zM264 524h1v1h-1zM269 523h1v1h-1zM251 521h1v1h-1zM253 529h1v1h-1zM258 537h1v1h-1zM257 510h1v1h-1zM233 528h1v1h-1zM235 509h1v1h-1zM267 520h1v1h-1zM241 527h1v1h-1zM241 512h1v1h-1zM265 533h1v1h-1zM274 520h1v1h-1zM240 526h1v1h-1zM231 496h1v1h-1zM264 529h1v1h-1zM254 527h1v1h-1zM274 525h1v1h-1zM241 513h1v1h-1zM267 527h1v1h-1zM262 519h1v1h-1zM269 529h1v1h-1zM253 528h1v1h-1zM262 520h1v1h-1zM238 528h1v1h-1zM250 528h1v1h-1zM255 534h1v1h-1zM242 523h1v1h-1zM252 530h1v1h-1zM253 535h1v1h-1zM269 519h1v1h-1zM257 518h1v1h-1zM255 525h1v1h-1zM260 530h1v1h-1zM269 513h1v1h-1zM242 544h1v1h-1zM235 536h1v1h-1zM271 511h1v1h-1zM245 521h1v1h-1zM242 508h1v1h-1zM249 523h1v1h-1zM275 527h1v1h-1zM251 532h1v1h-1zM276 508h1v1h-1zM237 513h1v1h-1zM261 531h1v1h-1zM266 526h1v1h-1zM257 535h1v1h-1zM251 515h1v1h-1zM266 525h1v1h-1zM255 523h1v1h-1zM276 515h1v1h-1zM254 533h1v1h-1zM260 528h1v1h-1zM269 511h1v1h-1zM244 516h1v1h-1zM258 508h1v1h-1zM249 529h1v1h-1zM255 537h1v1h-1zM247 509h1v1h-1zM254 538h1v1h-1zM258 503h1v1h-1zM256 529h1v1h-1zM253 519h1v1h-1zM271 525h1v1h-1zM271 522h1v1h-1zM258 536h1v1h-1zM242 509h1v1h-1zM256 543h1v1h-1zM264 536h1v1h-1zM264 505h1v1h-1zM263 533h1v1h-1zM259 531h1v1h-1zM263 519h1v1h-1zM247 531h1v1h-1zM260 508h1v1h-1zM272 526h1v1h-1zM261 526h1v1h-1zM256 538h1v1h-1zM250 527h1v1h-1zM258 529h1v1h-1zM280 525h1v1h-1zM243 525h1v1h-1zM260 520h1v1h-1zM235 537h1v1h-1zM248 534h1v1h-1zM241 505h1v1h-1zM230 518h1v1h-1zM233 512h1v1h-1zM232 529h1v1h-1zM231 506h1v1h-1zM233 506h1v1h-1zM226 500h1v1h-1zM250 512h1v1h-1zM228 511h1v1h-1zM227 537h1v1h-1zM225 540h1v1h-1zM234 511h1v1h-1zM245 507h1v1h-1zM250 536h1v1h-1zM257 531h1v1h-1zM233 531h1v1h-1zM231 522h1v1h-1zM231 507h1v1h-1zM228 508h1v1h-1zM212 509h1v1h-1zM241 537h1v1h-1zM234 527h1v1h-1zM230 529h1v1h-1zM241 530h1v1h-1zM231 513h1v1h-1zM246 520h1v1h-1zM232 510h1v1h-1zM238 509h1v1h-1zM217 514h1v1h-1zM223 538h1v1h-1zM230 512h1v1h-1zM234 525h1v1h-1zM234 533h1v1h-1zM232 505h1v1h-1zM220 510h1v1h-1zM225 505h1v1h-1zM229 518h1v1h-1zM225 494h1v1h-1zM229 520h1v1h-1zM248 526h1v1h-1zM232 525h1v1h-1zM227 534h1v1h-1zM237 530h1v1h-1zM240 525h1v1h-1zM236 530h1v1h-1zM229 530h1v1h-1zM240 503h1v1h-1zM240 532h1v1h-1zM241 531h1v1h-1zM243 532h1v1h-1zM235 510h1v1h-1zM234 532h1v1h-1zM237 514h1v1h-1zM238 511h1v1h-1zM251 531h1v1h-1zM224 541h1v1h-1zM239 541h1v1h-1zM219 510h1v1h-1zM233 534h1v1h-1zM239 517h1v1h-1zM223 511h1v1h-1zM221 516h1v1h-1zM224 501h1v1h-1zM232 507h1v1h-1zM229 512h1v1h-1zM232 524h1v1h-1zM237 495h1v1h-1zM227 532h1v1h-1zM224 507h1v1h-1zM221 507h1v1h-1zM231 515h1v1h-1zM234 521h1v1h-1zM228 507h1v1h-1zM252 541h1v1h-1zM232 512h1v1h-1zM228 540h1v1h-1zM216 534h1v1h-1zM239 535h1v1h-1zM232 527h1v1h-1zM235 518h1v1h-1zM226 515h1v1h-1zM236 521h1v1h-1zM240 515h1v1h-1zM245 532h1v1h-1zM229 514h1v1h-1zM244 510h1v1h-1zM246 528h1v1h-1zM231 510h1v1h-1zM262 543h1v1h-1zM235 533h1v1h-1zM238 518h1v1h-1zM242 524h1v1h-1zM236 507h1v1h-1zM240 512h1v1h-1zM229 505h1v1h-1zM234 529h1v1h-1zM243 514h1v1h-1zM239 509h1v1h-1zM231 516h1v1h-1zM237 528h1v1h-1zM227 506h1v1h-1zM246 532h1v1h-1zM248 527h1v1h-1zM268 533h1v1h-1zM243 515h1v1h-1zM253 530h1v1h-1zM233 500h1v1h-1zM247 528h1v1h-1zM242 511h1v1h-1zM231 512h1v1h-1zM226 510h1v1h-1zM230 535h1v1h-1zM236 526h1v1h-1zM233 529h1v1h-1zM231 530h1v1h-1zM236 544h1v1h-1zM230 503h1v1h-1zM228 541h1v1h-1zM236 532h1v1h-1zM243 527h1v1h-1zM214 510h1v1h-1zM231 508h1v1h-1zM219 504h1v1h-1zM219 539h1v1h-1zM225 537h1v1h-1zM245 512h1v1h-1zM215 513h1v1h-1zM234 517h1v1h-1zM246 516h1v1h-1zM224 515h1v1h-1zM251 519h1v1h-1zM242 530h1v1h-1zM221 510h1v1h-1zM242 541h1v1h-1zM237 533h1v1h-1zM230 540h1v1h-1zM226 538h1v1h-1zM230 511h1v1h-1zM240 529h1v1h-1zM227 512h1v1h-1zM225 507h1v1h-1zM245 536h1v1h-1zM246 492h1v1h-1zM234 513h1v1h-1zM241 515h1v1h-1zM230 527h1v1h-1zM230 516h1v1h-1zM230 509h1v1h-1zM238 532h1v1h-1zM237 527h1v1h-1zM233 520h1v1h-1zM222 541h1v1h-1zM230 523h1v1h-1zM244 509h1v1h-1zM237 537h1v1h-1zM231 527h1v1h-1zM223 501h1v1h-1zM238 522h1v1h-1zM237 531h1v1h-1zM234 524h1v1h-1zM231 526h1v1h-1zM230 517h1v1h-1zM221 511h1v1h-1zM226 505h1v1h-1zM237 526h1v1h-1zM234 531h1v1h-1zM233 508h1v1h-1zM229 507h1v1h-1zM229 515h1v1h-1zM250 533h1v1h-1zM245 542h1v1h-1zM249 538h1v1h-1zM235 542h1v1h-1zM240 546h1v1h-1zM233 536h1v1h-1zM233 511h1v1h-1zM227 507h1v1h-1zM216 512h1v1h-1zM232 497h1v1h-1zM236 474h1v1h-1zM212 493h1v1h-1zM232 491h1v1h-1zM212 494h1v1h-1zM232 478h1v1h-1zM210 518h1v1h-1zM215 509h1v1h-1zM227 497h1v1h-1zM218 512h1v1h-1zM210 494h1v1h-1zM230 515h1v1h-1zM217 506h1v1h-1zM234 496h1v1h-1zM241 520h1v1h-1zM217 498h1v1h-1zM233 492h1v1h-1zM216 511h1v1h-1zM243 502h1v1h-1zM237 507h1v1h-1zM233 471h1v1h-1zM236 503h1v1h-1zM244 485h1v1h-1zM217 512h1v1h-1zM212 489h1v1h-1zM238 481h1v1h-1zM238 500h1v1h-1zM242 488h1v1h-1zM239 474h1v1h-1zM212 477h1v1h-1zM225 491h1v1h-1zM226 494h1v1h-1zM220 501h1v1h-1zM234 498h1v1h-1zM225 508h1v1h-1zM233 475h1v1h-1zM217 492h1v1h-1zM216 489h1v1h-1zM231 487h1v1h-1zM238 512h1v1h-1zM218 502h1v1h-1zM266 532h1v1h-1zM238 498h1v1h-1zM224 485h1v1h-1zM214 488h1v1h-1zM223 505h1v1h-1zM223 487h1v1h-1zM234 506h1v1h-1zM229 481h1v1h-1zM220 488h1v1h-1zM231 489h1v1h-1zM217 496h1v1h-1zM237 486h1v1h-1zM241 500h1v1h-1zM227 511h1v1h-1zM229 494h1v1h-1zM223 507h1v1h-1zM241 491h1v1h-1zM220 504h1v1h-1zM224 493h1v1h-1zM220 506h1v1h-1zM238 508h1v1h-1zM236 502h1v1h-1zM233 497h1v1h-1zM231 500h1v1h-1zM224 497h1v1h-1zM224 487h1v1h-1zM234 499h1v1h-1zM237 491h1v1h-1zM224 491h1v1h-1zM235 494h1v1h-1zM232 488h1v1h-1zM234 479h1v1h-1zM218 494h1v1h-1zM220 485h1v1h-1zM233 509h1v1h-1zM240 487h1v1h-1zM226 496h1v1h-1zM239 492h1v1h-1zM219 501h1v1h-1zM217 488h1v1h-1zM215 505h1v1h-1zM239 490h1v1h-1zM226 501h1v1h-1zM237 501h1v1h-1zM216 501h1v1h-1zM225 503h1v1h-1zM235 496h1v1h-1zM222 491h1v1h-1zM231 494h1v1h-1zM262 486h1v1h-1zM222 490h1v1h-1zM230 480h1v1h-1zM217 478h1v1h-1zM237 484h1v1h-1zM236 506h1v1h-1zM238 478h1v1h-1zM211 499h1v1h-1zM228 509h1v1h-1zM239 507h1v1h-1zM233 487h1v1h-1zM240 520h1v1h-1zM239 530h1v1h-1zM228 500h1v1h-1zM223 500h1v1h-1zM220 498h1v1h-1zM238 494h1v1h-1zM231 492h1v1h-1zM222 501h1v1h-1zM235 505h1v1h-1zM230 524h1v1h-1zM232 511h1v1h-1zM239 500h1v1h-1zM232 484h1v1h-1zM224 511h1v1h-1zM246 494h1v1h-1zM230 491h1v1h-1zM216 518h1v1h-1zM220 499h1v1h-1zM244 481h1v1h-1zM237 478h1v1h-1zM238 482h1v1h-1zM217 502h1v1h-1zM209 522h1v1h-1zM209 502h1v1h-1zM209 498h1v1h-1zM209 495h1v1h-1zM209 510h1v1h-1zM209 496h1v1h-1zM209 532h1v1h-1zM209 545h1v1h-1zM209 525h1v1h-1zM209 531h1v1h-1zM209 519h1v1h-1zM209 497h1v1h-1zM209 529h1v1h-1zM209 539h1v1h-1zM209 538h1v1h-1zM209 505h1v1h-1zM209 536h1v1h-1zM209 530h1v1h-1zM226 546h1v1h-1zM213 546h1v1h-1zM230 546h1v1h-1zM238 546h1v1h-1zM221 546h1v1h-1zM233 546h1v1h-1zM231 546h1v1h-1zM235 546h1v1h-1zM236 546h1v1h-1zM218 546h1v1h-1zM234 546h1v1h-1zM220 546h1v1h-1zM214 546h1v1h-1z"/>
<path fill="#626262" d="M216 536h1v1h-1zM215 535h1v1h-1zM224 536h1v1h-1zM225 535h1v1h-1zM209 534h1v1h-1zM229 536h1v1h-1zM220 535h1v1h-1zM228 527h1v1h-1zM215 518h1v1h-1zM212 527h1v1h-1zM217 534h1v1h-1zM214 527h1v1h-1zM220 518h1v1h-1zM230 528h1v1h-1zM222 516h1v1h-1zM225 519h1v1h-1zM213 528h1v1h-1zM227 536h1v1h-1zM211 525h1v1h-1zM217 519h1v1h-1zM214 521h1v1h-1zM214 517h1v1h-1zM218 538h1v1h-1zM226 531h1v1h-1zM223 539h1v1h-1zM217 518h1v1h-1zM229 533h1v1h-1zM217 531h1v1h-1zM231 533h1v1h-1zM212 525h1v1h-1zM224 519h1v1h-1zM222 518h1v1h-1zM225 516h1v1h-1zM228 529h1v1h-1zM227 517h1v1h-1zM215 519h1v1h-1zM219 538h1v1h-1zM223 534h1v1h-1zM210 534h1v1h-1zM221 533h1v1h-1zM219 516h1v1h-1zM214 529h1v1h-1zM213 527h1v1h-1zM224 514h1v1h-1zM222 538h1v1h-1zM231 521h1v1h-1zM209 526h1v1h-1zM212 524h1v1h-1zM215 532h1v1h-1zM231 528h1v1h-1zM220 517h1v1h-1zM218 536h1v1h-1zM212 523h1v1h-1zM229 526h1v1h-1zM229 524h1v1h-1zM229 528h1v1h-1zM220 536h1v1h-1zM216 524h1v1h-1zM211 526h1v1h-1zM231 531h1v1h-1zM228 519h1v1h-1zM228 530h1v1h-1zM227 526h1v1h-1zM215 529h1v1h-1zM214 514h1v1h-1zM234 528h1v1h-1zM219 515h1v1h-1zM228 514h1v1h-1zM221 519h1v1h-1zM248 492h1v1h-1zM258 490h1v1h-1zM259 481h1v1h-1zM245 496h1v1h-1zM243 494h1v1h-1zM250 487h1v1h-1zM256 508h1v1h-1zM254 483h1v1h-1zM265 521h1v1h-1zM266 493h1v1h-1zM255 507h1v1h-1zM252 481h1v1h-1zM258 496h1v1h-1zM252 495h1v1h-1zM270 506h1v1h-1zM263 500h1v1h-1zM257 495h1v1h-1zM249 500h1v1h-1zM248 481h1v1h-1zM253 490h1v1h-1zM265 496h1v1h-1zM251 491h1v1h-1zM249 504h1v1h-1zM246 484h1v1h-1zM268 500h1v1h-1zM253 485h1v1h-1zM259 500h1v1h-1zM242 497h1v1h-1zM257 506h1v1h-1zM263 493h1v1h-1zM260 502h1v1h-1zM256 488h1v1h-1zM250 504h1v1h-1zM259 513h1v1h-1zM260 505h1v1h-1zM268 499h1v1h-1zM260 495h1v1h-1zM249 479h1v1h-1zM269 502h1v1h-1zM253 505h1v1h-1zM253 483h1v1h-1zM259 494h1v1h-1zM261 486h1v1h-1zM260 490h1v1h-1zM245 509h1v1h-1zM257 487h1v1h-1zM242 486h1v1h-1zM247 505h1v1h-1zM248 504h1v1h-1zM257 493h1v1h-1zM249 493h1v1h-1zM269 505h1v1h-1zM250 490h1v1h-1zM269 500h1v1h-1zM265 495h1v1h-1zM249 499h1v1h-1zM266 503h1v1h-1zM252 501h1v1h-1zM259 484h1v1h-1zM245 493h1v1h-1zM261 490h1v1h-1zM267 488h1v1h-1zM249 476h1v1h-1zM250 479h1v1h-1zM254 487h1v1h-1zM253 502h1v1h-1zM263 495h1v1h-1zM244 499h1v1h-1zM262 493h1v1h-1zM251 518h1v1h-1zM273 496h1v1h-1zM246 506h1v1h-1zM265 507h1v1h-1zM265 504h1v1h-1zM261 517h1v1h-1zM255 487h1v1h-1zM256 500h1v1h-1zM245 485h1v1h-1zM246 513h1v1h-1zM248 511h1v1h-1zM265 491h1v1h-1zM246 501h1v1h-1zM242 502h1v1h-1zM246 490h1v1h-1zM252 487h1v1h-1zM251 493h1v1h-1zM253 486h1v1h-1zM265 509h1v1h-1zM260 492h1v1h-1zM255 505h1v1h-1zM262 474h1v1h-1zM251 497h1v1h-1zM251 509h1v1h-1zM264 508h1v1h-1zM261 496h1v1h-1zM265 489h1v1h-1zM254 486h1v1h-1zM242 503h1v1h-1zM247 503h1v1h-1zM246 502h1v1h-1zM255 482h1v1h-1zM247 485h1v1h-1zM259 486h1v1h-1zM256 505h1v1h-1zM254 485h1v1h-1zM263 494h1v1h-1zM266 495h1v1h-1zM252 517h1v1h-1zM251 477h1v1h-1zM254 514h1v1h-1zM254 499h1v1h-1zM259 505h1v1h-1zM247 513h1v1h-1zM252 500h1v1h-1zM268 505h1v1h-1zM267 481h1v1h-1zM239 504h1v1h-1zM249 484h1v1h-1zM261 500h1v1h-1zM271 493h1v1h-1zM257 512h1v1h-1zM267 511h1v1h-1zM272 491h1v1h-1zM244 508h1v1h-1zM250 499h1v1h-1zM271 489h1v1h-1zM244 495h1v1h-1zM268 508h1v1h-1zM263 496h1v1h-1zM266 496h1v1h-1zM259 501h1v1h-1zM257 485h1v1h-1zM261 487h1v1h-1zM266 498h1v1h-1zM272 509h1v1h-1zM261 502h1v1h-1zM270 498h1v1h-1zM258 475h1v1h-1zM250 508h1v1h-1zM261 497h1v1h-1zM252 496h1v1h-1zM257 475h1v1h-1zM265 488h1v1h-1zM261 514h1v1h-1zM242 506h1v1h-1zM264 485h1v1h-1zM241 497h1v1h-1zM264 490h1v1h-1zM247 486h1v1h-1zM249 501h1v1h-1zM267 502h1v1h-1zM239 491h1v1h-1zM256 490h1v1h-1zM243 506h1v1h-1zM250 507h1v1h-1zM256 483h1v1h-1zM262 510h1v1h-1zM246 509h1v1h-1zM242 500h1v1h-1zM268 493h1v1h-1zM246 499h1v1h-1zM248 496h1v1h-1zM260 496h1v1h-1zM252 489h1v1h-1zM267 490h1v1h-1zM256 478h1v1h-1zM267 482h1v1h-1zM244 507h1v1h-1zM243 504h1v1h-1zM256 506h1v1h-1zM257 525h1v1h-1zM271 500h1v1h-1zM269 503h1v1h-1zM250 515h1v1h-1zM244 498h1v1h-1zM242 492h1v1h-1zM250 500h1v1h-1zM247 476h1v1h-1zM263 506h1v1h-1zM240 489h1v1h-1zM260 483h1v1h-1zM261 493h1v1h-1zM256 509h1v1h-1zM258 479h1v1h-1zM247 497h1v1h-1zM266 486h1v1h-1zM243 509h1v1h-1zM235 490h1v1h-1zM247 487h1v1h-1zM270 505h1v1h-1zM267 493h1v1h-1zM258 491h1v1h-1zM261 485h1v1h-1zM260 499h1v1h-1zM260 486h1v1h-1zM246 498h1v1h-1zM251 487h1v1h-1zM255 485h1v1h-1zM260 493h1v1h-1zM269 508h1v1h-1zM265 483h1v1h-1zM266 491h1v1h-1zM244 502h1v1h-1zM258 499h1v1h-1zM261 508h1v1h-1zM249 498h1v1h-1zM264 504h1v1h-1zM243 495h1v1h-1zM245 477h1v1h-1zM263 511h1v1h-1zM252 482h1v1h-1zM262 498h1v1h-1zM263 489h1v1h-1zM261 499h1v1h-1zM253 503h1v1h-1zM248 505h1v1h-1zM259 506h1v1h-1zM267 509h1v1h-1zM238 490h1v1h-1zM262 485h1v1h-1zM260 510h1v1h-1zM250 484h1v1h-1zM261 515h1v1h-1zM259 511h1v1h-1zM262 488h1v1h-1zM251 486h1v1h-1zM243 503h1v1h-1zM254 482h1v1h-1zM264 500h1v1h-1zM243 497h1v1h-1zM272 507h1v1h-1zM265 498h1v1h-1zM255 480h1v1h-1zM267 508h1v1h-1zM255 508h1v1h-1zM270 496h1v1h-1zM257 523h1v1h-1zM269 485h1v1h-1zM261 507h1v1h-1zM262 506h1v1h-1zM245 504h1v1h-1zM248 486h1v1h-1zM256 510h1v1h-1zM245 506h1v1h-1zM237 509h1v1h-1zM246 508h1v1h-1zM265 510h1v1h-1zM253 500h1v1h-1zM254 513h1v1h-1zM246 505h1v1h-1zM258 482h1v1h-1zM266 519h1v1h-1zM261 504h1v1h-1zM243 512h1v1h-1zM238 524h1v1h-1zM254 517h1v1h-1zM261 528h1v1h-1zM265 526h1v1h-1zM263 520h1v1h-1zM265 523h1v1h-1zM268 519h1v1h-1zM254 539h1v1h-1zM263 524h1v1h-1zM251 510h1v1h-1zM271 514h1v1h-1zM252 514h1v1h-1zM271 519h1v1h-1zM250 514h1v1h-1zM256 531h1v1h-1zM252 515h1v1h-1zM254 526h1v1h-1zM258 535h1v1h-1zM255 533h1v1h-1zM265 518h1v1h-1zM257 524h1v1h-1zM260 515h1v1h-1zM235 527h1v1h-1zM250 529h1v1h-1zM264 516h1v1h-1zM244 503h1v1h-1zM256 528h1v1h-1zM254 532h1v1h-1zM269 525h1v1h-1zM263 517h1v1h-1zM241 519h1v1h-1zM258 523h1v1h-1zM260 524h1v1h-1zM249 527h1v1h-1zM277 528h1v1h-1zM259 525h1v1h-1zM264 522h1v1h-1zM244 522h1v1h-1zM266 518h1v1h-1zM266 523h1v1h-1zM258 512h1v1h-1zM252 518h1v1h-1zM237 519h1v1h-1zM269 527h1v1h-1zM243 528h1v1h-1zM249 528h1v1h-1zM250 523h1v1h-1zM240 531h1v1h-1zM256 520h1v1h-1zM256 525h1v1h-1zM251 520h1v1h-1zM256 513h1v1h-1zM261 524h1v1h-1zM248 519h1v1h-1zM263 529h1v1h-1zM262 517h1v1h-1zM242 520h1v1h-1zM257 516h1v1h-1zM260 517h1v1h-1zM266 515h1v1h-1zM230 502h1v1h-1zM270 522h1v1h-1zM245 524h1v1h-1zM262 511h1v1h-1zM261 529h1v1h-1zM269 517h1v1h-1zM241 532h1v1h-1zM246 538h1v1h-1zM234 514h1v1h-1zM246 515h1v1h-1zM246 518h1v1h-1zM267 521h1v1h-1zM262 524h1v1h-1zM251 513h1v1h-1zM264 530h1v1h-1zM261 522h1v1h-1zM261 525h1v1h-1zM251 526h1v1h-1zM271 521h1v1h-1zM261 518h1v1h-1zM248 528h1v1h-1zM247 516h1v1h-1zM245 516h1v1h-1zM238 514h1v1h-1zM239 521h1v1h-1zM265 522h1v1h-1zM258 527h1v1h-1zM259 517h1v1h-1zM254 525h1v1h-1zM236 513h1v1h-1zM257 520h1v1h-1zM243 530h1v1h-1zM272 517h1v1h-1zM253 526h1v1h-1zM256 512h1v1h-1zM237 517h1v1h-1zM266 507h1v1h-1zM243 519h1v1h-1zM257 528h1v1h-1zM252 525h1v1h-1zM243 520h1v1h-1zM259 519h1v1h-1zM229 503h1v1h-1zM253 513h1v1h-1zM260 523h1v1h-1zM253 532h1v1h-1zM242 510h1v1h-1zM259 528h1v1h-1zM232 532h1v1h-1zM246 531h1v1h-1zM265 529h1v1h-1zM236 540h1v1h-1zM260 519h1v1h-1zM267 529h1v1h-1zM267 535h1v1h-1zM254 519h1v1h-1zM268 518h1v1h-1zM239 513h1v1h-1zM243 510h1v1h-1zM250 520h1v1h-1zM244 528h1v1h-1zM246 524h1v1h-1zM254 529h1v1h-1zM241 536h1v1h-1zM246 535h1v1h-1zM267 526h1v1h-1zM246 525h1v1h-1zM239 527h1v1h-1zM275 510h1v1h-1zM257 532h1v1h-1zM258 526h1v1h-1zM254 523h1v1h-1zM266 521h1v1h-1zM242 533h1v1h-1zM234 523h1v1h-1zM240 519h1v1h-1zM266 517h1v1h-1zM237 508h1v1h-1zM253 525h1v1h-1zM241 529h1v1h-1zM248 525h1v1h-1zM242 512h1v1h-1zM244 531h1v1h-1zM244 529h1v1h-1zM252 528h1v1h-1zM244 527h1v1h-1zM237 522h1v1h-1zM241 506h1v1h-1zM234 534h1v1h-1zM241 511h1v1h-1zM234 515h1v1h-1zM230 525h1v1h-1zM236 531h1v1h-1zM233 507h1v1h-1zM233 510h1v1h-1zM238 529h1v1h-1zM235 514h1v1h-1zM231 525h1v1h-1zM247 527h1v1h-1zM231 517h1v1h-1zM236 527h1v1h-1zM239 516h1v1h-1zM241 528h1v1h-1zM241 508h1v1h-1zM242 525h1v1h-1zM229 525h1v1h-1zM225 514h1v1h-1zM246 523h1v1h-1zM237 520h1v1h-1zM222 511h1v1h-1zM234 516h1v1h-1zM235 532h1v1h-1zM236 510h1v1h-1zM234 518h1v1h-1zM227 515h1v1h-1zM233 523h1v1h-1zM230 519h1v1h-1zM235 522h1v1h-1zM236 512h1v1h-1zM240 516h1v1h-1zM236 516h1v1h-1zM233 517h1v1h-1zM245 523h1v1h-1zM253 522h1v1h-1zM232 514h1v1h-1zM236 515h1v1h-1zM234 530h1v1h-1zM235 528h1v1h-1zM233 527h1v1h-1zM233 525h1v1h-1zM243 517h1v1h-1zM229 509h1v1h-1zM231 535h1v1h-1zM233 502h1v1h-1zM239 515h1v1h-1zM233 518h1v1h-1zM235 521h1v1h-1zM228 504h1v1h-1zM235 530h1v1h-1zM231 519h1v1h-1zM226 513h1v1h-1zM233 526h1v1h-1zM238 510h1v1h-1zM249 534h1v1h-1zM231 520h1v1h-1zM228 510h1v1h-1zM227 520h1v1h-1zM238 521h1v1h-1zM235 524h1v1h-1zM238 519h1v1h-1zM239 528h1v1h-1zM236 524h1v1h-1zM245 520h1v1h-1zM230 513h1v1h-1zM233 513h1v1h-1zM231 523h1v1h-1zM238 527h1v1h-1zM240 517h1v1h-1zM228 526h1v1h-1zM232 522h1v1h-1zM227 519h1v1h-1zM236 528h1v1h-1zM244 521h1v1h-1zM234 509h1v1h-1zM227 508h1v1h-1zM210 520h1v1h-1zM228 502h1v1h-1zM220 507h1v1h-1zM224 496h1v1h-1zM243 505h1v1h-1zM231 495h1v1h-1zM228 499h1v1h-1zM235 501h1v1h-1zM229 498h1v1h-1zM226 502h1v1h-1zM231 493h1v1h-1zM235 503h1v1h-1zM230 499h1v1h-1zM237 511h1v1h-1zM219 499h1v1h-1zM227 500h1v1h-1zM219 503h1v1h-1zM212 546h1v1h-1zM229 546h1v1h-1zM217 546h1v1h-1z"/>
<path fill="#383838" d="M223 517h1v1h-1zM224 534h1v1h-1zM215 526h1v1h-1zM223 516h1v1h-1zM222 519h1v1h-1zM215 517h1v1h-1zM219 535h1v1h-1zM219 519h1v1h-1zM218 518h1v1h-1zM219 521h1v1h-1zM222 533h1v1h-1zM216 520h1v1h-1zM221 534h1v1h-1zM223 536h1v1h-1zM227 531h1v1h-1zM223 520h1v1h-1zM227 521h1v1h-1zM231 532h1v1h-1zM233 532h1v1h-1zM229 529h1v1h-1zM225 520h1v1h-1zM227 533h1v1h-1zM230 532h1v1h-1zM224 520h1v1h-1zM227 524h1v1h-1zM226 520h1v1h-1zM214 525h1v1h-1zM225 525h1v1h-1zM213 523h1v1h-1zM228 523h1v1h-1zM226 530h1v1h-1zM224 516h1v1h-1zM219 533h1v1h-1zM231 524h1v1h-1zM224 530h1v1h-1zM219 524h1v1h-1zM237 524h1v1h-1zM228 528h1v1h-1zM225 534h1v1h-1zM228 518h1v1h-1zM223 519h1v1h-1zM226 516h1v1h-1zM247 512h1v1h-1zM258 495h1v1h-1zM256 501h1v1h-1zM257 491h1v1h-1zM253 506h1v1h-1zM256 498h1v1h-1zM257 502h1v1h-1zM259 520h1v1h-1zM262 480h1v1h-1zM263 523h1v1h-1zM265 493h1v1h-1zM258 504h1v1h-1zM261 495h1v1h-1zM268 498h1v1h-1zM263 503h1v1h-1zM255 486h1v1h-1zM254 497h1v1h-1zM261 492h1v1h-1zM255 496h1v1h-1zM248 508h1v1h-1zM261 512h1v1h-1zM255 516h1v1h-1zM262 495h1v1h-1zM260 487h1v1h-1zM249 483h1v1h-1zM248 502h1v1h-1zM264 495h1v1h-1zM250 496h1v1h-1zM253 501h1v1h-1zM249 515h1v1h-1zM252 488h1v1h-1zM264 497h1v1h-1zM255 491h1v1h-1zM257 504h1v1h-1zM258 497h1v1h-1zM270 490h1v1h-1zM260 488h1v1h-1zM249 495h1v1h-1zM264 506h1v1h-1zM256 499h1v1h-1zM258 500h1v1h-1zM259 509h1v1h-1zM251 490h1v1h-1zM261 494h1v1h-1zM266 501h1v1h-1zM262 500h1v1h-1zM262 489h1v1h-1zM258 494h1v1h-1zM248 498h1v1h-1zM252 505h1v1h-1zM251 492h1v1h-1zM257 507h1v1h-1zM256 486h1v1h-1zM250 511h1v1h-1zM254 496h1v1h-1zM251 501h1v1h-1zM268 497h1v1h-1zM262 496h1v1h-1zM256 482h1v1h-1zM259 503h1v1h-1zM252 497h1v1h-1zM266 500h1v1h-1zM253 497h1v1h-1zM266 497h1v1h-1zM267 507h1v1h-1zM258 514h1v1h-1zM261 501h1v1h-1zM242 489h1v1h-1zM249 492h1v1h-1zM253 515h1v1h-1zM250 494h1v1h-1zM264 496h1v1h-1zM265 494h1v1h-1zM249 512h1v1h-1zM259 510h1v1h-1zM248 499h1v1h-1zM255 510h1v1h-1zM258 502h1v1h-1zM252 498h1v1h-1zM254 507h1v1h-1zM264 513h1v1h-1zM254 495h1v1h-1zM265 492h1v1h-1zM260 506h1v1h-1zM264 487h1v1h-1zM259 487h1v1h-1zM260 497h1v1h-1zM263 486h1v1h-1zM246 510h1v1h-1zM247 510h1v1h-1zM260 485h1v1h-1zM252 502h1v1h-1zM239 506h1v1h-1zM252 510h1v1h-1zM270 500h1v1h-1zM249 503h1v1h-1zM257 509h1v1h-1zM268 515h1v1h-1zM251 505h1v1h-1zM266 504h1v1h-1zM253 499h1v1h-1zM269 504h1v1h-1zM260 513h1v1h-1zM262 505h1v1h-1zM252 490h1v1h-1zM263 509h1v1h-1zM246 489h1v1h-1zM255 493h1v1h-1zM251 495h1v1h-1zM260 494h1v1h-1zM248 524h1v1h-1zM253 520h1v1h-1zM249 509h1v1h-1zM269 509h1v1h-1zM264 525h1v1h-1zM248 509h1v1h-1zM249 505h1v1h-1zM254 510h1v1h-1zM256 504h1v1h-1zM270 523h1v1h-1zM259 518h1v1h-1zM251 534h1v1h-1zM247 515h1v1h-1zM249 520h1v1h-1zM256 511h1v1h-1zM259 515h1v1h-1zM250 521h1v1h-1zM245 515h1v1h-1zM261 521h1v1h-1zM247 525h1v1h-1zM240 513h1v1h-1zM254 522h1v1h-1zM248 529h1v1h-1zM259 526h1v1h-1zM254 528h1v1h-1zM255 521h1v1h-1zM248 520h1v1h-1zM251 527h1v1h-1zM255 520h1v1h-1zM252 532h1v1h-1zM256 515h1v1h-1zM257 519h1v1h-1zM268 522h1v1h-1zM247 521h1v1h-1zM252 513h1v1h-1zM247 517h1v1h-1zM249 514h1v1h-1zM247 519h1v1h-1zM260 516h1v1h-1zM253 521h1v1h-1zM258 517h1v1h-1zM266 509h1v1h-1zM241 524h1v1h-1zM258 519h1v1h-1zM256 521h1v1h-1zM244 517h1v1h-1zM259 522h1v1h-1zM249 519h1v1h-1zM263 518h1v1h-1zM251 528h1v1h-1zM252 511h1v1h-1zM239 529h1v1h-1zM246 521h1v1h-1zM252 520h1v1h-1zM270 521h1v1h-1zM248 523h1v1h-1zM232 523h1v1h-1zM250 519h1v1h-1zM240 528h1v1h-1zM246 522h1v1h-1zM242 521h1v1h-1zM245 526h1v1h-1zM236 518h1v1h-1zM260 518h1v1h-1zM261 511h1v1h-1zM251 525h1v1h-1zM242 517h1v1h-1zM249 521h1v1h-1zM253 510h1v1h-1zM243 526h1v1h-1zM261 523h1v1h-1zM255 524h1v1h-1zM244 526h1v1h-1zM231 514h1v1h-1zM264 518h1v1h-1zM249 513h1v1h-1zM241 518h1v1h-1zM241 516h1v1h-1zM238 520h1v1h-1zM244 520h1v1h-1zM250 524h1v1h-1zM239 526h1v1h-1zM234 519h1v1h-1zM246 517h1v1h-1zM254 524h1v1h-1zM238 515h1v1h-1zM268 528h1v1h-1zM252 516h1v1h-1zM235 525h1v1h-1zM247 511h1v1h-1zM246 526h1v1h-1zM242 529h1v1h-1zM263 525h1v1h-1zM257 521h1v1h-1zM250 526h1v1h-1zM244 515h1v1h-1zM233 514h1v1h-1zM239 524h1v1h-1zM258 522h1v1h-1zM241 525h1v1h-1zM255 528h1v1h-1zM242 518h1v1h-1zM246 529h1v1h-1zM248 517h1v1h-1zM249 516h1v1h-1zM247 518h1v1h-1zM232 506h1v1h-1zM238 523h1v1h-1zM237 518h1v1h-1zM228 535h1v1h-1zM237 521h1v1h-1zM240 518h1v1h-1zM237 523h1v1h-1zM236 520h1v1h-1zM240 523h1v1h-1zM230 533h1v1h-1zM232 515h1v1h-1zM241 517h1v1h-1zM245 529h1v1h-1zM244 518h1v1h-1zM240 508h1v1h-1zM232 521h1v1h-1zM230 522h1v1h-1zM227 518h1v1h-1zM231 518h1v1h-1zM234 508h1v1h-1zM209 507h1v1h-1zM209 527h1v1h-1zM215 546h1v1h-1zM228 546h1v1h-1z"/>
<path fill="#151515" d="M225 531h1v1h-1zM217 529h1v1h-1zM223 524h1v1h-1zM217 530h1v1h-1zM214 526h1v1h-1zM216 529h1v1h-1zM226 529h1v1h-1zM218 524h1v1h-1zM218 530h1v1h-1zM220 523h1v1h-1zM220 525h1v1h-1zM218 527h1v1h-1zM220 521h1v1h-1zM224 525h1v1h-1zM224 523h1v1h-1zM216 525h1v1h-1zM218 523h1v1h-1zM222 525h1v1h-1zM218 521h1v1h-1zM215 528h1v1h-1zM221 532h1v1h-1zM219 531h1v1h-1zM222 517h1v1h-1zM216 533h1v1h-1zM217 522h1v1h-1zM224 524h1v1h-1zM221 530h1v1h-1zM219 522h1v1h-1zM224 528h1v1h-1zM219 529h1v1h-1zM218 525h1v1h-1zM221 529h1v1h-1zM220 524h1v1h-1zM220 533h1v1h-1zM221 518h1v1h-1zM225 528h1v1h-1zM222 522h1v1h-1zM229 511h1v1h-1zM216 530h1v1h-1zM223 529h1v1h-1zM225 527h1v1h-1zM228 525h1v1h-1zM224 527h1v1h-1zM213 524h1v1h-1zM219 526h1v1h-1zM225 530h1v1h-1zM223 527h1v1h-1zM217 527h1v1h-1zM223 518h1v1h-1zM224 529h1v1h-1zM217 524h1v1h-1zM227 528h1v1h-1zM218 531h1v1h-1zM223 528h1v1h-1zM221 527h1v1h-1zM219 527h1v1h-1zM225 521h1v1h-1zM220 530h1v1h-1zM222 524h1v1h-1zM228 521h1v1h-1zM222 526h1v1h-1zM226 535h1v1h-1zM220 531h1v1h-1zM220 519h1v1h-1zM225 526h1v1h-1zM220 520h1v1h-1zM232 519h1v1h-1zM223 530h1v1h-1zM218 533h1v1h-1zM218 532h1v1h-1zM220 527h1v1h-1zM221 531h1v1h-1zM221 522h1v1h-1zM224 521h1v1h-1zM216 531h1v1h-1zM223 532h1v1h-1zM226 526h1v1h-1zM219 532h1v1h-1zM215 531h1v1h-1zM221 528h1v1h-1zM224 522h1v1h-1zM227 529h1v1h-1zM223 531h1v1h-1zM219 518h1v1h-1zM223 525h1v1h-1zM226 525h1v1h-1zM217 521h1v1h-1zM221 524h1v1h-1zM219 528h1v1h-1zM220 532h1v1h-1zM226 527h1v1h-1zM226 521h1v1h-1zM225 518h1v1h-1zM216 519h1v1h-1zM225 522h1v1h-1zM217 525h1v1h-1zM215 522h1v1h-1zM222 528h1v1h-1zM222 529h1v1h-1zM218 529h1v1h-1zM218 516h1v1h-1zM221 525h1v1h-1zM229 527h1v1h-1zM221 526h1v1h-1zM223 522h1v1h-1zM222 532h1v1h-1zM216 526h1v1h-1zM222 530h1v1h-1zM219 523h1v1h-1zM225 529h1v1h-1zM222 535h1v1h-1zM218 526h1v1h-1zM217 533h1v1h-1zM220 529h1v1h-1zM222 527h1v1h-1zM217 528h1v1h-1zM216 523h1v1h-1zM219 520h1v1h-1zM226 518h1v1h-1zM222 531h1v1h-1zM224 533h1v1h-1zM225 524h1v1h-1zM225 533h1v1h-1zM217 526h1v1h-1zM216 527h1v1h-1zM214 528h1v1h-1zM216 522h1v1h-1zM221 523h1v1h-1zM223 521h1v1h-1zM219 530h1v1h-1zM225 523h1v1h-1zM216 528h1v1h-1zM218 528h1v1h-1zM220 526h1v1h-1zM215 524h1v1h-1zM226 528h1v1h-1zM226 523h1v1h-1zM222 523h1v1h-1zM220 528h1v1h-1zM218 534h1v1h-1zM223 523h1v1h-1zM219 525h1v1h-1zM217 523h1v1h-1zM221 520h1v1h-1zM224 518h1v1h-1zM226 524h1v1h-1zM218 535h1v1h-1zM224 532h1v1h-1zM220 534h1v1h-1zM220 522h1v1h-1zM218 522h1v1h-1zM230 521h1v1h-1zM226 532h1v1h-1zM227 523h1v1h-1zM228 520h1v1h-1zM226 533h1v1h-1zM224 526h1v1h-1zM226 517h1v1h-1zM217 532h1v1h-1zM225 532h1v1h-1zM215 525h1v1h-1zM215 527h1v1h-1zM222 521h1v1h-1zM218 519h1v1h-1zM221 521h1v1h-1zM223 526h1v1h-1zM227 527h1v1h-1zM229 532h1v1h-1zM227 525h1v1h-1zM229 523h1v1h-1zM228 524h1v1h-1zM227 522h1v1h-1zM228 515h1v1h-1zM225 517h1v1h-1zM253 488h1v1h-1zM263 492h1v1h-1zM264 507h1v1h-1zM255 495h1v1h-1zM256 497h1v1h-1zM248 503h1v1h-1zM254 491h1v1h-1zM258 493h1v1h-1zM248 494h1v1h-1zM258 486h1v1h-1zM263 499h1v1h-1zM246 497h1v1h-1zM254 489h1v1h-1zM257 496h1v1h-1zM253 496h1v1h-1zM263 505h1v1h-1zM257 505h1v1h-1zM258 485h1v1h-1zM247 498h1v1h-1zM263 512h1v1h-1zM256 480h1v1h-1zM255 501h1v1h-1zM259 497h1v1h-1zM252 493h1v1h-1zM257 488h1v1h-1zM257 503h1v1h-1zM248 516h1v1h-1zM250 495h1v1h-1zM257 514h1v1h-1zM249 510h1v1h-1zM255 498h1v1h-1zM253 507h1v1h-1zM254 506h1v1h-1zM253 504h1v1h-1zM254 494h1v1h-1zM248 501h1v1h-1zM247 501h1v1h-1zM255 500h1v1h-1zM253 494h1v1h-1zM254 498h1v1h-1zM255 509h1v1h-1zM255 502h1v1h-1zM257 489h1v1h-1zM249 518h1v1h-1zM252 492h1v1h-1zM258 511h1v1h-1zM267 487h1v1h-1zM265 508h1v1h-1zM253 493h1v1h-1zM254 488h1v1h-1zM255 506h1v1h-1zM259 496h1v1h-1zM264 498h1v1h-1zM249 494h1v1h-1zM255 517h1v1h-1zM251 508h1v1h-1zM246 512h1v1h-1zM245 497h1v1h-1zM263 501h1v1h-1zM255 512h1v1h-1zM262 501h1v1h-1zM243 493h1v1h-1zM256 492h1v1h-1zM258 501h1v1h-1zM245 514h1v1h-1zM250 502h1v1h-1zM250 493h1v1h-1zM249 486h1v1h-1zM244 491h1v1h-1zM256 502h1v1h-1zM259 489h1v1h-1zM255 503h1v1h-1zM253 491h1v1h-1zM257 511h1v1h-1zM257 515h1v1h-1zM252 494h1v1h-1zM256 493h1v1h-1zM254 505h1v1h-1zM251 500h1v1h-1zM260 498h1v1h-1zM252 512h1v1h-1zM259 495h1v1h-1zM255 513h1v1h-1zM252 499h1v1h-1zM256 485h1v1h-1zM254 501h1v1h-1zM263 507h1v1h-1zM254 508h1v1h-1zM252 507h1v1h-1zM259 499h1v1h-1zM252 508h1v1h-1zM246 514h1v1h-1zM261 503h1v1h-1zM257 492h1v1h-1zM259 512h1v1h-1zM262 490h1v1h-1zM265 501h1v1h-1zM261 519h1v1h-1zM241 510h1v1h-1zM263 488h1v1h-1zM252 506h1v1h-1zM255 511h1v1h-1zM266 511h1v1h-1zM253 511h1v1h-1zM250 505h1v1h-1zM241 514h1v1h-1zM258 498h1v1h-1zM258 506h1v1h-1zM249 507h1v1h-1zM267 524h1v1h-1zM264 521h1v1h-1zM255 518h1v1h-1zM247 523h1v1h-1zM248 513h1v1h-1zM238 506h1v1h-1zM263 522h1v1h-1zM254 509h1v1h-1zM259 514h1v1h-1zM251 517h1v1h-1zM260 514h1v1h-1zM259 516h1v1h-1zM257 526h1v1h-1zM239 512h1v1h-1zM256 522h1v1h-1zM253 524h1v1h-1zM247 526h1v1h-1zM232 517h1v1h-1zM256 519h1v1h-1zM259 523h1v1h-1zM253 523h1v1h-1zM245 517h1v1h-1zM249 524h1v1h-1zM248 518h1v1h-1zM236 511h1v1h-1zM239 523h1v1h-1zM257 522h1v1h-1zM259 521h1v1h-1zM260 522h1v1h-1zM240 524h1v1h-1zM249 517h1v1h-1zM244 525h1v1h-1zM255 531h1v1h-1zM245 522h1v1h-1zM250 510h1v1h-1zM254 521h1v1h-1zM251 516h1v1h-1zM241 523h1v1h-1zM235 513h1v1h-1zM256 517h1v1h-1zM236 522h1v1h-1zM262 518h1v1h-1zM239 508h1v1h-1zM256 514h1v1h-1zM245 518h1v1h-1zM243 523h1v1h-1zM235 517h1v1h-1zM258 516h1v1h-1zM252 526h1v1h-1zM258 515h1v1h-1zM240 522h1v1h-1zM258 520h1v1h-1zM248 521h1v1h-1zM255 522h1v1h-1zM261 516h1v1h-1zM234 522h1v1h-1zM233 521h1v1h-1zM234 507h1v1h-1zM245 519h1v1h-1zM247 514h1v1h-1zM257 517h1v1h-1zM256 518h1v1h-1zM258 521h1v1h-1zM261 527h1v1h-1zM254 515h1v1h-1zM253 517h1v1h-1zM255 527h1v1h-1zM235 515h1v1h-1zM242 516h1v1h-1zM243 516h1v1h-1zM255 514h1v1h-1zM235 508h1v1h-1zM250 522h1v1h-1zM247 520h1v1h-1zM244 519h1v1h-1zM243 521h1v1h-1zM241 526h1v1h-1zM250 525h1v1h-1zM242 515h1v1h-1zM238 526h1v1h-1zM245 527h1v1h-1zM236 519h1v1h-1zM240 511h1v1h-1zM243 524h1v1h-1zM253 527h1v1h-1zM264 520h1v1h-1zM241 521h1v1h-1zM242 522h1v1h-1zM239 520h1v1h-1zM236 529h1v1h-1zM249 522h1v1h-1zM244 524h1v1h-1zM238 517h1v1h-1zM255 515h1v1h-1zM230 514h1v1h-1zM241 522h1v1h-1zM245 531h1v1h-1zM233 522h1v1h-1zM236 523h1v1h-1zM239 522h1v1h-1zM228 517h1v1h-1zM235 523h1v1h-1zM233 515h1v1h-1zM228 513h1v1h-1zM235 526h1v1h-1zM229 521h1v1h-1zM235 520h1v1h-1zM235 519h1v1h-1zM234 520h1v1h-1zM232 528h1v1h-1zM234 526h1v1h-1zM236 525h1v1h-1zM244 523h1v1h-1z"/>
</g>
<rect x="208.0" y="469.0" width="77.9" height="79.0" fill="none" stroke="#b4b4b4" stroke-width="0.9"/>
<rect x="243.8" y="473.9" width="36.7" height="73.3" fill="none" stroke="#000" stroke-width="2"/>
<line x1="243.80" y1="510.00" x2="280.50" y2="510.00" stroke="#000" stroke-width="2"/>
<text x="218.30" y="483.00" font-size="11.3">18%</text>
<text x="277.80" y="545.60" font-size="11.3" text-anchor="end">24%</text>
<text x="245.70" y="454.40" font-size="11" text-anchor="middle">Cbfβ</text>
<text x="245.70" y="466.00" font-size="11" text-anchor="middle">(182aa)</text>
<g class="tk" font-size="5.3" fill="#222"><text x="221.3" y="556.4">0</text><text x="225.3" y="556.4">10<tspan dy="-2.2" font-size="3.8">2</tspan></text><text x="246.6" y="556.4">10<tspan dy="-2.2" font-size="3.8">3</tspan></text><text x="263.6" y="556.4">10<tspan dy="-2.2" font-size="3.8">4</tspan></text><text x="277.5" y="556.4">10<tspan dy="-2.2" font-size="3.8">5</tspan></text></g>
<g filter="url(#fb)">
<path fill="#949494" d="M300 543h1v1h-1zM304 538h1v1h-1zM297 516h1v1h-1zM298 540h1v1h-1zM306 535h1v1h-1zM293 527h1v1h-1zM301 538h1v1h-1zM299 508h1v1h-1zM294 520h1v1h-1zM299 517h1v1h-1zM300 510h1v1h-1zM302 536h1v1h-1zM293 535h1v1h-1zM300 517h1v1h-1zM293 532h1v1h-1zM301 539h1v1h-1zM308 536h1v1h-1zM298 539h1v1h-1zM303 519h1v1h-1zM294 530h1v1h-1zM295 532h1v1h-1zM294 511h1v1h-1zM288 524h1v1h-1zM299 513h1v1h-1zM297 523h1v1h-1zM305 539h1v1h-1zM294 525h1v1h-1zM305 534h1v1h-1zM309 531h1v1h-1zM300 540h1v1h-1zM297 534h1v1h-1zM305 519h1v1h-1zM305 535h1v1h-1zM299 536h1v1h-1zM308 523h1v1h-1zM294 515h1v1h-1zM293 526h1v1h-1zM305 508h1v1h-1zM310 511h1v1h-1zM289 526h1v1h-1zM304 537h1v1h-1zM291 522h1v1h-1zM299 518h1v1h-1zM312 528h1v1h-1zM312 515h1v1h-1zM292 528h1v1h-1zM306 536h1v1h-1zM293 523h1v1h-1zM299 516h1v1h-1zM297 518h1v1h-1zM305 527h1v1h-1zM294 524h1v1h-1zM295 540h1v1h-1zM292 526h1v1h-1zM309 526h1v1h-1zM296 537h1v1h-1zM305 536h1v1h-1zM302 540h1v1h-1zM288 521h1v1h-1zM302 542h1v1h-1zM303 535h1v1h-1zM297 537h1v1h-1zM296 532h1v1h-1zM308 519h1v1h-1zM294 535h1v1h-1zM292 514h1v1h-1zM295 519h1v1h-1zM307 536h1v1h-1zM293 536h1v1h-1zM300 539h1v1h-1zM299 539h1v1h-1zM298 538h1v1h-1zM298 514h1v1h-1zM299 533h1v1h-1zM306 526h1v1h-1zM301 543h1v1h-1zM292 534h1v1h-1zM297 539h1v1h-1zM305 514h1v1h-1zM308 528h1v1h-1zM304 534h1v1h-1zM291 536h1v1h-1zM295 537h1v1h-1zM293 518h1v1h-1zM295 515h1v1h-1zM296 539h1v1h-1zM308 535h1v1h-1zM299 534h1v1h-1zM294 537h1v1h-1zM307 538h1v1h-1zM305 537h1v1h-1zM290 520h1v1h-1zM308 524h1v1h-1zM302 514h1v1h-1zM310 529h1v1h-1zM292 522h1v1h-1zM304 533h1v1h-1zM295 524h1v1h-1zM298 537h1v1h-1zM294 522h1v1h-1zM296 531h1v1h-1zM293 520h1v1h-1zM303 516h1v1h-1zM301 512h1v1h-1zM295 513h1v1h-1zM297 517h1v1h-1zM312 527h1v1h-1zM302 535h1v1h-1zM297 544h1v1h-1zM344 486h1v1h-1zM347 503h1v1h-1zM326 494h1v1h-1zM328 497h1v1h-1zM325 497h1v1h-1zM349 506h1v1h-1zM338 470h1v1h-1zM346 503h1v1h-1zM326 507h1v1h-1zM334 490h1v1h-1zM335 481h1v1h-1zM333 479h1v1h-1zM329 485h1v1h-1zM326 505h1v1h-1zM350 492h1v1h-1zM336 485h1v1h-1zM329 475h1v1h-1zM317 490h1v1h-1zM340 474h1v1h-1zM334 504h1v1h-1zM345 485h1v1h-1zM331 493h1v1h-1zM329 474h1v1h-1zM327 503h1v1h-1zM330 510h1v1h-1zM341 481h1v1h-1zM350 505h1v1h-1zM328 501h1v1h-1zM344 481h1v1h-1zM345 501h1v1h-1zM343 512h1v1h-1zM329 487h1v1h-1zM325 502h1v1h-1zM341 505h1v1h-1zM344 511h1v1h-1zM337 488h1v1h-1zM315 490h1v1h-1zM323 481h1v1h-1zM341 482h1v1h-1zM346 523h1v1h-1zM326 487h1v1h-1zM334 477h1v1h-1zM339 483h1v1h-1zM331 487h1v1h-1zM352 485h1v1h-1zM335 494h1v1h-1zM353 491h1v1h-1zM344 485h1v1h-1zM330 502h1v1h-1zM351 494h1v1h-1zM321 499h1v1h-1zM331 474h1v1h-1zM340 490h1v1h-1zM318 492h1v1h-1zM334 479h1v1h-1zM339 480h1v1h-1zM324 500h1v1h-1zM323 486h1v1h-1zM336 493h1v1h-1zM325 483h1v1h-1zM336 492h1v1h-1zM345 488h1v1h-1zM335 496h1v1h-1zM343 503h1v1h-1zM343 472h1v1h-1zM328 480h1v1h-1zM307 485h1v1h-1zM339 484h1v1h-1zM316 504h1v1h-1zM313 496h1v1h-1zM349 508h1v1h-1zM329 482h1v1h-1zM341 504h1v1h-1zM320 481h1v1h-1zM330 501h1v1h-1zM340 473h1v1h-1zM319 503h1v1h-1zM337 479h1v1h-1zM344 498h1v1h-1zM343 500h1v1h-1zM335 495h1v1h-1zM323 500h1v1h-1zM330 474h1v1h-1zM321 479h1v1h-1zM340 496h1v1h-1zM330 498h1v1h-1zM350 486h1v1h-1zM343 471h1v1h-1zM335 479h1v1h-1zM345 511h1v1h-1zM321 488h1v1h-1zM343 505h1v1h-1zM340 481h1v1h-1zM345 502h1v1h-1zM348 508h1v1h-1zM349 490h1v1h-1zM341 503h1v1h-1zM343 479h1v1h-1zM345 507h1v1h-1zM340 500h1v1h-1zM345 524h1v1h-1zM331 501h1v1h-1zM332 481h1v1h-1zM340 475h1v1h-1zM329 514h1v1h-1zM336 505h1v1h-1zM340 485h1v1h-1zM322 496h1v1h-1zM338 487h1v1h-1zM323 492h1v1h-1zM333 478h1v1h-1zM342 490h1v1h-1zM343 507h1v1h-1zM329 492h1v1h-1zM320 490h1v1h-1zM344 513h1v1h-1zM350 507h1v1h-1zM326 488h1v1h-1zM342 511h1v1h-1zM322 501h1v1h-1zM350 506h1v1h-1zM320 507h1v1h-1zM325 480h1v1h-1zM344 502h1v1h-1zM330 489h1v1h-1zM337 505h1v1h-1zM345 505h1v1h-1zM328 495h1v1h-1zM332 482h1v1h-1zM323 474h1v1h-1zM334 500h1v1h-1zM345 518h1v1h-1zM337 475h1v1h-1zM340 491h1v1h-1zM341 513h1v1h-1zM328 487h1v1h-1zM338 474h1v1h-1zM340 493h1v1h-1zM330 482h1v1h-1zM348 497h1v1h-1zM322 490h1v1h-1zM342 498h1v1h-1zM324 492h1v1h-1zM321 515h1v1h-1zM335 507h1v1h-1zM322 481h1v1h-1zM332 488h1v1h-1zM319 473h1v1h-1zM339 476h1v1h-1zM339 487h1v1h-1zM326 498h1v1h-1zM318 498h1v1h-1zM338 476h1v1h-1zM344 504h1v1h-1zM337 524h1v1h-1zM327 492h1v1h-1zM327 475h1v1h-1zM343 476h1v1h-1zM330 472h1v1h-1zM322 494h1v1h-1zM333 490h1v1h-1zM342 495h1v1h-1zM323 502h1v1h-1zM315 502h1v1h-1zM322 488h1v1h-1zM315 478h1v1h-1zM342 518h1v1h-1zM346 486h1v1h-1zM350 495h1v1h-1zM325 491h1v1h-1zM330 486h1v1h-1zM333 472h1v1h-1zM341 484h1v1h-1zM356 495h1v1h-1zM327 491h1v1h-1zM330 488h1v1h-1zM355 508h1v1h-1zM326 508h1v1h-1zM330 481h1v1h-1zM330 507h1v1h-1zM326 502h1v1h-1zM340 484h1v1h-1zM325 479h1v1h-1zM329 491h1v1h-1zM340 483h1v1h-1zM335 485h1v1h-1zM340 486h1v1h-1zM347 500h1v1h-1zM325 488h1v1h-1zM322 493h1v1h-1zM326 492h1v1h-1zM343 488h1v1h-1zM326 499h1v1h-1zM335 517h1v1h-1zM332 503h1v1h-1zM325 489h1v1h-1zM347 487h1v1h-1zM328 504h1v1h-1zM339 499h1v1h-1zM356 488h1v1h-1zM329 493h1v1h-1zM343 475h1v1h-1zM326 503h1v1h-1zM336 487h1v1h-1zM347 502h1v1h-1zM323 497h1v1h-1zM337 508h1v1h-1zM338 489h1v1h-1zM337 499h1v1h-1zM322 498h1v1h-1zM326 506h1v1h-1zM346 502h1v1h-1zM344 489h1v1h-1zM343 514h1v1h-1zM343 516h1v1h-1zM317 503h1v1h-1zM339 510h1v1h-1zM335 505h1v1h-1zM334 501h1v1h-1zM330 485h1v1h-1zM341 502h1v1h-1zM339 514h1v1h-1zM326 489h1v1h-1zM338 493h1v1h-1zM350 491h1v1h-1zM344 503h1v1h-1zM329 506h1v1h-1zM335 503h1v1h-1zM331 496h1v1h-1zM330 520h1v1h-1zM332 494h1v1h-1zM320 496h1v1h-1zM348 492h1v1h-1zM346 506h1v1h-1zM334 472h1v1h-1zM354 491h1v1h-1zM338 496h1v1h-1zM348 483h1v1h-1zM352 492h1v1h-1zM343 473h1v1h-1zM348 488h1v1h-1zM347 493h1v1h-1zM315 495h1v1h-1zM333 494h1v1h-1zM344 493h1v1h-1zM324 494h1v1h-1zM316 481h1v1h-1zM348 493h1v1h-1zM333 477h1v1h-1zM337 486h1v1h-1zM322 480h1v1h-1zM323 499h1v1h-1zM344 500h1v1h-1zM332 487h1v1h-1zM348 501h1v1h-1zM320 491h1v1h-1zM352 501h1v1h-1zM333 497h1v1h-1zM333 489h1v1h-1zM340 494h1v1h-1zM347 480h1v1h-1zM346 507h1v1h-1zM344 512h1v1h-1zM337 489h1v1h-1zM312 497h1v1h-1zM319 486h1v1h-1zM342 493h1v1h-1zM341 493h1v1h-1zM319 487h1v1h-1zM339 486h1v1h-1zM345 492h1v1h-1zM334 478h1v1h-1zM332 499h1v1h-1zM323 505h1v1h-1zM341 474h1v1h-1zM347 508h1v1h-1zM331 505h1v1h-1zM345 506h1v1h-1zM328 492h1v1h-1zM343 504h1v1h-1zM340 487h1v1h-1zM332 490h1v1h-1zM322 500h1v1h-1zM335 482h1v1h-1zM341 511h1v1h-1zM348 503h1v1h-1zM339 504h1v1h-1zM336 501h1v1h-1zM328 511h1v1h-1zM334 508h1v1h-1zM346 489h1v1h-1zM336 483h1v1h-1zM338 479h1v1h-1zM336 482h1v1h-1zM332 480h1v1h-1zM308 495h1v1h-1zM337 507h1v1h-1zM338 515h1v1h-1zM324 503h1v1h-1zM334 482h1v1h-1zM330 495h1v1h-1zM355 504h1v1h-1zM328 508h1v1h-1zM327 490h1v1h-1zM342 500h1v1h-1zM327 486h1v1h-1zM318 479h1v1h-1zM341 487h1v1h-1zM342 520h1v1h-1zM339 500h1v1h-1zM341 510h1v1h-1zM328 486h1v1h-1zM339 493h1v1h-1zM343 510h1v1h-1zM354 499h1v1h-1zM324 509h1v1h-1zM344 501h1v1h-1zM323 488h1v1h-1zM323 491h1v1h-1zM336 475h1v1h-1zM338 490h1v1h-1zM324 496h1v1h-1zM337 478h1v1h-1zM335 483h1v1h-1zM335 480h1v1h-1zM320 505h1v1h-1zM340 504h1v1h-1zM350 493h1v1h-1zM321 497h1v1h-1zM344 494h1v1h-1zM349 505h1v1h-1zM327 509h1v1h-1zM334 494h1v1h-1zM325 482h1v1h-1zM323 511h1v1h-1zM346 483h1v1h-1zM348 479h1v1h-1zM344 491h1v1h-1zM349 493h1v1h-1zM326 480h1v1h-1zM325 493h1v1h-1zM328 483h1v1h-1zM347 479h1v1h-1zM328 499h1v1h-1zM331 507h1v1h-1zM346 500h1v1h-1zM330 503h1v1h-1zM335 487h1v1h-1zM335 502h1v1h-1zM351 505h1v1h-1zM345 493h1v1h-1zM318 488h1v1h-1zM347 477h1v1h-1zM312 488h1v1h-1zM345 495h1v1h-1zM322 485h1v1h-1zM325 500h1v1h-1zM340 479h1v1h-1zM319 485h1v1h-1zM348 491h1v1h-1zM341 486h1v1h-1zM332 486h1v1h-1zM343 481h1v1h-1zM346 509h1v1h-1zM336 497h1v1h-1zM337 477h1v1h-1zM323 495h1v1h-1zM347 491h1v1h-1zM330 499h1v1h-1zM329 486h1v1h-1zM333 511h1v1h-1zM346 488h1v1h-1zM324 507h1v1h-1zM344 495h1v1h-1zM328 484h1v1h-1zM326 483h1v1h-1zM321 500h1v1h-1zM320 493h1v1h-1zM337 501h1v1h-1zM321 490h1v1h-1zM341 532h1v1h-1zM341 521h1v1h-1zM339 507h1v1h-1zM338 510h1v1h-1zM339 519h1v1h-1zM343 517h1v1h-1zM342 512h1v1h-1zM334 518h1v1h-1zM322 520h1v1h-1zM349 515h1v1h-1zM347 522h1v1h-1zM344 523h1v1h-1zM347 512h1v1h-1zM325 506h1v1h-1zM332 510h1v1h-1zM338 524h1v1h-1zM331 526h1v1h-1zM328 524h1v1h-1zM329 535h1v1h-1zM351 515h1v1h-1zM325 530h1v1h-1zM326 501h1v1h-1zM332 517h1v1h-1zM337 515h1v1h-1zM332 524h1v1h-1zM338 535h1v1h-1zM359 504h1v1h-1zM342 521h1v1h-1zM333 514h1v1h-1zM313 511h1v1h-1zM334 532h1v1h-1zM330 508h1v1h-1zM330 517h1v1h-1zM345 514h1v1h-1zM346 515h1v1h-1zM350 511h1v1h-1zM353 514h1v1h-1zM329 511h1v1h-1zM315 517h1v1h-1zM338 517h1v1h-1zM346 524h1v1h-1zM340 510h1v1h-1zM340 527h1v1h-1zM343 521h1v1h-1zM330 523h1v1h-1zM346 516h1v1h-1zM347 527h1v1h-1zM323 540h1v1h-1zM342 513h1v1h-1zM344 508h1v1h-1zM341 518h1v1h-1zM329 529h1v1h-1zM346 508h1v1h-1zM325 512h1v1h-1zM317 525h1v1h-1zM339 528h1v1h-1zM329 517h1v1h-1zM338 529h1v1h-1zM326 527h1v1h-1zM323 506h1v1h-1zM344 530h1v1h-1zM321 516h1v1h-1zM318 510h1v1h-1zM330 516h1v1h-1zM335 515h1v1h-1zM339 531h1v1h-1zM335 529h1v1h-1zM321 524h1v1h-1zM340 512h1v1h-1zM333 512h1v1h-1zM333 520h1v1h-1zM326 532h1v1h-1zM346 517h1v1h-1zM326 512h1v1h-1zM348 530h1v1h-1zM329 522h1v1h-1zM349 525h1v1h-1zM326 528h1v1h-1zM344 519h1v1h-1zM343 509h1v1h-1zM330 536h1v1h-1zM325 528h1v1h-1zM346 538h1v1h-1zM341 523h1v1h-1zM343 515h1v1h-1zM327 538h1v1h-1zM338 532h1v1h-1zM343 530h1v1h-1zM334 515h1v1h-1zM336 521h1v1h-1zM320 510h1v1h-1zM350 522h1v1h-1zM331 514h1v1h-1zM327 518h1v1h-1zM343 513h1v1h-1zM344 525h1v1h-1zM337 510h1v1h-1zM327 532h1v1h-1zM334 529h1v1h-1zM351 521h1v1h-1zM347 514h1v1h-1zM332 529h1v1h-1zM345 522h1v1h-1zM330 526h1v1h-1zM328 528h1v1h-1zM335 522h1v1h-1zM325 539h1v1h-1zM335 508h1v1h-1zM330 534h1v1h-1zM334 509h1v1h-1zM341 525h1v1h-1zM335 525h1v1h-1zM324 513h1v1h-1zM328 514h1v1h-1zM323 527h1v1h-1zM326 522h1v1h-1zM343 529h1v1h-1zM324 516h1v1h-1zM327 508h1v1h-1zM336 537h1v1h-1zM323 510h1v1h-1zM335 533h1v1h-1zM327 515h1v1h-1zM348 529h1v1h-1zM336 530h1v1h-1zM337 534h1v1h-1zM338 523h1v1h-1zM338 502h1v1h-1zM319 517h1v1h-1zM321 523h1v1h-1zM340 525h1v1h-1zM351 519h1v1h-1zM344 518h1v1h-1zM332 534h1v1h-1zM335 526h1v1h-1zM322 537h1v1h-1zM334 513h1v1h-1zM325 507h1v1h-1zM358 530h1v1h-1zM351 537h1v1h-1zM321 504h1v1h-1zM341 527h1v1h-1zM340 518h1v1h-1zM343 527h1v1h-1zM330 513h1v1h-1zM329 519h1v1h-1zM323 523h1v1h-1zM332 528h1v1h-1zM312 511h1v1h-1zM311 512h1v1h-1zM345 508h1v1h-1zM341 519h1v1h-1zM347 510h1v1h-1zM334 523h1v1h-1zM353 515h1v1h-1zM346 529h1v1h-1zM347 523h1v1h-1zM354 512h1v1h-1zM335 531h1v1h-1zM340 532h1v1h-1zM323 529h1v1h-1zM319 523h1v1h-1zM335 527h1v1h-1zM354 519h1v1h-1zM325 525h1v1h-1zM331 503h1v1h-1zM330 515h1v1h-1zM358 524h1v1h-1zM333 517h1v1h-1zM352 521h1v1h-1zM345 512h1v1h-1zM351 526h1v1h-1zM328 530h1v1h-1zM343 506h1v1h-1zM330 539h1v1h-1zM333 529h1v1h-1zM336 533h1v1h-1zM323 526h1v1h-1zM336 535h1v1h-1zM318 509h1v1h-1zM345 513h1v1h-1zM330 518h1v1h-1zM336 509h1v1h-1zM350 513h1v1h-1zM345 529h1v1h-1zM328 527h1v1h-1zM327 513h1v1h-1zM336 518h1v1h-1zM337 516h1v1h-1zM316 528h1v1h-1zM339 529h1v1h-1zM317 517h1v1h-1zM338 512h1v1h-1zM352 506h1v1h-1zM352 508h1v1h-1zM336 526h1v1h-1zM322 517h1v1h-1zM333 530h1v1h-1zM345 528h1v1h-1zM336 528h1v1h-1zM334 530h1v1h-1zM332 523h1v1h-1zM318 501h1v1h-1zM350 516h1v1h-1zM341 524h1v1h-1zM342 524h1v1h-1zM321 526h1v1h-1zM339 527h1v1h-1zM327 517h1v1h-1zM317 526h1v1h-1zM332 515h1v1h-1zM331 532h1v1h-1zM343 518h1v1h-1zM332 526h1v1h-1zM340 534h1v1h-1zM332 507h1v1h-1zM334 521h1v1h-1zM342 510h1v1h-1zM346 522h1v1h-1zM328 532h1v1h-1zM330 514h1v1h-1zM319 529h1v1h-1zM348 519h1v1h-1zM313 514h1v1h-1zM347 519h1v1h-1zM347 513h1v1h-1zM327 539h1v1h-1zM319 513h1v1h-1zM316 518h1v1h-1zM324 523h1v1h-1zM295 521h1v1h-1zM303 508h1v1h-1zM330 530h1v1h-1zM314 519h1v1h-1zM311 519h1v1h-1zM312 518h1v1h-1zM316 535h1v1h-1zM318 539h1v1h-1zM309 518h1v1h-1zM308 531h1v1h-1zM312 525h1v1h-1zM314 520h1v1h-1zM316 539h1v1h-1zM313 515h1v1h-1zM313 531h1v1h-1zM317 533h1v1h-1zM301 508h1v1h-1zM312 516h1v1h-1zM323 520h1v1h-1zM314 534h1v1h-1zM302 541h1v1h-1zM331 525h1v1h-1zM317 534h1v1h-1zM305 546h1v1h-1zM313 519h1v1h-1zM321 512h1v1h-1zM309 533h1v1h-1zM319 518h1v1h-1zM323 533h1v1h-1zM317 516h1v1h-1zM325 533h1v1h-1zM319 510h1v1h-1zM292 530h1v1h-1zM313 508h1v1h-1zM294 508h1v1h-1zM305 543h1v1h-1zM316 531h1v1h-1zM321 519h1v1h-1zM302 517h1v1h-1zM318 530h1v1h-1zM318 515h1v1h-1zM326 510h1v1h-1zM311 531h1v1h-1zM329 528h1v1h-1zM320 536h1v1h-1zM330 531h1v1h-1zM321 525h1v1h-1zM313 517h1v1h-1zM302 509h1v1h-1zM313 527h1v1h-1zM309 502h1v1h-1zM352 520h1v1h-1zM302 511h1v1h-1zM314 512h1v1h-1zM304 505h1v1h-1zM322 538h1v1h-1zM310 517h1v1h-1zM317 537h1v1h-1zM322 533h1v1h-1zM299 510h1v1h-1zM309 509h1v1h-1zM317 536h1v1h-1zM317 524h1v1h-1zM319 515h1v1h-1zM324 508h1v1h-1zM315 529h1v1h-1zM320 519h1v1h-1zM320 508h1v1h-1zM313 523h1v1h-1zM303 510h1v1h-1zM315 508h1v1h-1zM307 514h1v1h-1zM316 496h1v1h-1zM314 530h1v1h-1zM308 533h1v1h-1zM322 503h1v1h-1zM306 531h1v1h-1zM312 509h1v1h-1zM321 532h1v1h-1zM314 535h1v1h-1zM323 534h1v1h-1zM318 528h1v1h-1zM329 532h1v1h-1zM309 511h1v1h-1zM326 541h1v1h-1zM315 536h1v1h-1zM315 533h1v1h-1zM310 510h1v1h-1zM310 527h1v1h-1zM318 513h1v1h-1zM311 510h1v1h-1zM311 540h1v1h-1zM322 522h1v1h-1zM307 511h1v1h-1zM306 509h1v1h-1zM306 525h1v1h-1zM307 518h1v1h-1zM316 515h1v1h-1zM308 508h1v1h-1zM317 515h1v1h-1zM334 527h1v1h-1zM318 531h1v1h-1zM296 519h1v1h-1zM314 524h1v1h-1zM307 531h1v1h-1zM317 531h1v1h-1zM318 511h1v1h-1zM315 531h1v1h-1zM318 512h1v1h-1zM318 514h1v1h-1zM309 523h1v1h-1zM320 529h1v1h-1zM308 521h1v1h-1zM306 533h1v1h-1zM305 515h1v1h-1zM316 513h1v1h-1zM307 505h1v1h-1zM303 537h1v1h-1zM314 536h1v1h-1zM316 527h1v1h-1zM327 521h1v1h-1zM314 521h1v1h-1zM304 509h1v1h-1zM320 509h1v1h-1zM312 506h1v1h-1zM300 513h1v1h-1zM311 513h1v1h-1zM312 534h1v1h-1zM313 536h1v1h-1zM309 528h1v1h-1zM319 524h1v1h-1zM317 532h1v1h-1zM322 535h1v1h-1zM301 509h1v1h-1zM309 535h1v1h-1zM305 511h1v1h-1zM306 520h1v1h-1zM317 518h1v1h-1zM303 539h1v1h-1zM326 529h1v1h-1zM333 527h1v1h-1zM305 510h1v1h-1zM309 519h1v1h-1zM315 522h1v1h-1zM321 509h1v1h-1zM313 518h1v1h-1zM312 510h1v1h-1zM319 520h1v1h-1zM323 531h1v1h-1zM324 532h1v1h-1zM313 534h1v1h-1zM311 526h1v1h-1zM309 537h1v1h-1zM317 519h1v1h-1zM314 511h1v1h-1zM316 519h1v1h-1zM321 528h1v1h-1zM322 529h1v1h-1zM327 522h1v1h-1zM305 542h1v1h-1zM314 525h1v1h-1zM303 540h1v1h-1zM313 535h1v1h-1zM304 536h1v1h-1zM320 515h1v1h-1zM313 532h1v1h-1zM310 536h1v1h-1zM312 541h1v1h-1zM297 515h1v1h-1zM306 512h1v1h-1zM303 493h1v1h-1zM292 507h1v1h-1zM316 505h1v1h-1zM319 493h1v1h-1zM300 490h1v1h-1zM296 504h1v1h-1zM305 480h1v1h-1zM300 478h1v1h-1zM321 489h1v1h-1zM302 502h1v1h-1zM300 502h1v1h-1zM307 493h1v1h-1zM315 500h1v1h-1zM321 496h1v1h-1zM304 507h1v1h-1zM295 504h1v1h-1zM321 492h1v1h-1zM305 505h1v1h-1zM300 493h1v1h-1zM306 486h1v1h-1zM321 485h1v1h-1zM302 508h1v1h-1zM308 483h1v1h-1zM299 489h1v1h-1zM306 502h1v1h-1zM297 493h1v1h-1zM297 476h1v1h-1zM297 503h1v1h-1zM323 514h1v1h-1zM300 479h1v1h-1zM295 502h1v1h-1zM298 484h1v1h-1zM311 496h1v1h-1zM307 510h1v1h-1zM300 501h1v1h-1zM315 499h1v1h-1zM308 502h1v1h-1zM314 499h1v1h-1zM296 510h1v1h-1zM287 506h1v1h-1zM304 503h1v1h-1zM305 477h1v1h-1zM304 496h1v1h-1zM301 501h1v1h-1zM310 500h1v1h-1zM313 502h1v1h-1zM313 506h1v1h-1zM313 501h1v1h-1zM322 507h1v1h-1zM314 493h1v1h-1zM311 498h1v1h-1zM300 508h1v1h-1zM313 481h1v1h-1zM324 491h1v1h-1zM307 504h1v1h-1zM295 495h1v1h-1zM304 485h1v1h-1zM297 496h1v1h-1zM317 477h1v1h-1zM298 501h1v1h-1zM318 486h1v1h-1zM325 504h1v1h-1zM310 484h1v1h-1zM300 480h1v1h-1zM298 486h1v1h-1zM315 491h1v1h-1zM303 472h1v1h-1zM300 496h1v1h-1zM298 505h1v1h-1zM302 488h1v1h-1zM304 498h1v1h-1zM309 484h1v1h-1zM323 496h1v1h-1zM290 507h1v1h-1zM313 484h1v1h-1zM318 508h1v1h-1zM299 491h1v1h-1zM290 486h1v1h-1zM299 492h1v1h-1zM294 509h1v1h-1zM299 502h1v1h-1zM295 475h1v1h-1zM299 495h1v1h-1zM312 495h1v1h-1zM304 489h1v1h-1zM312 498h1v1h-1zM298 503h1v1h-1zM308 493h1v1h-1zM310 493h1v1h-1zM287 500h1v1h-1zM299 498h1v1h-1zM294 498h1v1h-1zM294 505h1v1h-1zM308 494h1v1h-1zM305 504h1v1h-1zM296 491h1v1h-1zM310 506h1v1h-1zM294 490h1v1h-1zM298 488h1v1h-1zM314 496h1v1h-1zM305 486h1v1h-1zM296 511h1v1h-1zM303 506h1v1h-1zM304 484h1v1h-1zM298 491h1v1h-1zM296 496h1v1h-1zM294 519h1v1h-1zM297 484h1v1h-1zM287 536h1v1h-1zM287 532h1v1h-1zM287 509h1v1h-1zM287 519h1v1h-1zM287 545h1v1h-1zM287 540h1v1h-1zM287 537h1v1h-1zM287 517h1v1h-1zM287 516h1v1h-1zM287 544h1v1h-1zM287 522h1v1h-1zM287 512h1v1h-1zM287 524h1v1h-1zM287 503h1v1h-1zM287 498h1v1h-1zM287 523h1v1h-1zM287 496h1v1h-1zM304 546h1v1h-1zM313 546h1v1h-1zM298 546h1v1h-1zM306 546h1v1h-1zM294 546h1v1h-1zM302 546h1v1h-1zM292 546h1v1h-1zM312 546h1v1h-1zM309 546h1v1h-1zM296 546h1v1h-1zM291 546h1v1h-1z"/>
<path fill="#626262" d="M293 537h1v1h-1zM294 518h1v1h-1zM304 525h1v1h-1zM296 524h1v1h-1zM307 516h1v1h-1zM293 522h1v1h-1zM306 534h1v1h-1zM304 515h1v1h-1zM307 523h1v1h-1zM302 520h1v1h-1zM305 520h1v1h-1zM296 523h1v1h-1zM296 534h1v1h-1zM293 516h1v1h-1zM296 522h1v1h-1zM300 516h1v1h-1zM305 513h1v1h-1zM306 524h1v1h-1zM292 525h1v1h-1zM307 527h1v1h-1zM294 516h1v1h-1zM303 512h1v1h-1zM299 524h1v1h-1zM298 516h1v1h-1zM305 529h1v1h-1zM303 534h1v1h-1zM294 531h1v1h-1zM304 519h1v1h-1zM291 530h1v1h-1zM295 533h1v1h-1zM299 538h1v1h-1zM296 528h1v1h-1zM310 524h1v1h-1zM295 530h1v1h-1zM306 528h1v1h-1zM295 518h1v1h-1zM311 536h1v1h-1zM292 527h1v1h-1zM294 529h1v1h-1zM308 527h1v1h-1zM296 527h1v1h-1zM296 530h1v1h-1zM298 533h1v1h-1zM308 539h1v1h-1zM303 524h1v1h-1zM295 526h1v1h-1zM295 535h1v1h-1zM308 530h1v1h-1zM309 516h1v1h-1zM305 533h1v1h-1zM303 518h1v1h-1zM306 532h1v1h-1zM296 515h1v1h-1zM304 532h1v1h-1zM298 530h1v1h-1zM300 535h1v1h-1zM300 522h1v1h-1zM291 528h1v1h-1zM301 517h1v1h-1zM314 532h1v1h-1zM307 512h1v1h-1zM303 514h1v1h-1zM305 521h1v1h-1zM301 513h1v1h-1zM298 520h1v1h-1zM306 518h1v1h-1zM305 526h1v1h-1zM305 509h1v1h-1zM299 512h1v1h-1zM342 487h1v1h-1zM337 495h1v1h-1zM306 484h1v1h-1zM329 488h1v1h-1zM327 493h1v1h-1zM343 480h1v1h-1zM345 486h1v1h-1zM321 498h1v1h-1zM337 496h1v1h-1zM316 500h1v1h-1zM343 501h1v1h-1zM331 494h1v1h-1zM343 489h1v1h-1zM326 495h1v1h-1zM344 499h1v1h-1zM327 511h1v1h-1zM326 511h1v1h-1zM323 508h1v1h-1zM345 494h1v1h-1zM325 492h1v1h-1zM335 504h1v1h-1zM336 500h1v1h-1zM329 504h1v1h-1zM331 489h1v1h-1zM332 496h1v1h-1zM349 498h1v1h-1zM333 506h1v1h-1zM333 487h1v1h-1zM336 495h1v1h-1zM333 493h1v1h-1zM333 484h1v1h-1zM342 514h1v1h-1zM333 496h1v1h-1zM327 502h1v1h-1zM326 497h1v1h-1zM346 494h1v1h-1zM339 479h1v1h-1zM334 488h1v1h-1zM349 492h1v1h-1zM323 489h1v1h-1zM315 503h1v1h-1zM339 497h1v1h-1zM324 479h1v1h-1zM349 487h1v1h-1zM335 489h1v1h-1zM341 483h1v1h-1zM329 481h1v1h-1zM344 492h1v1h-1zM326 491h1v1h-1zM334 487h1v1h-1zM346 496h1v1h-1zM334 506h1v1h-1zM334 505h1v1h-1zM331 504h1v1h-1zM314 510h1v1h-1zM329 494h1v1h-1zM347 505h1v1h-1zM334 507h1v1h-1zM322 510h1v1h-1zM343 495h1v1h-1zM346 482h1v1h-1zM319 489h1v1h-1zM341 500h1v1h-1zM340 509h1v1h-1zM335 488h1v1h-1zM332 509h1v1h-1zM346 495h1v1h-1zM329 513h1v1h-1zM340 507h1v1h-1zM338 507h1v1h-1zM340 503h1v1h-1zM321 495h1v1h-1zM334 483h1v1h-1zM331 502h1v1h-1zM333 491h1v1h-1zM336 489h1v1h-1zM320 503h1v1h-1zM337 482h1v1h-1zM339 515h1v1h-1zM346 499h1v1h-1zM325 495h1v1h-1zM339 488h1v1h-1zM335 476h1v1h-1zM339 505h1v1h-1zM338 497h1v1h-1zM319 498h1v1h-1zM337 494h1v1h-1zM337 487h1v1h-1zM342 494h1v1h-1zM342 477h1v1h-1zM340 497h1v1h-1zM320 498h1v1h-1zM331 488h1v1h-1zM328 505h1v1h-1zM323 498h1v1h-1zM333 499h1v1h-1zM333 486h1v1h-1zM336 510h1v1h-1zM338 485h1v1h-1zM327 480h1v1h-1zM338 505h1v1h-1zM335 513h1v1h-1zM334 498h1v1h-1zM345 490h1v1h-1zM328 500h1v1h-1zM342 497h1v1h-1zM346 493h1v1h-1zM333 485h1v1h-1zM331 485h1v1h-1zM331 497h1v1h-1zM346 490h1v1h-1zM341 496h1v1h-1zM321 501h1v1h-1zM348 498h1v1h-1zM341 520h1v1h-1zM339 491h1v1h-1zM328 496h1v1h-1zM322 511h1v1h-1zM340 506h1v1h-1zM341 512h1v1h-1zM325 499h1v1h-1zM340 505h1v1h-1zM340 519h1v1h-1zM336 486h1v1h-1zM329 500h1v1h-1zM338 488h1v1h-1zM330 492h1v1h-1zM329 509h1v1h-1zM348 509h1v1h-1zM339 513h1v1h-1zM341 517h1v1h-1zM316 484h1v1h-1zM332 483h1v1h-1zM332 498h1v1h-1zM351 472h1v1h-1zM334 496h1v1h-1zM327 498h1v1h-1zM347 485h1v1h-1zM335 491h1v1h-1zM352 491h1v1h-1zM335 493h1v1h-1zM342 496h1v1h-1zM327 496h1v1h-1zM344 507h1v1h-1zM319 500h1v1h-1zM336 513h1v1h-1zM341 501h1v1h-1zM338 478h1v1h-1zM336 503h1v1h-1zM334 495h1v1h-1zM343 494h1v1h-1zM344 496h1v1h-1zM344 509h1v1h-1zM329 496h1v1h-1zM340 501h1v1h-1zM325 505h1v1h-1zM341 495h1v1h-1zM338 506h1v1h-1zM328 507h1v1h-1zM330 504h1v1h-1zM341 485h1v1h-1zM335 510h1v1h-1zM335 512h1v1h-1zM346 504h1v1h-1zM327 499h1v1h-1zM314 488h1v1h-1zM340 517h1v1h-1zM341 509h1v1h-1zM332 506h1v1h-1zM345 497h1v1h-1zM332 501h1v1h-1zM321 514h1v1h-1zM330 509h1v1h-1zM339 509h1v1h-1zM329 508h1v1h-1zM349 511h1v1h-1zM333 526h1v1h-1zM322 530h1v1h-1zM340 520h1v1h-1zM353 518h1v1h-1zM335 520h1v1h-1zM329 515h1v1h-1zM331 513h1v1h-1zM317 513h1v1h-1zM336 514h1v1h-1zM341 514h1v1h-1zM339 521h1v1h-1zM338 525h1v1h-1zM339 523h1v1h-1zM333 515h1v1h-1zM320 518h1v1h-1zM325 516h1v1h-1zM340 521h1v1h-1zM324 530h1v1h-1zM332 514h1v1h-1zM325 523h1v1h-1zM319 526h1v1h-1zM327 528h1v1h-1zM316 516h1v1h-1zM318 519h1v1h-1zM333 522h1v1h-1zM333 525h1v1h-1zM337 513h1v1h-1zM343 522h1v1h-1zM329 510h1v1h-1zM330 506h1v1h-1zM338 521h1v1h-1zM340 526h1v1h-1zM327 523h1v1h-1zM326 509h1v1h-1zM338 509h1v1h-1zM320 517h1v1h-1zM337 514h1v1h-1zM320 531h1v1h-1zM334 510h1v1h-1zM330 511h1v1h-1zM343 523h1v1h-1zM335 530h1v1h-1zM337 511h1v1h-1zM329 526h1v1h-1zM331 529h1v1h-1zM344 517h1v1h-1zM338 522h1v1h-1zM333 508h1v1h-1zM322 516h1v1h-1zM326 519h1v1h-1zM317 510h1v1h-1zM327 520h1v1h-1zM340 522h1v1h-1zM313 524h1v1h-1zM316 520h1v1h-1zM317 523h1v1h-1zM348 521h1v1h-1zM339 525h1v1h-1zM335 509h1v1h-1zM333 516h1v1h-1zM325 517h1v1h-1zM326 517h1v1h-1zM317 520h1v1h-1zM336 531h1v1h-1zM314 526h1v1h-1zM339 522h1v1h-1zM321 520h1v1h-1zM309 521h1v1h-1zM325 522h1v1h-1zM318 523h1v1h-1zM347 526h1v1h-1zM328 518h1v1h-1zM333 524h1v1h-1zM337 518h1v1h-1zM342 526h1v1h-1zM314 528h1v1h-1zM342 515h1v1h-1zM331 522h1v1h-1zM333 523h1v1h-1zM309 512h1v1h-1zM327 527h1v1h-1zM330 528h1v1h-1zM320 524h1v1h-1zM331 533h1v1h-1zM319 514h1v1h-1zM336 524h1v1h-1zM345 520h1v1h-1zM332 522h1v1h-1zM324 529h1v1h-1zM337 526h1v1h-1zM310 525h1v1h-1zM338 528h1v1h-1zM318 518h1v1h-1zM344 514h1v1h-1zM341 522h1v1h-1zM308 506h1v1h-1zM332 521h1v1h-1zM348 511h1v1h-1zM329 518h1v1h-1zM315 512h1v1h-1zM333 509h1v1h-1zM326 514h1v1h-1zM329 525h1v1h-1zM311 525h1v1h-1zM328 515h1v1h-1zM327 514h1v1h-1zM328 525h1v1h-1zM324 520h1v1h-1zM323 525h1v1h-1zM334 522h1v1h-1zM324 524h1v1h-1zM319 522h1v1h-1zM332 525h1v1h-1zM330 527h1v1h-1zM323 524h1v1h-1zM322 519h1v1h-1zM332 518h1v1h-1zM337 520h1v1h-1zM328 510h1v1h-1zM337 525h1v1h-1zM322 518h1v1h-1zM324 525h1v1h-1zM322 526h1v1h-1zM315 516h1v1h-1zM327 525h1v1h-1zM315 524h1v1h-1zM308 518h1v1h-1zM311 514h1v1h-1zM321 517h1v1h-1zM323 509h1v1h-1zM313 520h1v1h-1zM311 533h1v1h-1zM309 517h1v1h-1zM315 527h1v1h-1zM315 523h1v1h-1zM305 522h1v1h-1zM311 515h1v1h-1zM310 515h1v1h-1zM321 522h1v1h-1zM320 535h1v1h-1zM317 528h1v1h-1zM313 516h1v1h-1zM318 524h1v1h-1zM308 507h1v1h-1zM312 524h1v1h-1zM315 526h1v1h-1zM310 518h1v1h-1zM306 513h1v1h-1zM309 520h1v1h-1zM316 529h1v1h-1zM315 518h1v1h-1zM314 522h1v1h-1zM314 509h1v1h-1zM318 516h1v1h-1zM318 525h1v1h-1zM318 521h1v1h-1zM317 527h1v1h-1zM309 514h1v1h-1zM306 507h1v1h-1zM305 528h1v1h-1zM311 520h1v1h-1zM310 535h1v1h-1zM315 528h1v1h-1zM316 523h1v1h-1zM315 530h1v1h-1zM314 515h1v1h-1zM309 524h1v1h-1zM308 520h1v1h-1zM315 515h1v1h-1zM311 537h1v1h-1zM310 532h1v1h-1zM317 512h1v1h-1zM313 526h1v1h-1zM319 527h1v1h-1zM311 523h1v1h-1zM305 516h1v1h-1zM312 520h1v1h-1zM313 525h1v1h-1zM306 515h1v1h-1zM322 513h1v1h-1zM315 514h1v1h-1zM319 525h1v1h-1zM302 489h1v1h-1zM317 492h1v1h-1zM304 486h1v1h-1zM324 495h1v1h-1zM316 490h1v1h-1zM312 493h1v1h-1zM287 531h1v1h-1zM287 520h1v1h-1zM287 495h1v1h-1zM287 526h1v1h-1zM315 546h1v1h-1zM301 546h1v1h-1z"/>
<path fill="#383838" d="M304 531h1v1h-1zM293 530h1v1h-1zM297 535h1v1h-1zM298 521h1v1h-1zM298 534h1v1h-1zM299 515h1v1h-1zM295 522h1v1h-1zM296 529h1v1h-1zM295 534h1v1h-1zM304 539h1v1h-1zM292 529h1v1h-1zM303 521h1v1h-1zM293 524h1v1h-1zM299 531h1v1h-1zM304 535h1v1h-1zM299 530h1v1h-1zM301 515h1v1h-1zM299 537h1v1h-1zM300 537h1v1h-1zM309 530h1v1h-1zM300 530h1v1h-1zM300 533h1v1h-1zM307 521h1v1h-1zM295 523h1v1h-1zM299 532h1v1h-1zM296 536h1v1h-1zM298 528h1v1h-1zM301 519h1v1h-1zM303 520h1v1h-1zM297 531h1v1h-1zM295 529h1v1h-1zM294 523h1v1h-1zM300 523h1v1h-1zM293 525h1v1h-1zM302 518h1v1h-1zM301 516h1v1h-1zM300 534h1v1h-1zM297 533h1v1h-1zM304 518h1v1h-1zM308 526h1v1h-1zM300 536h1v1h-1zM298 518h1v1h-1zM297 519h1v1h-1zM295 520h1v1h-1zM311 518h1v1h-1zM300 521h1v1h-1zM301 531h1v1h-1zM305 518h1v1h-1zM296 533h1v1h-1zM307 530h1v1h-1zM306 523h1v1h-1zM308 522h1v1h-1zM302 516h1v1h-1zM307 535h1v1h-1zM311 524h1v1h-1zM299 521h1v1h-1zM301 537h1v1h-1zM298 536h1v1h-1zM306 521h1v1h-1zM304 514h1v1h-1zM302 513h1v1h-1zM293 528h1v1h-1zM327 504h1v1h-1zM326 496h1v1h-1zM341 507h1v1h-1zM337 490h1v1h-1zM338 513h1v1h-1zM334 484h1v1h-1zM342 501h1v1h-1zM332 497h1v1h-1zM330 500h1v1h-1zM330 496h1v1h-1zM337 504h1v1h-1zM328 498h1v1h-1zM329 512h1v1h-1zM341 508h1v1h-1zM324 501h1v1h-1zM326 504h1v1h-1zM341 494h1v1h-1zM340 499h1v1h-1zM338 504h1v1h-1zM342 503h1v1h-1zM337 497h1v1h-1zM340 492h1v1h-1zM343 497h1v1h-1zM329 495h1v1h-1zM331 506h1v1h-1zM325 514h1v1h-1zM331 486h1v1h-1zM335 499h1v1h-1zM345 519h1v1h-1zM333 495h1v1h-1zM325 490h1v1h-1zM342 481h1v1h-1zM335 486h1v1h-1zM332 505h1v1h-1zM334 499h1v1h-1zM338 503h1v1h-1zM334 493h1v1h-1zM340 482h1v1h-1zM346 485h1v1h-1zM329 502h1v1h-1zM329 497h1v1h-1zM326 490h1v1h-1zM338 514h1v1h-1zM338 500h1v1h-1zM334 503h1v1h-1zM333 483h1v1h-1zM327 505h1v1h-1zM328 509h1v1h-1zM339 489h1v1h-1zM328 488h1v1h-1zM336 490h1v1h-1zM328 494h1v1h-1zM324 486h1v1h-1zM327 500h1v1h-1zM336 508h1v1h-1zM338 484h1v1h-1zM329 501h1v1h-1zM336 504h1v1h-1zM339 495h1v1h-1zM325 501h1v1h-1zM337 512h1v1h-1zM328 493h1v1h-1zM334 511h1v1h-1zM332 492h1v1h-1zM327 489h1v1h-1zM320 514h1v1h-1zM326 493h1v1h-1zM321 513h1v1h-1zM342 483h1v1h-1zM337 498h1v1h-1zM340 514h1v1h-1zM335 516h1v1h-1zM339 490h1v1h-1zM338 495h1v1h-1zM336 511h1v1h-1zM337 503h1v1h-1zM339 508h1v1h-1zM336 491h1v1h-1zM327 510h1v1h-1zM334 492h1v1h-1zM333 498h1v1h-1zM314 507h1v1h-1zM342 508h1v1h-1zM323 487h1v1h-1zM336 507h1v1h-1zM342 507h1v1h-1zM342 516h1v1h-1zM324 504h1v1h-1zM341 515h1v1h-1zM338 508h1v1h-1zM334 512h1v1h-1zM338 527h1v1h-1zM343 519h1v1h-1zM336 523h1v1h-1zM313 513h1v1h-1zM330 519h1v1h-1zM335 523h1v1h-1zM327 519h1v1h-1zM339 526h1v1h-1zM337 509h1v1h-1zM343 520h1v1h-1zM328 513h1v1h-1zM329 521h1v1h-1zM334 525h1v1h-1zM335 511h1v1h-1zM323 515h1v1h-1zM319 516h1v1h-1zM311 521h1v1h-1zM326 524h1v1h-1zM328 526h1v1h-1zM335 519h1v1h-1zM338 526h1v1h-1zM313 522h1v1h-1zM326 521h1v1h-1zM322 515h1v1h-1zM325 518h1v1h-1zM338 520h1v1h-1zM332 520h1v1h-1zM332 527h1v1h-1zM325 519h1v1h-1zM326 523h1v1h-1zM344 516h1v1h-1zM324 522h1v1h-1zM320 516h1v1h-1zM337 521h1v1h-1zM339 524h1v1h-1zM331 520h1v1h-1zM336 522h1v1h-1zM336 517h1v1h-1zM321 527h1v1h-1zM314 523h1v1h-1zM335 524h1v1h-1zM321 521h1v1h-1zM334 519h1v1h-1zM327 526h1v1h-1zM323 516h1v1h-1zM322 528h1v1h-1zM331 509h1v1h-1zM320 520h1v1h-1zM334 526h1v1h-1zM338 519h1v1h-1zM346 521h1v1h-1zM336 529h1v1h-1zM322 514h1v1h-1zM337 523h1v1h-1zM345 523h1v1h-1zM346 519h1v1h-1zM324 517h1v1h-1zM326 525h1v1h-1zM336 519h1v1h-1zM317 514h1v1h-1zM329 523h1v1h-1zM328 521h1v1h-1zM325 515h1v1h-1zM304 513h1v1h-1zM324 518h1v1h-1zM323 521h1v1h-1zM315 519h1v1h-1zM306 519h1v1h-1zM324 526h1v1h-1zM328 512h1v1h-1zM316 522h1v1h-1zM324 521h1v1h-1zM334 524h1v1h-1zM330 522h1v1h-1zM312 517h1v1h-1zM318 517h1v1h-1zM306 522h1v1h-1zM312 522h1v1h-1zM310 521h1v1h-1zM309 522h1v1h-1zM315 521h1v1h-1zM319 533h1v1h-1zM312 523h1v1h-1zM318 526h1v1h-1zM307 519h1v1h-1zM312 531h1v1h-1zM309 527h1v1h-1zM311 527h1v1h-1zM320 522h1v1h-1zM315 525h1v1h-1zM313 521h1v1h-1zM313 528h1v1h-1zM306 516h1v1h-1zM310 546h1v1h-1zM297 546h1v1h-1z"/>
<path fill="#151515" d="M299 522h1v1h-1zM303 527h1v1h-1zM297 522h1v1h-1zM303 528h1v1h-1zM300 526h1v1h-1zM306 530h1v1h-1zM304 526h1v1h-1zM296 517h1v1h-1zM301 518h1v1h-1zM301 530h1v1h-1zM296 526h1v1h-1zM302 534h1v1h-1zM302 524h1v1h-1zM297 530h1v1h-1zM303 525h1v1h-1zM301 520h1v1h-1zM298 522h1v1h-1zM302 523h1v1h-1zM298 524h1v1h-1zM302 526h1v1h-1zM294 521h1v1h-1zM302 532h1v1h-1zM306 527h1v1h-1zM308 529h1v1h-1zM299 523h1v1h-1zM301 534h1v1h-1zM305 530h1v1h-1zM299 525h1v1h-1zM299 520h1v1h-1zM302 528h1v1h-1zM300 524h1v1h-1zM301 525h1v1h-1zM304 527h1v1h-1zM297 529h1v1h-1zM304 523h1v1h-1zM297 526h1v1h-1zM297 528h1v1h-1zM298 519h1v1h-1zM302 521h1v1h-1zM303 530h1v1h-1zM301 532h1v1h-1zM297 520h1v1h-1zM301 521h1v1h-1zM301 533h1v1h-1zM304 524h1v1h-1zM303 536h1v1h-1zM300 519h1v1h-1zM302 529h1v1h-1zM303 517h1v1h-1zM300 528h1v1h-1zM304 517h1v1h-1zM304 522h1v1h-1zM297 521h1v1h-1zM294 527h1v1h-1zM303 533h1v1h-1zM304 528h1v1h-1zM300 527h1v1h-1zM299 527h1v1h-1zM304 529h1v1h-1zM302 527h1v1h-1zM300 531h1v1h-1zM297 525h1v1h-1zM300 520h1v1h-1zM296 525h1v1h-1zM294 528h1v1h-1zM307 528h1v1h-1zM302 530h1v1h-1zM295 527h1v1h-1zM301 528h1v1h-1zM298 525h1v1h-1zM301 523h1v1h-1zM301 522h1v1h-1zM301 526h1v1h-1zM302 522h1v1h-1zM298 526h1v1h-1zM300 525h1v1h-1zM298 517h1v1h-1zM302 533h1v1h-1zM298 535h1v1h-1zM298 529h1v1h-1zM295 525h1v1h-1zM304 521h1v1h-1zM303 522h1v1h-1zM302 525h1v1h-1zM307 525h1v1h-1zM301 529h1v1h-1zM299 528h1v1h-1zM306 529h1v1h-1zM311 522h1v1h-1zM298 531h1v1h-1zM303 529h1v1h-1zM297 527h1v1h-1zM300 532h1v1h-1zM296 521h1v1h-1zM303 526h1v1h-1zM299 529h1v1h-1zM302 519h1v1h-1zM303 523h1v1h-1zM298 523h1v1h-1zM303 532h1v1h-1zM305 531h1v1h-1zM295 528h1v1h-1zM302 531h1v1h-1zM298 527h1v1h-1zM300 529h1v1h-1zM310 522h1v1h-1zM297 532h1v1h-1zM297 524h1v1h-1zM301 524h1v1h-1zM305 525h1v1h-1zM295 531h1v1h-1zM300 518h1v1h-1zM307 522h1v1h-1zM303 531h1v1h-1zM305 524h1v1h-1zM307 529h1v1h-1zM298 532h1v1h-1zM294 526h1v1h-1zM307 520h1v1h-1zM299 519h1v1h-1zM301 536h1v1h-1zM300 515h1v1h-1zM305 523h1v1h-1zM299 526h1v1h-1zM304 520h1v1h-1zM305 532h1v1h-1zM301 527h1v1h-1zM335 498h1v1h-1zM338 516h1v1h-1zM330 493h1v1h-1zM339 492h1v1h-1zM337 493h1v1h-1zM336 496h1v1h-1zM327 507h1v1h-1zM332 502h1v1h-1zM341 492h1v1h-1zM328 517h1v1h-1zM339 506h1v1h-1zM331 492h1v1h-1zM338 486h1v1h-1zM324 515h1v1h-1zM343 502h1v1h-1zM342 499h1v1h-1zM332 500h1v1h-1zM334 502h1v1h-1zM339 502h1v1h-1zM336 502h1v1h-1zM340 498h1v1h-1zM339 501h1v1h-1zM332 491h1v1h-1zM341 499h1v1h-1zM332 489h1v1h-1zM333 513h1v1h-1zM330 512h1v1h-1zM338 494h1v1h-1zM342 502h1v1h-1zM336 506h1v1h-1zM333 505h1v1h-1zM335 484h1v1h-1zM335 490h1v1h-1zM331 516h1v1h-1zM327 497h1v1h-1zM340 508h1v1h-1zM331 511h1v1h-1zM333 518h1v1h-1zM333 501h1v1h-1zM324 514h1v1h-1zM338 499h1v1h-1zM330 491h1v1h-1zM336 515h1v1h-1zM328 516h1v1h-1zM333 510h1v1h-1zM336 488h1v1h-1zM337 517h1v1h-1zM328 503h1v1h-1zM329 516h1v1h-1zM334 516h1v1h-1zM336 516h1v1h-1zM334 514h1v1h-1zM337 519h1v1h-1zM331 517h1v1h-1zM327 516h1v1h-1zM325 526h1v1h-1zM322 523h1v1h-1zM340 523h1v1h-1zM329 524h1v1h-1zM324 519h1v1h-1zM323 517h1v1h-1zM332 519h1v1h-1zM333 521h1v1h-1zM331 518h1v1h-1zM317 530h1v1h-1zM331 515h1v1h-1zM337 527h1v1h-1zM335 521h1v1h-1zM334 520h1v1h-1zM332 511h1v1h-1zM326 520h1v1h-1zM337 522h1v1h-1zM317 521h1v1h-1zM319 530h1v1h-1zM329 520h1v1h-1zM321 518h1v1h-1zM331 521h1v1h-1zM343 524h1v1h-1zM328 522h1v1h-1zM318 520h1v1h-1zM330 521h1v1h-1zM325 521h1v1h-1zM339 516h1v1h-1zM312 519h1v1h-1zM326 518h1v1h-1zM316 521h1v1h-1zM320 525h1v1h-1zM326 516h1v1h-1zM325 524h1v1h-1zM312 521h1v1h-1zM320 526h1v1h-1zM311 529h1v1h-1zM308 516h1v1h-1zM320 523h1v1h-1zM308 546h1v1h-1z"/>
</g>
<rect x="285.9" y="469.0" width="78.3" height="79.0" fill="none" stroke="#b4b4b4" stroke-width="0.9"/>
<rect x="319.3" y="473.9" width="37.5" height="73.3" fill="none" stroke="#000" stroke-width="2"/>
<line x1="319.30" y1="510.00" x2="356.80" y2="510.00" stroke="#000" stroke-width="2"/>
<text x="291.20" y="483.00" font-size="11.3">25%</text>
<text x="354.40" y="545.60" font-size="11.3" text-anchor="end">31%</text>
<text x="325.70" y="454.40" font-size="11" text-anchor="middle">Cbfβ</text>
<text x="325.70" y="466.00" font-size="11" text-anchor="middle">(187aa)</text>
<g class="tk" font-size="5.3" fill="#222"><text x="299.2" y="556.4">0</text><text x="303.2" y="556.4">10<tspan dy="-2.2" font-size="3.8">2</tspan></text><text x="322.1" y="556.4">10<tspan dy="-2.2" font-size="3.8">3</tspan></text><text x="339.1" y="556.4">10<tspan dy="-2.2" font-size="3.8">4</tspan></text><text x="353.8" y="556.4">10<tspan dy="-2.2" font-size="3.8">5</tspan></text></g>
<g filter="url(#fb)">
<path fill="#949494" d="M384 532h1v1h-1zM376 524h1v1h-1zM380 505h1v1h-1zM376 522h1v1h-1zM382 530h1v1h-1zM381 505h1v1h-1zM380 529h1v1h-1zM384 511h1v1h-1zM384 530h1v1h-1zM376 526h1v1h-1zM379 505h1v1h-1zM378 527h1v1h-1zM372 512h1v1h-1zM380 525h1v1h-1zM372 510h1v1h-1zM374 521h1v1h-1zM385 529h1v1h-1zM386 529h1v1h-1zM378 530h1v1h-1zM384 513h1v1h-1zM373 522h1v1h-1zM384 525h1v1h-1zM383 532h1v1h-1zM376 509h1v1h-1zM382 506h1v1h-1zM383 533h1v1h-1zM382 508h1v1h-1zM376 514h1v1h-1zM376 513h1v1h-1zM380 509h1v1h-1zM380 530h1v1h-1zM376 533h1v1h-1zM386 514h1v1h-1zM381 532h1v1h-1zM386 523h1v1h-1zM375 526h1v1h-1zM385 531h1v1h-1zM385 522h1v1h-1zM378 510h1v1h-1zM381 509h1v1h-1zM377 514h1v1h-1zM386 516h1v1h-1zM374 514h1v1h-1zM381 535h1v1h-1zM375 525h1v1h-1zM383 509h1v1h-1zM378 509h1v1h-1zM375 520h1v1h-1zM383 510h1v1h-1zM386 510h1v1h-1zM377 533h1v1h-1zM380 506h1v1h-1zM377 505h1v1h-1zM385 528h1v1h-1zM382 532h1v1h-1zM379 535h1v1h-1zM373 519h1v1h-1zM385 526h1v1h-1zM375 522h1v1h-1zM374 526h1v1h-1zM387 514h1v1h-1zM378 514h1v1h-1zM382 531h1v1h-1zM380 536h1v1h-1zM374 520h1v1h-1zM379 500h1v1h-1zM381 511h1v1h-1zM377 511h1v1h-1zM387 526h1v1h-1zM373 525h1v1h-1zM379 514h1v1h-1zM385 525h1v1h-1zM384 529h1v1h-1zM378 511h1v1h-1zM372 526h1v1h-1zM373 523h1v1h-1zM381 534h1v1h-1zM388 525h1v1h-1zM391 513h1v1h-1zM397 522h1v1h-1zM393 513h1v1h-1zM390 511h1v1h-1zM388 517h1v1h-1zM394 529h1v1h-1zM388 527h1v1h-1zM392 525h1v1h-1zM386 526h1v1h-1zM389 519h1v1h-1zM378 502h1v1h-1zM390 508h1v1h-1zM389 501h1v1h-1zM394 522h1v1h-1zM389 523h1v1h-1zM397 521h1v1h-1zM396 516h1v1h-1zM390 510h1v1h-1zM383 505h1v1h-1zM392 513h1v1h-1zM384 505h1v1h-1zM395 507h1v1h-1zM385 505h1v1h-1zM391 527h1v1h-1zM390 529h1v1h-1zM376 503h1v1h-1zM400 518h1v1h-1zM391 524h1v1h-1zM386 524h1v1h-1zM394 518h1v1h-1zM390 519h1v1h-1zM395 520h1v1h-1zM396 527h1v1h-1zM386 503h1v1h-1zM404 521h1v1h-1zM399 526h1v1h-1zM391 522h1v1h-1zM387 531h1v1h-1zM396 513h1v1h-1zM388 526h1v1h-1zM388 522h1v1h-1zM395 523h1v1h-1zM388 530h1v1h-1zM385 511h1v1h-1zM392 517h1v1h-1zM390 520h1v1h-1zM385 515h1v1h-1zM393 527h1v1h-1zM384 503h1v1h-1zM398 521h1v1h-1zM386 519h1v1h-1zM397 520h1v1h-1zM399 521h1v1h-1zM397 511h1v1h-1zM395 525h1v1h-1zM400 511h1v1h-1zM398 512h1v1h-1zM388 531h1v1h-1zM398 517h1v1h-1zM390 526h1v1h-1zM390 513h1v1h-1zM391 516h1v1h-1zM387 513h1v1h-1zM383 501h1v1h-1zM391 520h1v1h-1zM387 525h1v1h-1zM391 528h1v1h-1zM388 514h1v1h-1zM395 524h1v1h-1zM389 517h1v1h-1zM409 500h1v1h-1zM391 517h1v1h-1zM393 519h1v1h-1zM395 506h1v1h-1zM389 534h1v1h-1zM389 514h1v1h-1zM392 523h1v1h-1zM389 513h1v1h-1zM398 508h1v1h-1zM392 521h1v1h-1zM388 521h1v1h-1zM385 501h1v1h-1zM386 501h1v1h-1zM395 513h1v1h-1zM388 534h1v1h-1zM395 515h1v1h-1zM390 517h1v1h-1zM388 520h1v1h-1zM374 517h1v1h-1zM396 526h1v1h-1zM386 525h1v1h-1zM396 525h1v1h-1zM388 510h1v1h-1zM389 521h1v1h-1zM398 525h1v1h-1zM383 506h1v1h-1zM385 518h1v1h-1zM414 523h1v1h-1zM410 509h1v1h-1zM404 498h1v1h-1zM413 526h1v1h-1zM393 528h1v1h-1zM410 516h1v1h-1zM398 518h1v1h-1zM404 505h1v1h-1zM410 511h1v1h-1zM408 514h1v1h-1zM416 517h1v1h-1zM397 532h1v1h-1zM404 516h1v1h-1zM419 518h1v1h-1zM405 521h1v1h-1zM397 517h1v1h-1zM408 519h1v1h-1zM406 519h1v1h-1zM405 510h1v1h-1zM406 511h1v1h-1zM403 517h1v1h-1zM407 522h1v1h-1zM404 527h1v1h-1zM399 522h1v1h-1zM409 508h1v1h-1zM407 526h1v1h-1zM401 518h1v1h-1zM418 519h1v1h-1zM407 530h1v1h-1zM399 511h1v1h-1zM411 521h1v1h-1zM413 523h1v1h-1zM411 511h1v1h-1zM404 514h1v1h-1zM411 516h1v1h-1zM407 517h1v1h-1zM408 528h1v1h-1zM396 512h1v1h-1zM411 517h1v1h-1zM406 522h1v1h-1zM420 512h1v1h-1zM394 519h1v1h-1zM404 517h1v1h-1zM405 530h1v1h-1zM395 518h1v1h-1zM413 522h1v1h-1zM406 525h1v1h-1zM404 510h1v1h-1zM412 510h1v1h-1zM411 512h1v1h-1zM401 517h1v1h-1zM417 524h1v1h-1zM387 503h1v1h-1zM385 492h1v1h-1zM393 505h1v1h-1zM381 489h1v1h-1zM386 508h1v1h-1zM390 502h1v1h-1zM376 487h1v1h-1zM385 500h1v1h-1zM374 503h1v1h-1zM384 484h1v1h-1zM404 518h1v1h-1zM389 511h1v1h-1zM386 509h1v1h-1zM388 509h1v1h-1zM390 496h1v1h-1zM375 510h1v1h-1zM381 488h1v1h-1zM380 511h1v1h-1zM395 511h1v1h-1zM372 491h1v1h-1zM384 477h1v1h-1zM388 501h1v1h-1zM388 489h1v1h-1zM374 488h1v1h-1zM392 487h1v1h-1zM384 494h1v1h-1zM383 497h1v1h-1zM381 496h1v1h-1zM394 490h1v1h-1zM385 484h1v1h-1zM384 491h1v1h-1zM365 545h1v1h-1zM365 522h1v1h-1zM365 528h1v1h-1zM365 513h1v1h-1zM365 502h1v1h-1zM365 542h1v1h-1zM365 515h1v1h-1zM365 518h1v1h-1zM365 506h1v1h-1zM365 501h1v1h-1zM365 530h1v1h-1zM365 538h1v1h-1zM365 495h1v1h-1zM377 546h1v1h-1zM379 546h1v1h-1zM384 546h1v1h-1zM380 546h1v1h-1zM372 546h1v1h-1zM394 546h1v1h-1zM382 546h1v1h-1zM374 546h1v1h-1zM373 546h1v1h-1zM386 546h1v1h-1zM381 546h1v1h-1zM383 546h1v1h-1zM391 546h1v1h-1zM371 546h1v1h-1zM388 546h1v1h-1z"/>
<path fill="#626262" d="M379 511h1v1h-1zM378 518h1v1h-1zM375 515h1v1h-1zM377 528h1v1h-1zM374 518h1v1h-1zM386 517h1v1h-1zM386 522h1v1h-1zM380 512h1v1h-1zM384 528h1v1h-1zM376 521h1v1h-1zM377 527h1v1h-1zM383 513h1v1h-1zM386 512h1v1h-1zM379 528h1v1h-1zM381 531h1v1h-1zM376 518h1v1h-1zM384 531h1v1h-1zM384 510h1v1h-1zM387 519h1v1h-1zM375 518h1v1h-1zM382 520h1v1h-1zM378 531h1v1h-1zM383 526h1v1h-1zM385 510h1v1h-1zM378 515h1v1h-1zM383 529h1v1h-1zM387 524h1v1h-1zM382 529h1v1h-1zM374 513h1v1h-1zM381 510h1v1h-1zM383 530h1v1h-1zM380 531h1v1h-1zM377 524h1v1h-1zM382 510h1v1h-1zM375 524h1v1h-1zM376 525h1v1h-1zM385 503h1v1h-1zM387 523h1v1h-1zM384 512h1v1h-1zM385 524h1v1h-1zM384 526h1v1h-1zM381 506h1v1h-1zM385 519h1v1h-1zM380 508h1v1h-1zM386 507h1v1h-1zM376 517h1v1h-1zM382 511h1v1h-1zM396 517h1v1h-1zM387 532h1v1h-1zM399 516h1v1h-1zM387 529h1v1h-1zM392 526h1v1h-1zM393 523h1v1h-1zM391 518h1v1h-1zM396 523h1v1h-1zM394 513h1v1h-1zM387 515h1v1h-1zM396 520h1v1h-1zM390 514h1v1h-1zM393 506h1v1h-1zM396 518h1v1h-1zM393 520h1v1h-1zM398 523h1v1h-1zM394 524h1v1h-1zM390 521h1v1h-1zM386 520h1v1h-1zM389 515h1v1h-1zM411 507h1v1h-1zM365 541h1v1h-1zM365 497h1v1h-1zM365 526h1v1h-1zM393 546h1v1h-1zM375 546h1v1h-1z"/>
<path fill="#383838" d="M383 512h1v1h-1zM386 518h1v1h-1zM376 516h1v1h-1zM382 509h1v1h-1zM381 512h1v1h-1zM385 523h1v1h-1zM381 527h1v1h-1zM379 530h1v1h-1zM377 513h1v1h-1zM378 529h1v1h-1zM384 527h1v1h-1zM381 529h1v1h-1zM378 517h1v1h-1zM385 527h1v1h-1zM385 513h1v1h-1zM378 513h1v1h-1zM385 517h1v1h-1zM378 526h1v1h-1zM390 515h1v1h-1zM378 525h1v1h-1zM377 526h1v1h-1zM383 528h1v1h-1zM379 523h1v1h-1zM388 518h1v1h-1zM385 520h1v1h-1zM379 526h1v1h-1zM379 531h1v1h-1zM386 521h1v1h-1zM383 515h1v1h-1zM380 528h1v1h-1zM385 521h1v1h-1zM386 528h1v1h-1zM381 513h1v1h-1zM379 516h1v1h-1zM387 518h1v1h-1zM379 510h1v1h-1zM383 514h1v1h-1zM383 511h1v1h-1zM394 511h1v1h-1zM386 515h1v1h-1zM393 517h1v1h-1zM393 516h1v1h-1zM390 525h1v1h-1zM387 517h1v1h-1zM365 509h1v1h-1zM365 523h1v1h-1zM392 546h1v1h-1zM387 546h1v1h-1z"/>
<path fill="#151515" d="M382 515h1v1h-1zM381 518h1v1h-1zM382 518h1v1h-1zM381 515h1v1h-1zM380 522h1v1h-1zM379 518h1v1h-1zM383 527h1v1h-1zM380 519h1v1h-1zM380 527h1v1h-1zM377 516h1v1h-1zM382 521h1v1h-1zM384 515h1v1h-1zM384 524h1v1h-1zM382 519h1v1h-1zM383 518h1v1h-1zM379 522h1v1h-1zM384 518h1v1h-1zM377 519h1v1h-1zM379 525h1v1h-1zM378 519h1v1h-1zM382 525h1v1h-1zM382 516h1v1h-1zM377 522h1v1h-1zM383 516h1v1h-1zM381 520h1v1h-1zM378 524h1v1h-1zM378 520h1v1h-1zM380 517h1v1h-1zM380 514h1v1h-1zM384 520h1v1h-1zM381 525h1v1h-1zM380 526h1v1h-1zM379 515h1v1h-1zM380 524h1v1h-1zM385 516h1v1h-1zM381 522h1v1h-1zM382 522h1v1h-1zM377 520h1v1h-1zM383 521h1v1h-1zM380 521h1v1h-1zM383 522h1v1h-1zM381 519h1v1h-1zM377 525h1v1h-1zM379 512h1v1h-1zM379 527h1v1h-1zM384 514h1v1h-1zM380 523h1v1h-1zM379 519h1v1h-1zM379 521h1v1h-1zM383 517h1v1h-1zM381 526h1v1h-1zM382 524h1v1h-1zM382 512h1v1h-1zM379 517h1v1h-1zM380 520h1v1h-1zM380 515h1v1h-1zM380 513h1v1h-1zM381 524h1v1h-1zM382 527h1v1h-1zM381 523h1v1h-1zM379 524h1v1h-1zM377 518h1v1h-1zM384 521h1v1h-1zM379 529h1v1h-1zM381 514h1v1h-1zM383 525h1v1h-1zM380 510h1v1h-1zM380 518h1v1h-1zM376 523h1v1h-1zM381 517h1v1h-1zM382 513h1v1h-1zM382 526h1v1h-1zM379 513h1v1h-1zM384 519h1v1h-1zM382 514h1v1h-1zM383 520h1v1h-1zM384 517h1v1h-1zM383 519h1v1h-1zM380 516h1v1h-1zM382 528h1v1h-1zM378 523h1v1h-1zM384 516h1v1h-1zM376 519h1v1h-1zM382 517h1v1h-1zM384 522h1v1h-1zM378 522h1v1h-1zM378 516h1v1h-1zM383 523h1v1h-1zM383 524h1v1h-1zM381 528h1v1h-1zM378 512h1v1h-1zM377 521h1v1h-1zM381 521h1v1h-1zM381 516h1v1h-1zM379 520h1v1h-1zM382 523h1v1h-1zM376 520h1v1h-1zM377 517h1v1h-1zM378 521h1v1h-1zM384 523h1v1h-1zM381 507h1v1h-1z"/>
</g>
<rect x="364.2" y="469.0" width="77.7" height="79.0" fill="none" stroke="#b4b4b4" stroke-width="0.9"/>
<rect x="396.5" y="473.9" width="37.7" height="73.3" fill="none" stroke="#000" stroke-width="2"/>
<line x1="396.50" y1="510.00" x2="434.20" y2="510.00" stroke="#000" stroke-width="2"/>
<text x="366.90" y="483.00" font-size="11.3">1%</text>
<text x="431.90" y="545.60" font-size="11.3" text-anchor="end">6%</text>
<text x="396.20" y="460.50" font-size="11" text-anchor="middle">Flt3</text>
<g class="tk" font-size="5.3" fill="#222"><text x="377.5" y="556.4">0</text><text x="381.5" y="556.4">10<tspan dy="-2.2" font-size="3.8">2</tspan></text><text x="399.3" y="556.4">10<tspan dy="-2.2" font-size="3.8">3</tspan></text><text x="416.3" y="556.4">10<tspan dy="-2.2" font-size="3.8">4</tspan></text><text x="431.2" y="556.4">10<tspan dy="-2.2" font-size="3.8">5</tspan></text></g>
<g filter="url(#fb)">
<path fill="#949494" d="M490 532h1v1h-1zM499 534h1v1h-1zM507 522h1v1h-1zM499 545h1v1h-1zM512 502h1v1h-1zM496 527h1v1h-1zM505 522h1v1h-1zM511 543h1v1h-1zM507 539h1v1h-1zM509 524h1v1h-1zM496 518h1v1h-1zM498 542h1v1h-1zM500 540h1v1h-1zM505 538h1v1h-1zM489 528h1v1h-1zM492 510h1v1h-1zM508 504h1v1h-1zM507 516h1v1h-1zM493 496h1v1h-1zM492 545h1v1h-1zM497 503h1v1h-1zM507 538h1v1h-1zM497 515h1v1h-1zM502 535h1v1h-1zM493 539h1v1h-1zM494 533h1v1h-1zM497 543h1v1h-1zM493 527h1v1h-1zM494 537h1v1h-1zM508 538h1v1h-1zM499 506h1v1h-1zM499 544h1v1h-1zM503 524h1v1h-1zM496 531h1v1h-1zM490 524h1v1h-1zM513 538h1v1h-1zM513 504h1v1h-1zM517 510h1v1h-1zM496 510h1v1h-1zM493 512h1v1h-1zM512 499h1v1h-1zM499 505h1v1h-1zM503 475h1v1h-1zM497 534h1v1h-1zM493 537h1v1h-1zM496 526h1v1h-1zM496 517h1v1h-1zM509 541h1v1h-1zM515 512h1v1h-1zM497 505h1v1h-1zM509 520h1v1h-1zM503 476h1v1h-1zM497 530h1v1h-1zM499 477h1v1h-1zM498 524h1v1h-1zM511 508h1v1h-1zM495 499h1v1h-1zM513 512h1v1h-1zM508 510h1v1h-1zM500 538h1v1h-1zM510 537h1v1h-1zM512 505h1v1h-1zM507 531h1v1h-1zM510 506h1v1h-1zM510 505h1v1h-1zM489 516h1v1h-1zM512 508h1v1h-1zM505 516h1v1h-1zM500 542h1v1h-1zM509 509h1v1h-1zM493 544h1v1h-1zM512 538h1v1h-1zM511 502h1v1h-1zM487 542h1v1h-1zM514 521h1v1h-1zM487 543h1v1h-1zM495 545h1v1h-1zM513 534h1v1h-1zM504 500h1v1h-1zM508 542h1v1h-1zM511 499h1v1h-1zM505 512h1v1h-1zM508 507h1v1h-1zM503 535h1v1h-1zM508 540h1v1h-1zM508 492h1v1h-1zM490 523h1v1h-1zM510 522h1v1h-1zM511 516h1v1h-1zM507 527h1v1h-1zM513 517h1v1h-1zM504 535h1v1h-1zM493 519h1v1h-1zM511 509h1v1h-1zM510 520h1v1h-1zM503 500h1v1h-1zM503 499h1v1h-1zM496 509h1v1h-1zM497 526h1v1h-1zM505 484h1v1h-1zM489 521h1v1h-1zM516 512h1v1h-1zM506 540h1v1h-1zM493 503h1v1h-1zM492 522h1v1h-1zM488 524h1v1h-1zM509 518h1v1h-1zM505 509h1v1h-1zM502 484h1v1h-1zM514 510h1v1h-1zM491 523h1v1h-1zM509 503h1v1h-1zM506 539h1v1h-1zM505 508h1v1h-1zM505 506h1v1h-1zM510 536h1v1h-1zM501 527h1v1h-1zM496 507h1v1h-1zM490 508h1v1h-1zM505 511h1v1h-1zM501 546h1v1h-1zM514 503h1v1h-1zM503 490h1v1h-1zM510 517h1v1h-1zM510 518h1v1h-1zM517 522h1v1h-1zM497 538h1v1h-1zM488 506h1v1h-1zM510 498h1v1h-1zM505 527h1v1h-1zM510 510h1v1h-1zM506 536h1v1h-1zM499 501h1v1h-1zM517 543h1v1h-1zM509 536h1v1h-1zM509 508h1v1h-1zM490 492h1v1h-1zM502 536h1v1h-1zM506 480h1v1h-1zM489 522h1v1h-1zM504 497h1v1h-1zM514 518h1v1h-1zM506 509h1v1h-1zM493 493h1v1h-1zM493 533h1v1h-1zM486 514h1v1h-1zM509 515h1v1h-1zM496 542h1v1h-1zM499 529h1v1h-1zM499 503h1v1h-1zM507 506h1v1h-1zM500 526h1v1h-1zM508 484h1v1h-1zM510 530h1v1h-1zM501 499h1v1h-1zM493 521h1v1h-1zM510 541h1v1h-1zM500 494h1v1h-1zM515 505h1v1h-1zM511 546h1v1h-1zM514 526h1v1h-1zM511 537h1v1h-1zM506 537h1v1h-1zM511 501h1v1h-1zM501 509h1v1h-1zM494 524h1v1h-1zM510 542h1v1h-1zM512 490h1v1h-1zM510 515h1v1h-1zM496 534h1v1h-1zM513 529h1v1h-1zM496 543h1v1h-1zM502 543h1v1h-1zM504 527h1v1h-1zM498 521h1v1h-1zM496 491h1v1h-1zM498 511h1v1h-1zM508 506h1v1h-1zM499 514h1v1h-1zM509 546h1v1h-1zM503 517h1v1h-1zM509 512h1v1h-1zM508 503h1v1h-1zM509 531h1v1h-1zM514 507h1v1h-1zM502 505h1v1h-1zM509 534h1v1h-1zM493 543h1v1h-1zM516 520h1v1h-1zM492 528h1v1h-1zM512 518h1v1h-1zM500 534h1v1h-1zM512 522h1v1h-1zM514 506h1v1h-1zM513 505h1v1h-1zM513 499h1v1h-1zM502 541h1v1h-1zM504 494h1v1h-1zM496 515h1v1h-1zM506 529h1v1h-1zM506 497h1v1h-1zM499 535h1v1h-1zM496 539h1v1h-1zM502 519h1v1h-1zM511 514h1v1h-1zM506 526h1v1h-1zM500 506h1v1h-1zM501 537h1v1h-1zM505 517h1v1h-1zM513 511h1v1h-1zM488 504h1v1h-1zM497 490h1v1h-1zM510 535h1v1h-1zM512 496h1v1h-1zM497 532h1v1h-1zM495 541h1v1h-1zM497 521h1v1h-1zM508 523h1v1h-1zM506 502h1v1h-1zM511 491h1v1h-1zM505 529h1v1h-1zM515 523h1v1h-1zM496 514h1v1h-1zM500 536h1v1h-1zM517 517h1v1h-1zM504 508h1v1h-1zM514 519h1v1h-1zM496 490h1v1h-1zM502 542h1v1h-1zM490 542h1v1h-1zM498 510h1v1h-1zM495 513h1v1h-1zM490 522h1v1h-1zM497 510h1v1h-1zM516 527h1v1h-1zM494 510h1v1h-1zM505 541h1v1h-1zM515 515h1v1h-1zM484 520h1v1h-1zM507 508h1v1h-1zM512 509h1v1h-1zM510 545h1v1h-1zM490 530h1v1h-1zM505 528h1v1h-1zM497 520h1v1h-1zM487 529h1v1h-1zM510 509h1v1h-1zM502 531h1v1h-1zM513 501h1v1h-1zM498 505h1v1h-1zM502 500h1v1h-1zM515 513h1v1h-1zM492 512h1v1h-1zM493 517h1v1h-1zM513 539h1v1h-1zM512 533h1v1h-1zM502 508h1v1h-1zM510 504h1v1h-1zM487 538h1v1h-1zM503 536h1v1h-1zM505 496h1v1h-1zM506 523h1v1h-1zM506 517h1v1h-1zM497 509h1v1h-1zM492 531h1v1h-1zM508 543h1v1h-1zM508 502h1v1h-1zM493 513h1v1h-1zM504 503h1v1h-1zM510 481h1v1h-1zM511 504h1v1h-1zM494 518h1v1h-1zM504 491h1v1h-1zM492 519h1v1h-1zM507 507h1v1h-1zM504 542h1v1h-1zM510 502h1v1h-1zM506 535h1v1h-1zM512 529h1v1h-1zM506 489h1v1h-1zM511 526h1v1h-1zM489 526h1v1h-1zM505 501h1v1h-1zM511 500h1v1h-1zM499 530h1v1h-1zM488 502h1v1h-1zM512 531h1v1h-1zM506 510h1v1h-1zM509 540h1v1h-1zM512 532h1v1h-1zM504 510h1v1h-1zM507 518h1v1h-1zM499 542h1v1h-1zM513 530h1v1h-1zM496 494h1v1h-1zM509 533h1v1h-1zM508 525h1v1h-1zM514 530h1v1h-1zM499 504h1v1h-1zM512 535h1v1h-1zM493 507h1v1h-1zM492 497h1v1h-1zM504 539h1v1h-1zM494 543h1v1h-1zM495 519h1v1h-1zM494 491h1v1h-1zM502 540h1v1h-1zM507 526h1v1h-1zM510 539h1v1h-1zM505 535h1v1h-1zM493 524h1v1h-1zM515 528h1v1h-1zM500 532h1v1h-1zM510 479h1v1h-1zM511 524h1v1h-1zM493 532h1v1h-1zM490 511h1v1h-1zM492 533h1v1h-1zM509 532h1v1h-1zM505 490h1v1h-1zM505 542h1v1h-1zM515 500h1v1h-1zM511 518h1v1h-1zM512 524h1v1h-1zM479 485h1v1h-1zM462 494h1v1h-1zM484 484h1v1h-1zM488 523h1v1h-1zM502 501h1v1h-1zM473 482h1v1h-1zM497 476h1v1h-1zM477 511h1v1h-1zM475 519h1v1h-1zM488 492h1v1h-1zM478 509h1v1h-1zM482 527h1v1h-1zM486 503h1v1h-1zM490 513h1v1h-1zM486 502h1v1h-1zM504 490h1v1h-1zM477 508h1v1h-1zM493 488h1v1h-1zM500 490h1v1h-1zM501 496h1v1h-1zM479 496h1v1h-1zM493 494h1v1h-1zM487 481h1v1h-1zM491 501h1v1h-1zM498 490h1v1h-1zM485 512h1v1h-1zM464 505h1v1h-1zM501 488h1v1h-1zM487 508h1v1h-1zM492 526h1v1h-1zM474 485h1v1h-1zM495 502h1v1h-1zM482 491h1v1h-1zM491 503h1v1h-1zM488 510h1v1h-1zM501 485h1v1h-1zM455 512h1v1h-1zM503 508h1v1h-1zM498 494h1v1h-1zM477 499h1v1h-1zM490 484h1v1h-1zM494 492h1v1h-1zM474 512h1v1h-1zM490 516h1v1h-1zM485 493h1v1h-1zM478 489h1v1h-1zM482 520h1v1h-1zM486 488h1v1h-1zM485 494h1v1h-1zM489 511h1v1h-1zM478 501h1v1h-1zM478 491h1v1h-1zM496 495h1v1h-1zM515 494h1v1h-1zM494 514h1v1h-1zM488 513h1v1h-1zM489 490h1v1h-1zM506 496h1v1h-1zM493 491h1v1h-1zM476 495h1v1h-1zM486 508h1v1h-1zM489 495h1v1h-1zM495 485h1v1h-1zM487 501h1v1h-1zM483 495h1v1h-1zM496 486h1v1h-1zM481 496h1v1h-1zM516 489h1v1h-1zM490 518h1v1h-1zM504 496h1v1h-1zM487 502h1v1h-1zM478 506h1v1h-1zM488 498h1v1h-1zM475 515h1v1h-1zM501 491h1v1h-1zM477 479h1v1h-1zM508 495h1v1h-1zM488 500h1v1h-1zM474 500h1v1h-1zM497 514h1v1h-1zM500 508h1v1h-1zM491 490h1v1h-1zM472 512h1v1h-1zM479 515h1v1h-1zM490 505h1v1h-1zM497 502h1v1h-1zM478 512h1v1h-1zM493 514h1v1h-1zM510 495h1v1h-1zM482 502h1v1h-1zM486 517h1v1h-1zM468 494h1v1h-1zM485 520h1v1h-1zM506 506h1v1h-1zM489 498h1v1h-1zM489 506h1v1h-1zM486 515h1v1h-1zM488 503h1v1h-1zM500 503h1v1h-1zM475 505h1v1h-1zM476 503h1v1h-1zM487 497h1v1h-1zM493 476h1v1h-1zM486 475h1v1h-1zM493 509h1v1h-1zM481 499h1v1h-1zM475 502h1v1h-1zM479 511h1v1h-1zM488 495h1v1h-1zM496 502h1v1h-1zM487 494h1v1h-1zM472 490h1v1h-1zM491 504h1v1h-1zM477 516h1v1h-1zM495 501h1v1h-1zM487 509h1v1h-1zM488 488h1v1h-1zM472 514h1v1h-1zM472 505h1v1h-1zM469 501h1v1h-1zM498 507h1v1h-1zM477 500h1v1h-1zM503 493h1v1h-1zM496 485h1v1h-1zM475 509h1v1h-1zM475 514h1v1h-1zM486 506h1v1h-1zM495 507h1v1h-1zM498 491h1v1h-1zM484 504h1v1h-1zM490 514h1v1h-1zM481 488h1v1h-1zM483 500h1v1h-1zM491 506h1v1h-1zM474 513h1v1h-1zM500 496h1v1h-1zM493 506h1v1h-1zM495 486h1v1h-1zM485 485h1v1h-1zM480 483h1v1h-1zM485 490h1v1h-1zM480 492h1v1h-1zM485 499h1v1h-1zM465 493h1v1h-1zM480 497h1v1h-1zM501 506h1v1h-1zM493 498h1v1h-1zM493 505h1v1h-1zM492 496h1v1h-1zM483 499h1v1h-1zM480 521h1v1h-1zM490 507h1v1h-1zM493 516h1v1h-1zM483 512h1v1h-1zM490 510h1v1h-1zM487 492h1v1h-1zM481 500h1v1h-1zM471 506h1v1h-1zM495 515h1v1h-1zM491 510h1v1h-1zM483 525h1v1h-1zM471 491h1v1h-1zM480 512h1v1h-1zM487 491h1v1h-1zM479 504h1v1h-1zM488 490h1v1h-1zM511 507h1v1h-1zM489 507h1v1h-1zM482 510h1v1h-1zM492 489h1v1h-1zM494 506h1v1h-1zM486 494h1v1h-1zM492 509h1v1h-1zM496 497h1v1h-1zM494 495h1v1h-1zM488 493h1v1h-1zM469 507h1v1h-1zM484 507h1v1h-1zM483 501h1v1h-1zM471 501h1v1h-1zM465 514h1v1h-1zM470 528h1v1h-1zM461 515h1v1h-1zM484 513h1v1h-1zM451 524h1v1h-1zM452 521h1v1h-1zM479 522h1v1h-1zM459 521h1v1h-1zM448 516h1v1h-1zM466 534h1v1h-1zM459 526h1v1h-1zM478 521h1v1h-1zM464 529h1v1h-1zM456 520h1v1h-1zM457 520h1v1h-1zM470 519h1v1h-1zM467 532h1v1h-1zM468 536h1v1h-1zM469 528h1v1h-1zM463 518h1v1h-1zM467 528h1v1h-1zM464 512h1v1h-1zM467 521h1v1h-1zM451 529h1v1h-1zM468 528h1v1h-1zM454 526h1v1h-1zM449 536h1v1h-1zM466 512h1v1h-1zM470 521h1v1h-1zM455 518h1v1h-1zM453 522h1v1h-1zM465 531h1v1h-1zM444 524h1v1h-1zM486 513h1v1h-1zM461 519h1v1h-1zM465 522h1v1h-1zM465 519h1v1h-1zM445 522h1v1h-1zM466 521h1v1h-1zM464 524h1v1h-1zM474 529h1v1h-1zM453 518h1v1h-1zM460 522h1v1h-1zM450 525h1v1h-1zM469 532h1v1h-1zM457 516h1v1h-1zM454 524h1v1h-1zM479 523h1v1h-1zM464 533h1v1h-1zM445 530h1v1h-1zM462 522h1v1h-1zM456 526h1v1h-1zM473 521h1v1h-1zM471 529h1v1h-1zM449 516h1v1h-1zM482 513h1v1h-1zM460 526h1v1h-1zM448 523h1v1h-1zM459 533h1v1h-1zM465 523h1v1h-1zM458 522h1v1h-1zM481 522h1v1h-1zM461 525h1v1h-1zM466 515h1v1h-1zM464 531h1v1h-1zM462 519h1v1h-1zM477 525h1v1h-1zM480 517h1v1h-1zM457 537h1v1h-1zM461 520h1v1h-1zM455 532h1v1h-1zM457 513h1v1h-1zM473 522h1v1h-1zM468 523h1v1h-1zM476 508h1v1h-1zM472 521h1v1h-1zM475 524h1v1h-1zM467 517h1v1h-1zM446 524h1v1h-1zM478 519h1v1h-1zM465 520h1v1h-1zM471 519h1v1h-1zM469 512h1v1h-1zM468 527h1v1h-1zM472 520h1v1h-1zM468 526h1v1h-1zM458 532h1v1h-1zM458 533h1v1h-1zM475 521h1v1h-1zM471 531h1v1h-1zM472 523h1v1h-1zM460 524h1v1h-1zM456 519h1v1h-1zM475 522h1v1h-1zM468 518h1v1h-1zM479 506h1v1h-1zM467 519h1v1h-1zM475 518h1v1h-1zM454 530h1v1h-1zM464 527h1v1h-1zM450 523h1v1h-1zM467 510h1v1h-1zM456 530h1v1h-1zM476 511h1v1h-1zM484 512h1v1h-1zM470 520h1v1h-1zM458 519h1v1h-1zM460 521h1v1h-1zM473 525h1v1h-1zM483 513h1v1h-1zM462 532h1v1h-1zM465 534h1v1h-1zM459 532h1v1h-1zM457 530h1v1h-1zM471 521h1v1h-1zM454 519h1v1h-1zM470 530h1v1h-1zM471 516h1v1h-1zM465 521h1v1h-1zM458 520h1v1h-1zM454 520h1v1h-1zM463 524h1v1h-1zM463 528h1v1h-1zM466 523h1v1h-1zM465 532h1v1h-1zM463 516h1v1h-1zM470 513h1v1h-1zM469 511h1v1h-1zM445 519h1v1h-1zM466 533h1v1h-1zM455 526h1v1h-1zM475 525h1v1h-1zM475 517h1v1h-1zM461 526h1v1h-1zM461 531h1v1h-1zM476 516h1v1h-1zM459 519h1v1h-1zM466 517h1v1h-1zM460 527h1v1h-1zM460 536h1v1h-1zM458 514h1v1h-1zM443 531h1v1h-1zM473 530h1v1h-1zM472 524h1v1h-1zM447 533h1v1h-1zM488 515h1v1h-1zM455 525h1v1h-1zM474 517h1v1h-1zM449 524h1v1h-1zM473 513h1v1h-1zM468 520h1v1h-1zM453 521h1v1h-1zM465 528h1v1h-1zM473 534h1v1h-1zM456 521h1v1h-1zM456 524h1v1h-1zM466 516h1v1h-1zM473 528h1v1h-1zM466 528h1v1h-1zM454 539h1v1h-1zM460 519h1v1h-1zM446 529h1v1h-1zM456 516h1v1h-1zM464 520h1v1h-1zM468 524h1v1h-1zM474 522h1v1h-1zM468 514h1v1h-1zM467 529h1v1h-1zM452 514h1v1h-1zM469 523h1v1h-1zM470 527h1v1h-1zM466 525h1v1h-1zM465 516h1v1h-1zM457 519h1v1h-1zM473 514h1v1h-1zM469 522h1v1h-1zM483 518h1v1h-1zM452 519h1v1h-1zM452 526h1v1h-1zM444 530h1v1h-1zM471 520h1v1h-1zM467 522h1v1h-1zM458 525h1v1h-1zM447 529h1v1h-1zM460 529h1v1h-1zM470 526h1v1h-1zM467 525h1v1h-1zM470 514h1v1h-1zM458 523h1v1h-1zM456 529h1v1h-1zM464 517h1v1h-1zM482 516h1v1h-1zM456 527h1v1h-1zM473 517h1v1h-1zM479 531h1v1h-1zM461 528h1v1h-1zM446 522h1v1h-1zM452 530h1v1h-1zM453 520h1v1h-1zM466 511h1v1h-1zM461 513h1v1h-1zM477 507h1v1h-1zM476 517h1v1h-1zM454 522h1v1h-1zM444 534h1v1h-1zM463 543h1v1h-1zM489 532h1v1h-1zM503 527h1v1h-1zM479 534h1v1h-1zM476 533h1v1h-1zM474 541h1v1h-1zM490 526h1v1h-1zM502 526h1v1h-1zM482 543h1v1h-1zM483 524h1v1h-1zM491 533h1v1h-1zM488 533h1v1h-1zM485 521h1v1h-1zM480 529h1v1h-1zM475 531h1v1h-1zM492 536h1v1h-1zM487 544h1v1h-1zM487 540h1v1h-1zM485 532h1v1h-1zM472 530h1v1h-1zM479 537h1v1h-1zM493 542h1v1h-1zM471 527h1v1h-1zM479 543h1v1h-1zM480 540h1v1h-1zM512 534h1v1h-1zM490 536h1v1h-1zM505 537h1v1h-1zM481 535h1v1h-1zM489 527h1v1h-1zM480 539h1v1h-1zM478 526h1v1h-1zM489 530h1v1h-1zM498 538h1v1h-1zM480 532h1v1h-1zM494 532h1v1h-1zM482 541h1v1h-1zM486 529h1v1h-1zM469 526h1v1h-1zM491 543h1v1h-1zM474 534h1v1h-1zM482 519h1v1h-1zM501 540h1v1h-1zM476 522h1v1h-1zM471 534h1v1h-1zM489 544h1v1h-1zM481 524h1v1h-1zM491 524h1v1h-1zM482 521h1v1h-1zM487 535h1v1h-1zM494 541h1v1h-1zM473 527h1v1h-1zM479 540h1v1h-1zM506 527h1v1h-1zM482 530h1v1h-1zM495 544h1v1h-1zM488 527h1v1h-1zM485 541h1v1h-1zM482 518h1v1h-1zM488 542h1v1h-1zM475 536h1v1h-1zM485 538h1v1h-1zM485 527h1v1h-1zM481 544h1v1h-1zM498 535h1v1h-1zM484 533h1v1h-1zM485 524h1v1h-1zM481 516h1v1h-1zM476 538h1v1h-1zM487 534h1v1h-1zM499 528h1v1h-1zM472 536h1v1h-1zM511 536h1v1h-1zM495 524h1v1h-1zM484 517h1v1h-1zM487 536h1v1h-1zM474 543h1v1h-1zM479 542h1v1h-1zM476 528h1v1h-1zM490 543h1v1h-1zM486 539h1v1h-1zM488 517h1v1h-1zM488 522h1v1h-1zM488 531h1v1h-1zM480 520h1v1h-1zM484 532h1v1h-1zM475 529h1v1h-1zM491 521h1v1h-1zM496 525h1v1h-1zM490 533h1v1h-1zM491 537h1v1h-1zM486 524h1v1h-1zM468 544h1v1h-1zM483 540h1v1h-1zM487 532h1v1h-1zM485 531h1v1h-1zM488 532h1v1h-1zM488 541h1v1h-1zM476 515h1v1h-1zM476 532h1v1h-1zM492 527h1v1h-1zM488 521h1v1h-1zM480 544h1v1h-1zM496 535h1v1h-1zM498 532h1v1h-1zM500 513h1v1h-1zM487 545h1v1h-1zM494 534h1v1h-1zM484 523h1v1h-1zM495 538h1v1h-1zM464 536h1v1h-1zM477 531h1v1h-1zM482 522h1v1h-1zM482 535h1v1h-1zM477 518h1v1h-1zM484 531h1v1h-1zM489 514h1v1h-1zM487 531h1v1h-1zM489 525h1v1h-1zM495 542h1v1h-1zM488 528h1v1h-1zM496 537h1v1h-1zM472 545h1v1h-1zM479 541h1v1h-1zM486 542h1v1h-1zM502 537h1v1h-1zM480 543h1v1h-1zM473 535h1v1h-1zM495 543h1v1h-1zM489 523h1v1h-1zM479 535h1v1h-1zM472 534h1v1h-1zM484 530h1v1h-1zM505 533h1v1h-1zM482 532h1v1h-1zM494 523h1v1h-1zM495 518h1v1h-1zM482 533h1v1h-1zM507 537h1v1h-1zM485 519h1v1h-1zM484 519h1v1h-1zM480 538h1v1h-1zM483 528h1v1h-1zM489 546h1v1h-1zM478 530h1v1h-1zM490 539h1v1h-1zM494 511h1v1h-1zM465 541h1v1h-1zM491 528h1v1h-1zM474 528h1v1h-1zM479 533h1v1h-1zM477 534h1v1h-1zM488 538h1v1h-1zM485 539h1v1h-1zM492 538h1v1h-1zM495 516h1v1h-1zM479 520h1v1h-1zM492 520h1v1h-1zM517 534h1v1h-1zM489 533h1v1h-1zM478 536h1v1h-1zM503 486h1v1h-1zM496 493h1v1h-1zM510 496h1v1h-1zM494 480h1v1h-1zM500 483h1v1h-1zM503 487h1v1h-1zM516 491h1v1h-1zM505 498h1v1h-1zM504 487h1v1h-1zM489 485h1v1h-1zM510 491h1v1h-1zM509 481h1v1h-1zM513 503h1v1h-1zM483 491h1v1h-1zM507 483h1v1h-1zM504 485h1v1h-1zM494 487h1v1h-1zM517 496h1v1h-1zM501 492h1v1h-1zM491 491h1v1h-1zM500 484h1v1h-1zM487 483h1v1h-1zM505 486h1v1h-1zM501 500h1v1h-1zM498 493h1v1h-1zM490 496h1v1h-1zM498 499h1v1h-1zM507 492h1v1h-1zM500 491h1v1h-1zM502 492h1v1h-1zM500 501h1v1h-1zM516 493h1v1h-1zM505 493h1v1h-1zM499 493h1v1h-1zM483 492h1v1h-1zM482 501h1v1h-1zM486 486h1v1h-1zM507 487h1v1h-1zM490 490h1v1h-1zM483 503h1v1h-1zM501 482h1v1h-1zM487 486h1v1h-1zM488 486h1v1h-1zM510 489h1v1h-1zM512 488h1v1h-1zM499 481h1v1h-1zM500 489h1v1h-1zM495 488h1v1h-1zM493 479h1v1h-1zM499 487h1v1h-1zM507 491h1v1h-1zM484 487h1v1h-1zM489 489h1v1h-1zM492 485h1v1h-1zM505 488h1v1h-1zM500 488h1v1h-1zM489 483h1v1h-1zM496 503h1v1h-1zM497 498h1v1h-1zM501 490h1v1h-1zM491 496h1v1h-1zM507 481h1v1h-1zM502 480h1v1h-1zM509 480h1v1h-1zM515 493h1v1h-1zM495 481h1v1h-1zM503 480h1v1h-1zM513 483h1v1h-1zM506 481h1v1h-1zM485 500h1v1h-1zM496 496h1v1h-1zM501 493h1v1h-1zM496 499h1v1h-1zM511 490h1v1h-1zM499 488h1v1h-1zM472 498h1v1h-1zM501 486h1v1h-1zM490 493h1v1h-1zM494 486h1v1h-1zM503 484h1v1h-1zM503 497h1v1h-1zM499 479h1v1h-1zM505 485h1v1h-1zM484 502h1v1h-1zM494 493h1v1h-1zM488 484h1v1h-1zM502 485h1v1h-1zM503 520h1v1h-1zM501 494h1v1h-1zM502 489h1v1h-1zM510 503h1v1h-1zM491 481h1v1h-1zM483 496h1v1h-1zM494 497h1v1h-1zM481 485h1v1h-1zM497 494h1v1h-1zM443 499h1v1h-1zM443 524h1v1h-1zM443 544h1v1h-1zM443 540h1v1h-1zM443 534h1v1h-1zM443 508h1v1h-1zM443 533h1v1h-1zM443 543h1v1h-1zM443 498h1v1h-1zM443 509h1v1h-1zM443 539h1v1h-1zM443 506h1v1h-1zM443 541h1v1h-1zM461 546h1v1h-1zM446 546h1v1h-1zM451 546h1v1h-1zM450 546h1v1h-1zM465 546h1v1h-1z"/>
<path fill="#626262" d="M494 517h1v1h-1zM507 524h1v1h-1zM508 515h1v1h-1zM505 505h1v1h-1zM501 536h1v1h-1zM498 509h1v1h-1zM510 534h1v1h-1zM504 513h1v1h-1zM504 520h1v1h-1zM494 507h1v1h-1zM508 516h1v1h-1zM503 525h1v1h-1zM499 509h1v1h-1zM495 525h1v1h-1zM496 519h1v1h-1zM495 509h1v1h-1zM508 532h1v1h-1zM495 536h1v1h-1zM511 531h1v1h-1zM498 520h1v1h-1zM509 523h1v1h-1zM507 529h1v1h-1zM504 532h1v1h-1zM503 515h1v1h-1zM509 501h1v1h-1zM498 522h1v1h-1zM508 521h1v1h-1zM494 501h1v1h-1zM492 518h1v1h-1zM486 512h1v1h-1zM492 505h1v1h-1zM495 528h1v1h-1zM487 522h1v1h-1zM510 512h1v1h-1zM503 538h1v1h-1zM496 513h1v1h-1zM500 533h1v1h-1zM492 490h1v1h-1zM504 515h1v1h-1zM509 517h1v1h-1zM503 506h1v1h-1zM501 539h1v1h-1zM502 510h1v1h-1zM503 498h1v1h-1zM502 514h1v1h-1zM517 497h1v1h-1zM497 500h1v1h-1zM505 502h1v1h-1zM502 522h1v1h-1zM499 539h1v1h-1zM506 538h1v1h-1zM497 495h1v1h-1zM496 528h1v1h-1zM492 514h1v1h-1zM498 498h1v1h-1zM507 536h1v1h-1zM506 518h1v1h-1zM508 535h1v1h-1zM496 538h1v1h-1zM505 515h1v1h-1zM502 528h1v1h-1zM511 521h1v1h-1zM497 541h1v1h-1zM503 510h1v1h-1zM512 510h1v1h-1zM506 508h1v1h-1zM511 523h1v1h-1zM504 502h1v1h-1zM493 529h1v1h-1zM508 517h1v1h-1zM487 524h1v1h-1zM517 512h1v1h-1zM495 511h1v1h-1zM489 509h1v1h-1zM498 523h1v1h-1zM508 514h1v1h-1zM514 516h1v1h-1zM494 521h1v1h-1zM511 520h1v1h-1zM504 499h1v1h-1zM494 496h1v1h-1zM510 527h1v1h-1zM498 543h1v1h-1zM507 517h1v1h-1zM507 497h1v1h-1zM491 508h1v1h-1zM504 492h1v1h-1zM499 533h1v1h-1zM506 543h1v1h-1zM511 527h1v1h-1zM510 519h1v1h-1zM509 513h1v1h-1zM501 513h1v1h-1zM497 522h1v1h-1zM506 534h1v1h-1zM510 514h1v1h-1zM494 512h1v1h-1zM514 513h1v1h-1zM515 525h1v1h-1zM493 508h1v1h-1zM504 507h1v1h-1zM499 531h1v1h-1zM499 527h1v1h-1zM499 507h1v1h-1zM501 516h1v1h-1zM496 516h1v1h-1zM484 501h1v1h-1zM499 532h1v1h-1zM506 503h1v1h-1zM492 516h1v1h-1zM505 504h1v1h-1zM497 527h1v1h-1zM496 533h1v1h-1zM504 514h1v1h-1zM486 523h1v1h-1zM495 506h1v1h-1zM500 517h1v1h-1zM514 539h1v1h-1zM493 515h1v1h-1zM503 533h1v1h-1zM494 519h1v1h-1zM499 518h1v1h-1zM500 514h1v1h-1zM508 520h1v1h-1zM504 511h1v1h-1zM501 505h1v1h-1zM505 519h1v1h-1zM499 517h1v1h-1zM500 525h1v1h-1zM502 513h1v1h-1zM508 512h1v1h-1zM500 509h1v1h-1zM497 506h1v1h-1zM495 520h1v1h-1zM494 526h1v1h-1zM502 518h1v1h-1zM511 506h1v1h-1zM514 501h1v1h-1zM500 535h1v1h-1zM508 533h1v1h-1zM507 509h1v1h-1zM499 543h1v1h-1zM517 494h1v1h-1zM502 530h1v1h-1zM512 530h1v1h-1zM497 544h1v1h-1zM508 509h1v1h-1zM511 525h1v1h-1zM506 515h1v1h-1zM508 537h1v1h-1zM508 526h1v1h-1zM500 515h1v1h-1zM508 511h1v1h-1zM503 522h1v1h-1zM503 526h1v1h-1zM501 510h1v1h-1zM506 511h1v1h-1zM492 530h1v1h-1zM498 517h1v1h-1zM498 537h1v1h-1zM500 497h1v1h-1zM494 503h1v1h-1zM495 531h1v1h-1zM500 527h1v1h-1zM510 516h1v1h-1zM506 530h1v1h-1zM509 521h1v1h-1zM504 517h1v1h-1zM509 522h1v1h-1zM503 534h1v1h-1zM497 497h1v1h-1zM509 519h1v1h-1zM502 504h1v1h-1zM509 530h1v1h-1zM515 542h1v1h-1zM502 527h1v1h-1zM504 509h1v1h-1zM490 527h1v1h-1zM493 536h1v1h-1zM511 515h1v1h-1zM502 491h1v1h-1zM508 497h1v1h-1zM491 509h1v1h-1zM513 516h1v1h-1zM495 493h1v1h-1zM492 525h1v1h-1zM495 503h1v1h-1zM497 501h1v1h-1zM512 504h1v1h-1zM494 516h1v1h-1zM509 529h1v1h-1zM494 515h1v1h-1zM493 520h1v1h-1zM490 504h1v1h-1zM501 523h1v1h-1zM501 541h1v1h-1zM491 535h1v1h-1zM499 536h1v1h-1zM501 543h1v1h-1zM504 498h1v1h-1zM502 520h1v1h-1zM498 514h1v1h-1zM503 531h1v1h-1zM498 529h1v1h-1zM508 524h1v1h-1zM490 499h1v1h-1zM498 495h1v1h-1zM506 505h1v1h-1zM492 515h1v1h-1zM486 528h1v1h-1zM489 519h1v1h-1zM504 530h1v1h-1zM493 535h1v1h-1zM491 520h1v1h-1zM498 544h1v1h-1zM494 539h1v1h-1zM499 525h1v1h-1zM504 534h1v1h-1zM498 496h1v1h-1zM484 497h1v1h-1zM500 505h1v1h-1zM504 501h1v1h-1zM496 511h1v1h-1zM494 530h1v1h-1zM502 499h1v1h-1zM474 523h1v1h-1zM495 496h1v1h-1zM483 486h1v1h-1zM491 502h1v1h-1zM498 502h1v1h-1zM491 493h1v1h-1zM485 517h1v1h-1zM482 494h1v1h-1zM486 498h1v1h-1zM482 503h1v1h-1zM490 503h1v1h-1zM497 486h1v1h-1zM484 515h1v1h-1zM501 489h1v1h-1zM489 499h1v1h-1zM485 513h1v1h-1zM474 511h1v1h-1zM495 492h1v1h-1zM497 499h1v1h-1zM483 519h1v1h-1zM502 496h1v1h-1zM475 520h1v1h-1zM473 509h1v1h-1zM497 512h1v1h-1zM491 484h1v1h-1zM488 509h1v1h-1zM503 494h1v1h-1zM489 494h1v1h-1zM492 498h1v1h-1zM497 487h1v1h-1zM506 492h1v1h-1zM474 509h1v1h-1zM491 511h1v1h-1zM488 489h1v1h-1zM486 501h1v1h-1zM486 497h1v1h-1zM501 483h1v1h-1zM494 500h1v1h-1zM477 489h1v1h-1zM487 500h1v1h-1zM485 504h1v1h-1zM478 515h1v1h-1zM494 494h1v1h-1zM492 495h1v1h-1zM486 492h1v1h-1zM503 488h1v1h-1zM486 487h1v1h-1zM506 490h1v1h-1zM457 517h1v1h-1zM473 516h1v1h-1zM469 518h1v1h-1zM462 528h1v1h-1zM456 523h1v1h-1zM476 519h1v1h-1zM477 515h1v1h-1zM457 526h1v1h-1zM481 515h1v1h-1zM469 513h1v1h-1zM466 526h1v1h-1zM474 520h1v1h-1zM459 523h1v1h-1zM476 520h1v1h-1zM471 525h1v1h-1zM478 518h1v1h-1zM469 521h1v1h-1zM460 520h1v1h-1zM474 526h1v1h-1zM461 527h1v1h-1zM453 526h1v1h-1zM472 522h1v1h-1zM452 527h1v1h-1zM463 523h1v1h-1zM456 522h1v1h-1zM450 520h1v1h-1zM465 530h1v1h-1zM474 530h1v1h-1zM477 524h1v1h-1zM455 524h1v1h-1zM465 524h1v1h-1zM454 528h1v1h-1zM457 527h1v1h-1zM456 525h1v1h-1zM461 521h1v1h-1zM480 519h1v1h-1zM476 523h1v1h-1zM463 531h1v1h-1zM462 529h1v1h-1zM469 519h1v1h-1zM477 517h1v1h-1zM459 528h1v1h-1zM470 517h1v1h-1zM471 518h1v1h-1zM471 514h1v1h-1zM467 518h1v1h-1zM463 526h1v1h-1zM475 527h1v1h-1zM466 524h1v1h-1zM474 519h1v1h-1zM458 515h1v1h-1zM459 524h1v1h-1zM487 523h1v1h-1zM469 530h1v1h-1zM488 530h1v1h-1zM487 527h1v1h-1zM483 530h1v1h-1zM481 532h1v1h-1zM485 528h1v1h-1zM488 540h1v1h-1zM479 529h1v1h-1zM484 528h1v1h-1zM487 526h1v1h-1zM487 520h1v1h-1zM487 530h1v1h-1zM492 524h1v1h-1zM485 537h1v1h-1zM481 525h1v1h-1zM482 529h1v1h-1zM475 541h1v1h-1zM487 537h1v1h-1zM486 536h1v1h-1zM487 521h1v1h-1zM480 531h1v1h-1zM490 529h1v1h-1zM492 540h1v1h-1zM490 528h1v1h-1zM483 526h1v1h-1zM497 536h1v1h-1zM483 531h1v1h-1zM488 535h1v1h-1zM481 523h1v1h-1zM490 535h1v1h-1zM484 526h1v1h-1zM478 539h1v1h-1zM497 479h1v1h-1zM490 494h1v1h-1zM512 482h1v1h-1zM496 500h1v1h-1zM501 497h1v1h-1zM496 501h1v1h-1zM506 484h1v1h-1zM508 487h1v1h-1zM502 498h1v1h-1zM499 502h1v1h-1zM505 482h1v1h-1zM492 487h1v1h-1zM514 491h1v1h-1zM502 486h1v1h-1zM443 530h1v1h-1zM443 496h1v1h-1zM443 527h1v1h-1zM443 512h1v1h-1zM443 495h1v1h-1zM443 528h1v1h-1zM470 546h1v1h-1zM463 546h1v1h-1zM448 546h1v1h-1zM471 546h1v1h-1zM466 546h1v1h-1zM447 546h1v1h-1zM449 546h1v1h-1zM469 546h1v1h-1zM462 546h1v1h-1zM468 546h1v1h-1z"/>
<path fill="#383838" d="M496 524h1v1h-1zM495 517h1v1h-1zM493 502h1v1h-1zM500 519h1v1h-1zM511 519h1v1h-1zM505 531h1v1h-1zM501 512h1v1h-1zM502 502h1v1h-1zM495 526h1v1h-1zM501 535h1v1h-1zM495 529h1v1h-1zM500 529h1v1h-1zM501 532h1v1h-1zM506 533h1v1h-1zM504 528h1v1h-1zM506 507h1v1h-1zM506 524h1v1h-1zM499 521h1v1h-1zM509 510h1v1h-1zM495 535h1v1h-1zM500 498h1v1h-1zM499 519h1v1h-1zM495 497h1v1h-1zM501 521h1v1h-1zM511 511h1v1h-1zM502 532h1v1h-1zM498 533h1v1h-1zM509 506h1v1h-1zM498 516h1v1h-1zM500 510h1v1h-1zM502 497h1v1h-1zM499 515h1v1h-1zM500 537h1v1h-1zM507 512h1v1h-1zM504 536h1v1h-1zM517 520h1v1h-1zM490 509h1v1h-1zM499 508h1v1h-1zM493 525h1v1h-1zM505 521h1v1h-1zM504 538h1v1h-1zM500 524h1v1h-1zM506 519h1v1h-1zM504 493h1v1h-1zM501 515h1v1h-1zM498 501h1v1h-1zM503 530h1v1h-1zM508 505h1v1h-1zM503 519h1v1h-1zM505 530h1v1h-1zM502 524h1v1h-1zM504 523h1v1h-1zM497 513h1v1h-1zM496 489h1v1h-1zM499 500h1v1h-1zM506 513h1v1h-1zM506 520h1v1h-1zM508 530h1v1h-1zM497 516h1v1h-1zM497 539h1v1h-1zM504 521h1v1h-1zM507 520h1v1h-1zM503 503h1v1h-1zM495 505h1v1h-1zM506 525h1v1h-1zM507 514h1v1h-1zM503 542h1v1h-1zM499 526h1v1h-1zM504 512h1v1h-1zM507 515h1v1h-1zM507 511h1v1h-1zM497 504h1v1h-1zM500 507h1v1h-1zM498 519h1v1h-1zM491 517h1v1h-1zM505 503h1v1h-1zM509 516h1v1h-1zM496 522h1v1h-1zM507 528h1v1h-1zM500 502h1v1h-1zM497 525h1v1h-1zM490 531h1v1h-1zM495 491h1v1h-1zM498 506h1v1h-1zM505 513h1v1h-1zM507 533h1v1h-1zM508 508h1v1h-1zM506 528h1v1h-1zM491 525h1v1h-1zM497 518h1v1h-1zM500 531h1v1h-1zM504 504h1v1h-1zM494 528h1v1h-1zM499 524h1v1h-1zM498 515h1v1h-1zM501 504h1v1h-1zM498 528h1v1h-1zM508 496h1v1h-1zM500 500h1v1h-1zM494 542h1v1h-1zM505 495h1v1h-1zM496 523h1v1h-1zM509 499h1v1h-1zM498 534h1v1h-1zM496 532h1v1h-1zM502 534h1v1h-1zM509 505h1v1h-1zM492 507h1v1h-1zM491 505h1v1h-1zM502 516h1v1h-1zM494 525h1v1h-1zM504 495h1v1h-1zM504 505h1v1h-1zM494 531h1v1h-1zM499 498h1v1h-1zM500 511h1v1h-1zM501 526h1v1h-1zM498 500h1v1h-1zM494 502h1v1h-1zM507 519h1v1h-1zM510 501h1v1h-1zM505 510h1v1h-1zM497 535h1v1h-1zM502 521h1v1h-1zM501 511h1v1h-1zM502 529h1v1h-1zM500 516h1v1h-1zM492 513h1v1h-1zM505 540h1v1h-1zM508 498h1v1h-1zM503 516h1v1h-1zM510 508h1v1h-1zM494 538h1v1h-1zM511 529h1v1h-1zM502 495h1v1h-1zM485 501h1v1h-1zM498 486h1v1h-1zM492 500h1v1h-1zM488 508h1v1h-1zM493 495h1v1h-1zM495 484h1v1h-1zM485 502h1v1h-1zM485 506h1v1h-1zM497 491h1v1h-1zM487 495h1v1h-1zM488 496h1v1h-1zM488 497h1v1h-1zM474 518h1v1h-1zM458 527h1v1h-1zM458 524h1v1h-1zM468 521h1v1h-1zM469 525h1v1h-1zM470 523h1v1h-1zM461 524h1v1h-1zM469 517h1v1h-1zM467 514h1v1h-1zM470 522h1v1h-1zM467 515h1v1h-1zM464 521h1v1h-1zM464 522h1v1h-1zM462 527h1v1h-1zM483 522h1v1h-1zM477 526h1v1h-1zM491 527h1v1h-1zM486 522h1v1h-1zM490 538h1v1h-1zM498 487h1v1h-1zM514 493h1v1h-1z"/>
<path fill="#151515" d="M500 522h1v1h-1zM504 522h1v1h-1zM508 522h1v1h-1zM512 525h1v1h-1zM503 518h1v1h-1zM507 499h1v1h-1zM504 506h1v1h-1zM499 512h1v1h-1zM507 521h1v1h-1zM502 512h1v1h-1zM500 518h1v1h-1zM503 521h1v1h-1zM503 514h1v1h-1zM498 527h1v1h-1zM504 525h1v1h-1zM500 530h1v1h-1zM508 527h1v1h-1zM502 511h1v1h-1zM505 534h1v1h-1zM504 533h1v1h-1zM506 514h1v1h-1zM504 516h1v1h-1zM504 518h1v1h-1zM500 523h1v1h-1zM501 514h1v1h-1zM505 526h1v1h-1zM494 535h1v1h-1zM503 513h1v1h-1zM507 510h1v1h-1zM502 490h1v1h-1zM510 513h1v1h-1zM505 514h1v1h-1zM499 522h1v1h-1zM501 518h1v1h-1zM500 521h1v1h-1zM505 518h1v1h-1zM502 517h1v1h-1zM499 537h1v1h-1zM505 520h1v1h-1zM502 509h1v1h-1zM497 529h1v1h-1zM503 528h1v1h-1zM508 528h1v1h-1zM492 532h1v1h-1zM500 493h1v1h-1zM501 525h1v1h-1zM501 522h1v1h-1zM503 512h1v1h-1zM507 532h1v1h-1zM498 512h1v1h-1zM508 518h1v1h-1zM507 523h1v1h-1zM497 523h1v1h-1zM500 512h1v1h-1zM501 517h1v1h-1zM505 525h1v1h-1zM501 519h1v1h-1zM501 529h1v1h-1zM499 511h1v1h-1zM503 529h1v1h-1zM499 516h1v1h-1zM508 519h1v1h-1zM505 524h1v1h-1zM503 504h1v1h-1zM503 501h1v1h-1zM491 534h1v1h-1zM503 511h1v1h-1zM497 517h1v1h-1zM499 513h1v1h-1zM503 523h1v1h-1zM486 510h1v1h-1zM503 505h1v1h-1zM496 521h1v1h-1zM500 495h1v1h-1zM501 495h1v1h-1zM492 504h1v1h-1zM468 522h1v1h-1zM467 520h1v1h-1zM466 518h1v1h-1zM464 523h1v1h-1zM483 527h1v1h-1z"/>
</g>
<rect x="441.9" y="469.0" width="76.7" height="79.0" fill="none" stroke="#b4b4b4" stroke-width="0.9"/>
<rect x="476.2" y="473.9" width="37.8" height="73.3" fill="none" stroke="#000" stroke-width="2"/>
<line x1="476.20" y1="510.00" x2="514.00" y2="510.00" stroke="#000" stroke-width="2"/>
<text x="445.70" y="483.00" font-size="11.3">19%</text>
<text x="446.40" y="545.60" font-size="11.3">65%</text>
<text x="476.00" y="460.50" font-size="11" text-anchor="middle">Irf8</text>
<g class="tk" font-size="5.3" fill="#222"><text x="455.2" y="556.4">0</text><text x="459.2" y="556.4">10<tspan dy="-2.2" font-size="3.8">2</tspan></text><text x="479.0" y="556.4">10<tspan dy="-2.2" font-size="3.8">3</tspan></text><text x="496.0" y="556.4">10<tspan dy="-2.2" font-size="3.8">4</tspan></text><text x="511.0" y="556.4">10<tspan dy="-2.2" font-size="3.8">5</tspan></text></g>
<line x1="13.40" y1="510.00" x2="13.40" y2="563.20" stroke="#000" stroke-width="2.1"/>
<line x1="12.40" y1="562.20" x2="188.00" y2="562.20" stroke="#000" stroke-width="2.3"/>
<path d="M12.9,500.8 L18.6,514.2 L12.9,510.5 L8.3,514.2 Z" fill="#000"/>
<path d="M194.2,562.2 L182.2,555.6 L186.2,562.2 L182.2,568.8 Z" fill="#000"/>
<text transform="translate(16.2,477.5) rotate(-90)" font-size="11" font-weight="bold" text-anchor="middle" textLength="34.2" lengthAdjust="spacingAndGlyphs">CD11c</text>
<text x="198.30" y="567.20" font-size="11.2" textLength="35.60" lengthAdjust="spacingAndGlyphs">MHC-II</text>
</svg></body></html>
